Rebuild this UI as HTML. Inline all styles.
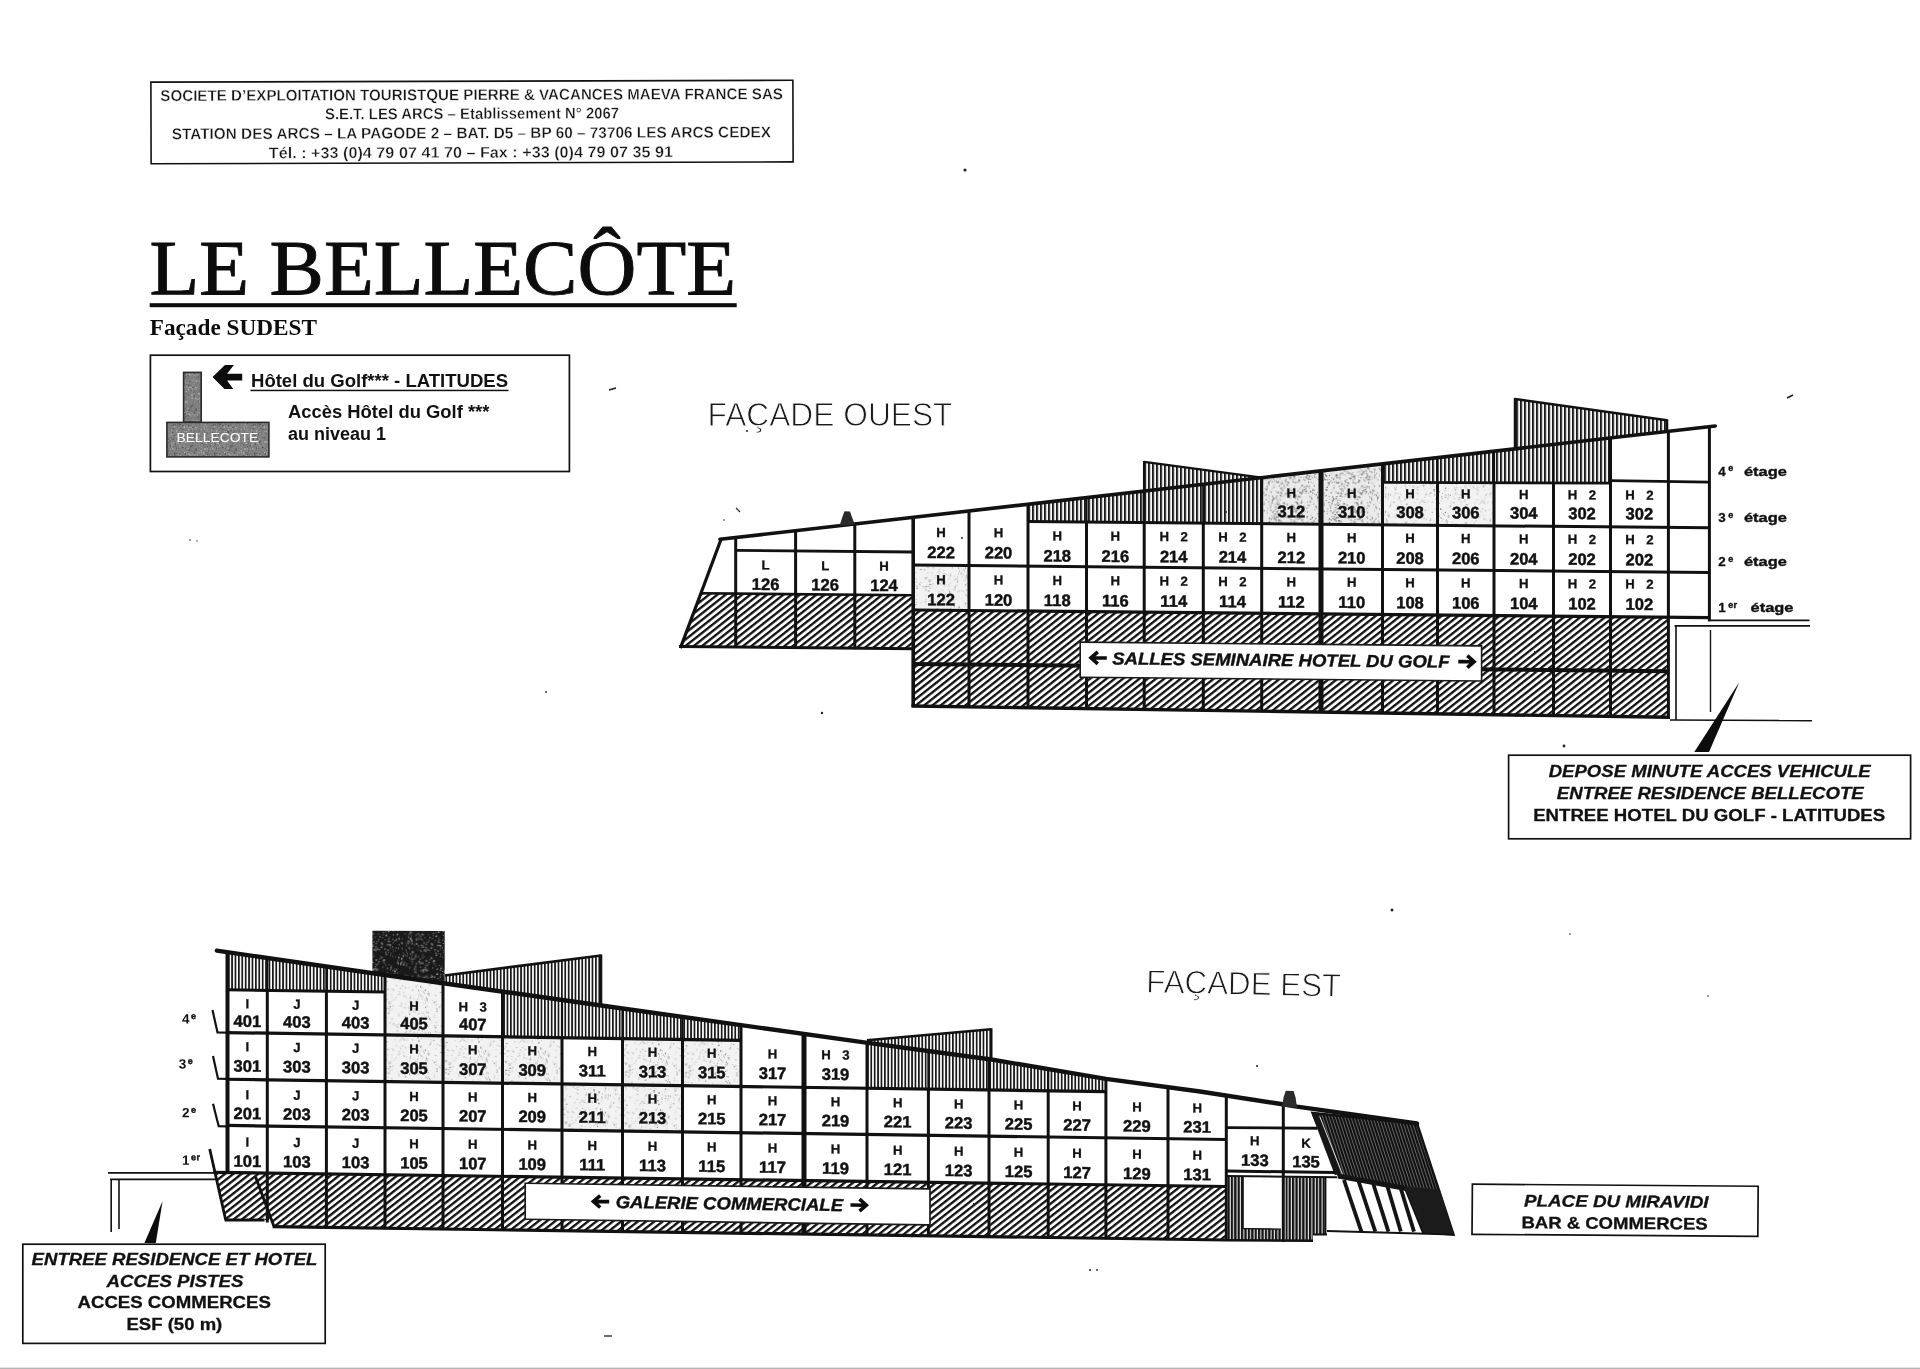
<!DOCTYPE html>
<html lang="fr"><head><meta charset="utf-8"><title>Le Bellecôte</title>
<style>html,body{margin:0;padding:0;background:#fff;}body{width:1920px;height:1369px;overflow:hidden;font-family:"Liberation Sans",sans-serif;}svg{display:block;position:absolute;left:0;top:0;filter:blur(0.35px);}</style>
</head><body>
<svg width="1920" height="1369" viewBox="0 0 1920 1369">
<defs>
<pattern id="hatch" width="5.1" height="5.1" patternUnits="userSpaceOnUse" patternTransform="rotate(-38.7)"><rect width="5.1" height="5.1" fill="#fff"/><rect width="5.1" height="2.3" fill="#111"/></pattern>
<pattern id="vsw" width="4" height="8" patternUnits="userSpaceOnUse"><rect width="4" height="8" fill="#f8f8f8"/><rect width="2.0" height="8" fill="#1a1a1a"/></pattern>
<pattern id="vse" width="3.4" height="8" patternUnits="userSpaceOnUse"><rect width="3.4" height="8" fill="#fff"/><rect width="1.75" height="8" fill="#1a1a1a"/></pattern>
<pattern id="vsb" width="3.4" height="8" patternUnits="userSpaceOnUse"><rect width="3.4" height="8" fill="#e8e8e8"/><rect width="2.3" height="8" fill="#151515"/></pattern>
<pattern id="vsd" width="3" height="8" patternUnits="userSpaceOnUse" patternTransform="rotate(-18)"><rect width="3" height="8" fill="#777"/><rect width="2.2" height="8" fill="#111"/></pattern>
<pattern id="spl" width="60" height="60" patternUnits="userSpaceOnUse">
<rect width="60" height="60" fill="#f2f2f2"/>
<rect x="19.43" y="9.05" width="1.02" height="0.56" fill="#bbb"/>
<rect x="5.65" y="34.97" width="1.23" height="0.67" fill="#777"/>
<rect x="26.02" y="4.19" width="0.57" height="0.84" fill="#bbb"/>
<rect x="7.43" y="13.39" width="1" height="1.26" fill="#bbb"/>
<rect x="35.13" y="2.98" width="0.68" height="0.95" fill="#999"/>
<rect x="17.38" y="8.66" width="0.59" height="0.75" fill="#999"/>
<rect x="6.18" y="34.27" width="0.65" height="0.58" fill="#777"/>
<rect x="33.86" y="37.14" width="0.9" height="0.93" fill="#aaa"/>
<rect x="27.94" y="55.41" width="0.79" height="0.7" fill="#999"/>
<rect x="41.94" y="14.65" width="0.96" height="0.92" fill="#aaa"/>
<rect x="43.77" y="17.28" width="1.28" height="0.59" fill="#666"/>
<rect x="9.9" y="20.52" width="1.25" height="0.84" fill="#777"/>
<rect x="45.87" y="34.38" width="1.2" height="0.75" fill="#aaa"/>
<rect x="35.66" y="34.79" width="0.86" height="1.17" fill="#aaa"/>
<rect x="28.45" y="39.85" width="0.55" height="1.06" fill="#bbb"/>
<rect x="59.59" y="49.32" width="0.73" height="0.81" fill="#aaa"/>
<rect x="1.35" y="27.7" width="0.63" height="0.59" fill="#777"/>
<rect x="13.09" y="17.25" width="1.09" height="0.82" fill="#666"/>
<rect x="4.83" y="26.95" width="0.94" height="1.21" fill="#666"/>
<rect x="51.84" y="16.71" width="0.83" height="0.79" fill="#666"/>
<rect x="57.46" y="9.06" width="0.64" height="0.69" fill="#999"/>
<rect x="0.72" y="49.87" width="0.65" height="0.73" fill="#999"/>
<rect x="25.14" y="22.16" width="0.95" height="1.26" fill="#bbb"/>
<rect x="57.01" y="39.3" width="1.09" height="0.87" fill="#bbb"/>
<rect x="23.54" y="23.94" width="0.58" height="1.01" fill="#777"/>
<rect x="11.44" y="59.08" width="0.85" height="0.59" fill="#bbb"/>
<rect x="3.15" y="0.01" width="0.62" height="0.58" fill="#aaa"/>
<rect x="36.82" y="4.22" width="0.67" height="0.8" fill="#aaa"/>
<rect x="57.33" y="36.14" width="0.88" height="0.59" fill="#666"/>
<rect x="59.59" y="27.96" width="0.89" height="0.57" fill="#777"/>
<rect x="44.98" y="44.42" width="0.88" height="1.05" fill="#bbb"/>
<rect x="1.39" y="57.06" width="0.92" height="0.62" fill="#bbb"/>
<rect x="54.85" y="45.49" width="0.74" height="1.01" fill="#777"/>
<rect x="41.77" y="15.67" width="0.79" height="0.63" fill="#999"/>
<rect x="31.96" y="46.74" width="0.76" height="0.68" fill="#999"/>
<rect x="48.36" y="49.1" width="1.09" height="0.68" fill="#bbb"/>
<rect x="29.57" y="43.86" width="1.29" height="1.13" fill="#666"/>
<rect x="15.55" y="41.55" width="1.27" height="0.86" fill="#aaa"/>
<rect x="57.3" y="21.88" width="0.68" height="0.68" fill="#999"/>
<rect x="20.26" y="28.96" width="1.29" height="0.99" fill="#777"/>
<rect x="28.77" y="39.18" width="1.14" height="0.57" fill="#777"/>
<rect x="54.59" y="46.94" width="1.1" height="0.88" fill="#999"/>
<rect x="26.04" y="38.15" width="0.57" height="1.26" fill="#666"/>
<rect x="27.79" y="44.6" width="0.57" height="0.63" fill="#999"/>
<rect x="1.65" y="35.45" width="0.87" height="1.02" fill="#bbb"/>
<rect x="49.59" y="58.82" width="1.03" height="0.78" fill="#bbb"/>
<rect x="32.9" y="1.28" width="1.14" height="1.08" fill="#777"/>
<rect x="31.59" y="56.02" width="0.85" height="1.2" fill="#999"/>
<rect x="1.68" y="12.77" width="0.9" height="1.11" fill="#aaa"/>
<rect x="15.56" y="25.14" width="0.6" height="1.23" fill="#aaa"/>
<rect x="53.86" y="39.75" width="1.15" height="0.91" fill="#bbb"/>
<rect x="7.85" y="9.11" width="0.91" height="1.2" fill="#999"/>
<rect x="36.51" y="46.56" width="0.62" height="0.61" fill="#bbb"/>
<rect x="43.51" y="33.39" width="0.76" height="0.91" fill="#bbb"/>
<rect x="28.95" y="46.59" width="1.21" height="0.55" fill="#999"/>
<rect x="16.62" y="46.34" width="0.91" height="0.95" fill="#777"/>
<rect x="26.59" y="36.75" width="0.9" height="0.91" fill="#aaa"/>
<rect x="27.14" y="32" width="0.88" height="1.25" fill="#bbb"/>
<rect x="52.59" y="56.53" width="0.71" height="0.95" fill="#999"/>
<rect x="50.4" y="8.23" width="0.6" height="0.85" fill="#777"/>
<rect x="40.27" y="25.7" width="0.67" height="0.74" fill="#777"/>
<rect x="53.82" y="9.27" width="1.07" height="1.03" fill="#999"/>
<rect x="15.19" y="8.24" width="0.87" height="1.1" fill="#777"/>
<rect x="23.9" y="29.24" width="1.29" height="1.17" fill="#999"/>
<rect x="42.38" y="59.64" width="0.82" height="0.84" fill="#aaa"/>
<rect x="19.11" y="43.33" width="0.52" height="0.94" fill="#666"/>
<rect x="42.19" y="23.06" width="0.91" height="0.74" fill="#777"/>
<rect x="6.77" y="55.11" width="0.68" height="1.2" fill="#777"/>
<rect x="15.93" y="2.38" width="1.12" height="0.72" fill="#999"/>
<rect x="49.19" y="50.98" width="1.04" height="1.26" fill="#666"/>
<rect x="8.96" y="55.15" width="0.96" height="1.06" fill="#777"/>
<rect x="16.74" y="47.98" width="0.65" height="1.22" fill="#aaa"/>
<rect x="56.3" y="38.07" width="1.14" height="0.57" fill="#999"/>
<rect x="4" y="51.77" width="0.86" height="0.77" fill="#bbb"/>
<rect x="25.07" y="54.93" width="1" height="0.53" fill="#999"/>
<rect x="56.29" y="58.15" width="0.71" height="0.64" fill="#aaa"/>
<rect x="37.72" y="31.87" width="0.66" height="0.86" fill="#999"/>
<rect x="16.23" y="48.22" width="1.3" height="0.53" fill="#777"/>
<rect x="43.98" y="33.06" width="0.65" height="0.88" fill="#666"/>
<rect x="6.38" y="49.14" width="0.85" height="0.9" fill="#666"/>
<rect x="58.22" y="18.47" width="0.67" height="0.68" fill="#999"/>
<rect x="49.94" y="42.4" width="1.01" height="0.82" fill="#aaa"/>
<rect x="58.91" y="50.22" width="0.51" height="1" fill="#aaa"/>
<rect x="25.84" y="3.32" width="1.03" height="0.8" fill="#bbb"/>
<rect x="40.23" y="16.92" width="0.69" height="0.73" fill="#666"/>
<rect x="11.12" y="16.14" width="0.5" height="0.79" fill="#aaa"/>
<rect x="58.36" y="32.82" width="0.7" height="1.27" fill="#aaa"/>
<rect x="13.07" y="10.98" width="0.77" height="0.57" fill="#aaa"/>
<rect x="30.17" y="12.06" width="0.9" height="0.5" fill="#aaa"/>
<rect x="49.02" y="8.63" width="0.97" height="0.82" fill="#aaa"/>
<rect x="18.25" y="13.97" width="0.97" height="0.92" fill="#999"/>
<rect x="39.45" y="42.96" width="1.2" height="0.81" fill="#aaa"/>
<rect x="43.24" y="29.65" width="0.73" height="0.99" fill="#999"/>
<rect x="2.63" y="50.12" width="1.21" height="1" fill="#bbb"/>
<rect x="8.36" y="31.43" width="0.9" height="1.17" fill="#777"/>
<rect x="49.58" y="35.04" width="1.21" height="1.05" fill="#999"/>
<rect x="5.11" y="2.51" width="1.01" height="1.27" fill="#666"/>
<rect x="50.15" y="33.51" width="1" height="1" fill="#999"/>
<rect x="29.36" y="0.2" width="1.14" height="1.1" fill="#bbb"/>
<rect x="53.87" y="5.52" width="0.92" height="1.1" fill="#666"/>
<rect x="15.13" y="4.47" width="0.71" height="1.08" fill="#999"/>
<rect x="13.84" y="39" width="0.87" height="1.18" fill="#777"/>
<rect x="28.74" y="41.02" width="1.11" height="0.99" fill="#999"/>
<rect x="4.65" y="8.85" width="0.7" height="1.09" fill="#aaa"/>
<rect x="37.27" y="8.01" width="0.89" height="0.89" fill="#777"/>
<rect x="41.53" y="40.54" width="0.73" height="0.91" fill="#666"/>
<rect x="27.95" y="46.03" width="1.29" height="0.94" fill="#aaa"/>
<rect x="58.69" y="56.18" width="0.51" height="0.87" fill="#bbb"/>
<rect x="58.09" y="26.97" width="0.71" height="0.67" fill="#999"/>
<rect x="4.48" y="5.42" width="1.1" height="0.71" fill="#aaa"/>
<rect x="7.96" y="49.21" width="0.91" height="1.21" fill="#aaa"/>
<rect x="13.88" y="53.86" width="0.89" height="0.52" fill="#777"/>
<rect x="57" y="40.9" width="0.82" height="1.08" fill="#666"/>
<rect x="20.64" y="18.96" width="1.17" height="0.5" fill="#aaa"/>
<rect x="50.35" y="7.2" width="1.24" height="1.07" fill="#aaa"/>
<rect x="15.19" y="3.9" width="0.81" height="1.2" fill="#777"/>
<rect x="21.64" y="25.68" width="0.72" height="0.54" fill="#777"/>
<rect x="3.1" y="39.72" width="1.01" height="0.62" fill="#aaa"/>
<rect x="26.17" y="18.94" width="1.12" height="1.13" fill="#666"/>
<rect x="53.06" y="48.72" width="1" height="1.23" fill="#bbb"/>
<rect x="32.95" y="43.17" width="0.54" height="1.09" fill="#666"/>
<rect x="36.89" y="8.31" width="1.2" height="0.89" fill="#bbb"/>
<rect x="7.64" y="28.33" width="0.77" height="0.74" fill="#aaa"/>
<rect x="24.37" y="14.32" width="0.89" height="1.04" fill="#777"/>
<rect x="10.04" y="9.7" width="0.67" height="1.22" fill="#666"/>
<rect x="33.02" y="27.18" width="0.77" height="1.11" fill="#666"/>
<rect x="8.38" y="11.54" width="0.57" height="0.77" fill="#777"/>
<rect x="19.16" y="22.1" width="1.15" height="0.66" fill="#777"/>
<rect x="44.98" y="24.77" width="0.83" height="0.92" fill="#666"/>
<rect x="16.21" y="45.13" width="0.9" height="0.96" fill="#aaa"/>
<rect x="7.55" y="30.2" width="1" height="1.19" fill="#999"/>
<rect x="5.56" y="53.81" width="0.81" height="1.02" fill="#666"/>
<rect x="57.24" y="50.92" width="1.2" height="0.52" fill="#777"/>
<rect x="25.51" y="45.82" width="1.14" height="1.27" fill="#666"/>
<rect x="0.01" y="23.49" width="1.24" height="1.16" fill="#666"/>
<rect x="58.33" y="14.91" width="0.59" height="0.62" fill="#bbb"/>
<rect x="58.31" y="6.53" width="1.16" height="1.06" fill="#666"/>
<rect x="5.1" y="46.61" width="0.5" height="0.6" fill="#bbb"/>
<rect x="55.2" y="38.73" width="0.74" height="0.6" fill="#aaa"/>
<rect x="31.7" y="26.25" width="1.11" height="0.58" fill="#aaa"/>
<rect x="31.47" y="34.97" width="0.81" height="0.68" fill="#bbb"/>
<rect x="0.07" y="32.25" width="1.3" height="0.72" fill="#aaa"/>
<rect x="38.67" y="53.03" width="0.88" height="0.69" fill="#999"/>
<rect x="1.76" y="24.71" width="1.02" height="0.54" fill="#999"/>
<rect x="29.9" y="40.47" width="0.84" height="0.71" fill="#666"/>
<rect x="55.51" y="13.61" width="0.53" height="0.77" fill="#666"/>
<rect x="21.74" y="23.78" width="0.51" height="0.73" fill="#bbb"/>
<rect x="4.05" y="29.74" width="0.66" height="1.11" fill="#999"/>
<rect x="13.85" y="13.29" width="1.11" height="0.74" fill="#bbb"/>
<rect x="29.75" y="11.24" width="0.68" height="0.83" fill="#777"/>
<rect x="56.93" y="8.78" width="0.81" height="0.67" fill="#bbb"/>
<rect x="8.51" y="3.11" width="0.55" height="0.81" fill="#aaa"/>
<rect x="43.96" y="59.85" width="1.25" height="0.76" fill="#999"/>
<rect x="39.15" y="31.49" width="0.87" height="0.75" fill="#666"/>
<rect x="50.35" y="59.1" width="0.85" height="0.59" fill="#777"/>
<rect x="16.79" y="21.09" width="1.26" height="0.6" fill="#999"/>
<rect x="22.81" y="46.12" width="0.75" height="1.14" fill="#777"/>
<rect x="2.96" y="28.41" width="0.8" height="1.24" fill="#999"/>
<rect x="19.4" y="44.24" width="0.88" height="1.01" fill="#999"/>
<rect x="48.71" y="46" width="0.53" height="0.53" fill="#777"/>
<rect x="48.2" y="3.72" width="0.66" height="0.55" fill="#bbb"/>
<rect x="20.34" y="16.34" width="1.27" height="0.99" fill="#aaa"/>
<rect x="44.79" y="41.37" width="1.24" height="0.74" fill="#bbb"/>
<rect x="54.99" y="38.04" width="1.25" height="0.52" fill="#999"/>
<rect x="6.44" y="42.93" width="0.87" height="1.12" fill="#aaa"/>
<rect x="54.81" y="48.89" width="0.61" height="0.9" fill="#777"/>
<rect x="48.15" y="44.31" width="1.16" height="1.12" fill="#bbb"/>
<rect x="14.17" y="51.67" width="0.87" height="1.13" fill="#bbb"/>
<rect x="4.74" y="11.84" width="1.1" height="0.7" fill="#777"/>
<rect x="38.97" y="28.9" width="0.94" height="0.63" fill="#666"/>
<rect x="53.01" y="59.27" width="0.71" height="0.57" fill="#777"/>
<rect x="25.26" y="59.31" width="1.28" height="0.64" fill="#999"/>
<rect x="25.01" y="37.22" width="1.04" height="1.1" fill="#777"/>
<rect x="46.79" y="17.64" width="0.72" height="0.71" fill="#aaa"/>
<rect x="44.28" y="11.95" width="0.7" height="0.7" fill="#999"/>
<rect x="16.88" y="54.45" width="0.65" height="0.55" fill="#aaa"/>
<rect x="59.55" y="30.44" width="0.69" height="1.15" fill="#666"/>
<rect x="59.46" y="6.14" width="0.88" height="1.16" fill="#666"/>
<rect x="54.86" y="2.42" width="0.73" height="0.6" fill="#999"/>
<rect x="36.03" y="49.68" width="0.66" height="0.56" fill="#bbb"/>
<rect x="51.97" y="26.95" width="0.71" height="1.12" fill="#777"/>
<rect x="6.35" y="35.77" width="1" height="0.67" fill="#aaa"/>
<rect x="20.4" y="2.65" width="1.3" height="0.53" fill="#999"/>
<rect x="48.88" y="49.13" width="0.83" height="0.8" fill="#bbb"/>
<rect x="18.73" y="12.2" width="1.14" height="0.94" fill="#777"/>
<rect x="24.49" y="47.75" width="1.03" height="0.62" fill="#bbb"/>
<rect x="5.47" y="9.82" width="1.06" height="0.83" fill="#aaa"/>
<rect x="40.07" y="25.07" width="0.54" height="1.1" fill="#aaa"/>
<rect x="24.84" y="1.09" width="1.11" height="1.14" fill="#999"/>
<rect x="23.44" y="24.3" width="1.25" height="0.85" fill="#999"/>
<rect x="25.43" y="49.22" width="0.82" height="1.21" fill="#666"/>
<rect x="46.38" y="7.8" width="0.54" height="0.61" fill="#666"/>
<rect x="5.34" y="37.33" width="0.8" height="0.9" fill="#999"/>
<rect x="20.88" y="9.71" width="0.64" height="0.55" fill="#666"/>
<rect x="29.43" y="48.29" width="1.27" height="0.66" fill="#999"/>
<rect x="50.24" y="2.61" width="1.23" height="0.75" fill="#bbb"/>
<rect x="55.57" y="23.27" width="1.22" height="1" fill="#999"/>
<rect x="38.42" y="51.4" width="1" height="0.99" fill="#999"/>
<rect x="49.75" y="10.98" width="0.67" height="0.82" fill="#bbb"/>
<rect x="9.39" y="21.55" width="0.62" height="1.28" fill="#999"/>
<rect x="2.47" y="33.74" width="1.11" height="0.53" fill="#aaa"/>
<rect x="7.06" y="35.97" width="0.94" height="1" fill="#aaa"/>
<rect x="38.94" y="18.49" width="0.7" height="0.81" fill="#aaa"/>
<rect x="26.81" y="26.3" width="0.52" height="1" fill="#666"/>
<rect x="27.92" y="26.81" width="0.99" height="1.16" fill="#999"/>
<rect x="48.63" y="24.02" width="0.55" height="0.79" fill="#aaa"/>
<rect x="5.5" y="26.52" width="0.91" height="0.53" fill="#999"/>
<rect x="4.93" y="44.01" width="1.12" height="0.91" fill="#777"/>
<rect x="45.12" y="53.69" width="1.02" height="1.13" fill="#777"/>
<rect x="51.42" y="59.77" width="1.09" height="1.15" fill="#999"/>
<rect x="7.9" y="53.14" width="0.73" height="1.15" fill="#999"/>
<rect x="41.17" y="43.26" width="0.68" height="1.17" fill="#bbb"/>
<rect x="45.37" y="9.53" width="1.22" height="0.72" fill="#666"/>
<rect x="8.61" y="30.13" width="1.24" height="0.67" fill="#aaa"/>
<rect x="36.95" y="14.24" width="0.8" height="0.66" fill="#666"/>
<rect x="9.67" y="56.18" width="1.04" height="1.22" fill="#999"/>
<rect x="47.53" y="15.86" width="1.11" height="0.54" fill="#aaa"/>
<rect x="57.97" y="27.18" width="0.92" height="1.05" fill="#777"/>
<rect x="15.12" y="32.14" width="1.19" height="1.09" fill="#aaa"/>
<rect x="15.89" y="59.43" width="0.96" height="0.79" fill="#777"/>
<rect x="26.54" y="10.61" width="1.09" height="0.54" fill="#bbb"/>
<rect x="15.22" y="38.35" width="1.29" height="0.97" fill="#aaa"/>
<rect x="43.98" y="44.83" width="0.68" height="0.73" fill="#666"/>
<rect x="25.06" y="21.85" width="0.54" height="0.89" fill="#bbb"/>
<rect x="39.19" y="1.34" width="0.5" height="0.78" fill="#777"/>
<rect x="31.39" y="32.05" width="0.83" height="0.74" fill="#999"/>
<rect x="12.25" y="37.44" width="0.88" height="0.61" fill="#999"/>
<rect x="42.45" y="27.05" width="0.55" height="0.62" fill="#aaa"/>
<rect x="24.12" y="15.85" width="0.51" height="1.02" fill="#bbb"/>
<rect x="53.56" y="35.68" width="0.96" height="0.98" fill="#bbb"/>
<rect x="44.01" y="14.91" width="1.22" height="0.54" fill="#bbb"/>
<rect x="1.51" y="11.14" width="0.63" height="1.23" fill="#777"/>
<rect x="0.74" y="33.06" width="1.25" height="0.61" fill="#999"/>
<rect x="31.1" y="38.56" width="1.02" height="0.83" fill="#bbb"/>
<rect x="10.48" y="18.56" width="0.74" height="0.54" fill="#666"/>
<rect x="42.92" y="0.38" width="1.18" height="1.1" fill="#666"/>
<rect x="4.83" y="39.33" width="0.64" height="1.3" fill="#aaa"/>
<rect x="13.94" y="2.33" width="0.77" height="1.1" fill="#aaa"/>
<rect x="42.7" y="15.96" width="0.94" height="0.85" fill="#bbb"/>
<rect x="58.31" y="17.74" width="1.24" height="1.22" fill="#777"/>
<rect x="52.8" y="0.91" width="0.71" height="0.69" fill="#999"/>
<rect x="56.68" y="44.77" width="0.76" height="1.2" fill="#aaa"/>
<rect x="36.07" y="22.77" width="1.18" height="1.24" fill="#bbb"/>
<rect x="28.17" y="50.38" width="1.06" height="1.19" fill="#666"/>
<rect x="57.34" y="14.03" width="1.21" height="1.13" fill="#666"/>
<rect x="37.36" y="4.67" width="1.23" height="0.62" fill="#777"/>
<rect x="6.71" y="37.32" width="0.63" height="1.28" fill="#777"/>
<rect x="1.85" y="8.3" width="1.01" height="0.53" fill="#777"/>
<rect x="44.21" y="3.95" width="0.97" height="0.79" fill="#bbb"/>
<rect x="53.48" y="3.96" width="1.19" height="1.23" fill="#666"/>
<rect x="6.43" y="12.34" width="0.59" height="0.53" fill="#777"/>
<rect x="49.5" y="37.89" width="0.73" height="0.58" fill="#777"/>
<rect x="47.52" y="38.78" width="0.74" height="0.77" fill="#aaa"/>
<rect x="1.26" y="15.4" width="0.73" height="1.07" fill="#aaa"/>
<rect x="54.62" y="46.15" width="0.98" height="0.88" fill="#aaa"/>
<rect x="37.1" y="1.86" width="0.83" height="0.85" fill="#777"/>
<rect x="20.81" y="42.28" width="0.93" height="0.67" fill="#777"/>
<rect x="34.47" y="17.23" width="0.85" height="0.92" fill="#aaa"/>
<rect x="45.73" y="58.67" width="0.5" height="0.89" fill="#666"/>
<rect x="41.71" y="49.52" width="1.27" height="0.97" fill="#bbb"/>
</pattern>
<pattern id="sph" width="60" height="60" patternUnits="userSpaceOnUse">
<rect width="60" height="60" fill="#ebebeb"/>
<rect x="15.63" y="56.63" width="0.86" height="0.79" fill="#777"/>
<rect x="29.9" y="6.6" width="1.17" height="0.67" fill="#888"/>
<rect x="47.22" y="37.68" width="0.92" height="0.96" fill="#666"/>
<rect x="53.51" y="44.71" width="0.98" height="1.18" fill="#999"/>
<rect x="12.37" y="15.79" width="1.41" height="1.05" fill="#666"/>
<rect x="58.94" y="37.84" width="1.45" height="0.71" fill="#888"/>
<rect x="45.27" y="45.18" width="1.18" height="0.91" fill="#999"/>
<rect x="31.3" y="52.08" width="1.01" height="1.1" fill="#999"/>
<rect x="10.17" y="26.33" width="1.3" height="1.12" fill="#777"/>
<rect x="20.04" y="38.56" width="1.23" height="1.06" fill="#999"/>
<rect x="18.09" y="42.19" width="1.36" height="0.74" fill="#777"/>
<rect x="58.49" y="43.39" width="1.14" height="0.91" fill="#777"/>
<rect x="19.68" y="11.36" width="1.48" height="1.26" fill="#555"/>
<rect x="9.88" y="39.47" width="0.78" height="0.74" fill="#777"/>
<rect x="47.69" y="44" width="0.99" height="0.78" fill="#555"/>
<rect x="16.85" y="53.11" width="1.02" height="0.61" fill="#666"/>
<rect x="41.61" y="30.03" width="1.17" height="1.02" fill="#777"/>
<rect x="15.43" y="44.29" width="0.6" height="0.82" fill="#666"/>
<rect x="42.07" y="35.25" width="1.18" height="1.36" fill="#888"/>
<rect x="51.15" y="40.78" width="1.18" height="1.01" fill="#999"/>
<rect x="15.59" y="42.04" width="1.41" height="0.82" fill="#666"/>
<rect x="42.79" y="37.78" width="0.83" height="0.98" fill="#666"/>
<rect x="1.18" y="51.51" width="1.07" height="1.19" fill="#777"/>
<rect x="53.67" y="19.68" width="0.61" height="1.35" fill="#555"/>
<rect x="2.29" y="32.6" width="0.74" height="1.3" fill="#777"/>
<rect x="31.15" y="6.07" width="1.12" height="1.09" fill="#666"/>
<rect x="30.73" y="38.36" width="1.35" height="1.07" fill="#666"/>
<rect x="44.53" y="27.41" width="1.49" height="0.77" fill="#888"/>
<rect x="45.76" y="7.34" width="1.49" height="0.92" fill="#555"/>
<rect x="15.15" y="22.91" width="0.66" height="0.67" fill="#666"/>
<rect x="37.71" y="40.49" width="1.12" height="0.7" fill="#999"/>
<rect x="44.49" y="56.4" width="1.07" height="0.8" fill="#666"/>
<rect x="27.73" y="9.87" width="1.44" height="0.66" fill="#777"/>
<rect x="28.15" y="33.72" width="0.8" height="1.47" fill="#999"/>
<rect x="39.96" y="49.84" width="1.32" height="0.97" fill="#999"/>
<rect x="45.59" y="38.98" width="1.3" height="1.02" fill="#777"/>
<rect x="16.05" y="22.57" width="0.83" height="0.98" fill="#777"/>
<rect x="28.89" y="48.33" width="1.32" height="0.92" fill="#999"/>
<rect x="19.22" y="29.1" width="1.16" height="0.68" fill="#999"/>
<rect x="9.17" y="18.19" width="0.95" height="0.68" fill="#888"/>
<rect x="54.35" y="47.04" width="0.73" height="1.35" fill="#888"/>
<rect x="0.9" y="0.69" width="1.46" height="1.19" fill="#999"/>
<rect x="36.49" y="34.71" width="1.37" height="0.77" fill="#666"/>
<rect x="20.79" y="9.16" width="1.41" height="1.31" fill="#777"/>
<rect x="36.57" y="41.28" width="1.48" height="0.68" fill="#888"/>
<rect x="47.28" y="50.33" width="0.78" height="1.22" fill="#888"/>
<rect x="4.72" y="50.36" width="1.2" height="0.71" fill="#555"/>
<rect x="15.87" y="14.05" width="0.73" height="1.04" fill="#555"/>
<rect x="29.06" y="54.33" width="1.23" height="0.82" fill="#777"/>
<rect x="32.37" y="51.77" width="0.61" height="1.36" fill="#666"/>
<rect x="41.75" y="29.86" width="0.87" height="1.02" fill="#666"/>
<rect x="25.13" y="57.64" width="0.67" height="1.17" fill="#555"/>
<rect x="1.23" y="2.75" width="1.26" height="1.5" fill="#555"/>
<rect x="30.64" y="29.08" width="1.41" height="0.63" fill="#666"/>
<rect x="37.52" y="20.32" width="1.38" height="0.93" fill="#666"/>
<rect x="46.71" y="33.25" width="1.42" height="0.86" fill="#999"/>
<rect x="25.34" y="33.24" width="1.34" height="0.86" fill="#666"/>
<rect x="24.22" y="30.22" width="0.84" height="1.06" fill="#777"/>
<rect x="39.27" y="47.52" width="0.9" height="0.89" fill="#999"/>
<rect x="7.65" y="58.36" width="0.68" height="1.5" fill="#666"/>
<rect x="43.36" y="53.14" width="1.09" height="0.64" fill="#999"/>
<rect x="6.51" y="2.78" width="1.34" height="1.03" fill="#555"/>
<rect x="47.34" y="54.59" width="1.15" height="1.16" fill="#888"/>
<rect x="52.58" y="4.98" width="0.64" height="1.17" fill="#777"/>
<rect x="6.08" y="10.88" width="0.63" height="1.3" fill="#555"/>
<rect x="22.13" y="49.36" width="1.31" height="1.11" fill="#999"/>
<rect x="51.75" y="11.09" width="0.63" height="0.62" fill="#888"/>
<rect x="38.51" y="56.03" width="0.65" height="1.11" fill="#555"/>
<rect x="49.49" y="46.43" width="0.98" height="1.23" fill="#666"/>
<rect x="26.79" y="0.85" width="0.95" height="1.13" fill="#777"/>
<rect x="28.53" y="24.75" width="0.69" height="1.18" fill="#777"/>
<rect x="53.75" y="37.61" width="0.98" height="0.61" fill="#555"/>
<rect x="59.2" y="51.51" width="0.8" height="0.71" fill="#666"/>
<rect x="1.07" y="43.16" width="0.82" height="1.26" fill="#777"/>
<rect x="55.37" y="21.95" width="1.27" height="1.23" fill="#777"/>
<rect x="43.78" y="5.06" width="1.17" height="1.24" fill="#666"/>
<rect x="40.17" y="53.4" width="1.42" height="0.65" fill="#555"/>
<rect x="0.68" y="0.88" width="1.19" height="1.34" fill="#555"/>
<rect x="23.34" y="18.75" width="1.14" height="1.46" fill="#666"/>
<rect x="36.54" y="18.98" width="1.45" height="1.25" fill="#666"/>
<rect x="40.61" y="8.69" width="1.32" height="0.93" fill="#777"/>
<rect x="37.78" y="25.08" width="0.95" height="1.31" fill="#999"/>
<rect x="47.08" y="34.01" width="0.86" height="0.65" fill="#888"/>
<rect x="19.92" y="36.35" width="1.48" height="1.35" fill="#888"/>
<rect x="49.96" y="35.08" width="1.48" height="0.82" fill="#666"/>
<rect x="41.09" y="36.11" width="1.41" height="1.33" fill="#999"/>
<rect x="41.31" y="19.29" width="0.84" height="0.74" fill="#555"/>
<rect x="17.31" y="8.44" width="1.4" height="1.49" fill="#777"/>
<rect x="16.43" y="51.07" width="1.33" height="1.22" fill="#666"/>
<rect x="20.81" y="5.1" width="1.1" height="1.32" fill="#777"/>
<rect x="47.26" y="43.33" width="1.48" height="0.88" fill="#555"/>
<rect x="40.66" y="27.92" width="0.79" height="0.83" fill="#555"/>
<rect x="47.5" y="27.58" width="0.68" height="1.33" fill="#555"/>
<rect x="13.97" y="34.78" width="1.41" height="1.4" fill="#888"/>
<rect x="19.26" y="30.37" width="0.78" height="0.79" fill="#555"/>
<rect x="10.84" y="42.06" width="0.93" height="1.11" fill="#666"/>
<rect x="46.78" y="51.42" width="0.82" height="1.43" fill="#666"/>
<rect x="22.44" y="6.37" width="1.17" height="1.31" fill="#777"/>
<rect x="18.95" y="1.82" width="0.85" height="1.15" fill="#555"/>
<rect x="2.01" y="59.42" width="1.38" height="1.04" fill="#888"/>
<rect x="12.81" y="55.53" width="0.85" height="0.69" fill="#666"/>
<rect x="46.03" y="49.13" width="1.47" height="0.83" fill="#555"/>
<rect x="20.33" y="59.68" width="0.94" height="0.62" fill="#555"/>
<rect x="33.44" y="52.24" width="1.01" height="1.45" fill="#555"/>
<rect x="51.78" y="38.39" width="1.43" height="1.24" fill="#555"/>
<rect x="15.43" y="33.87" width="1.18" height="1.46" fill="#888"/>
<rect x="23.59" y="26.9" width="0.74" height="1.47" fill="#777"/>
<rect x="10.33" y="56.5" width="1.45" height="0.65" fill="#888"/>
<rect x="54.27" y="50.23" width="0.64" height="1.31" fill="#666"/>
<rect x="3.35" y="8.69" width="1.28" height="1.45" fill="#999"/>
<rect x="35.39" y="26.48" width="1.19" height="1.02" fill="#999"/>
<rect x="15.42" y="7.45" width="1.03" height="0.75" fill="#777"/>
<rect x="48.45" y="54.86" width="1.4" height="1.02" fill="#777"/>
<rect x="47.93" y="9.42" width="1.35" height="0.67" fill="#888"/>
<rect x="52.01" y="53.32" width="0.73" height="1" fill="#555"/>
<rect x="55.56" y="23.1" width="0.62" height="0.67" fill="#999"/>
<rect x="19.35" y="14.03" width="0.7" height="0.93" fill="#999"/>
<rect x="13.3" y="3.4" width="1.24" height="1.1" fill="#777"/>
<rect x="26.34" y="8.96" width="0.98" height="0.82" fill="#555"/>
<rect x="16.27" y="50.37" width="0.9" height="0.75" fill="#666"/>
<rect x="6.55" y="27.37" width="1.03" height="0.74" fill="#888"/>
<rect x="3.41" y="53.7" width="1.2" height="0.79" fill="#666"/>
<rect x="50.12" y="7.15" width="1.28" height="1.47" fill="#666"/>
<rect x="59.46" y="59.89" width="1.43" height="0.69" fill="#999"/>
<rect x="24.94" y="9.73" width="1.35" height="1.48" fill="#777"/>
<rect x="58.72" y="0.96" width="1.33" height="0.91" fill="#777"/>
<rect x="26.58" y="47.37" width="1.45" height="0.86" fill="#999"/>
<rect x="26.11" y="54.72" width="0.8" height="1.11" fill="#777"/>
<rect x="50.6" y="31.3" width="0.81" height="0.76" fill="#888"/>
<rect x="4.76" y="5.25" width="1.15" height="1.05" fill="#999"/>
<rect x="10.52" y="8.22" width="1.2" height="1.17" fill="#777"/>
<rect x="34.98" y="12.14" width="0.66" height="1.26" fill="#666"/>
<rect x="50.46" y="54.97" width="1.07" height="0.91" fill="#999"/>
<rect x="50.51" y="51.87" width="1.04" height="0.61" fill="#666"/>
<rect x="8" y="39.93" width="0.82" height="1.11" fill="#999"/>
<rect x="2.2" y="42.14" width="1.12" height="1.37" fill="#999"/>
<rect x="31.19" y="26.75" width="1.06" height="0.71" fill="#777"/>
<rect x="48.99" y="51.93" width="0.89" height="1.24" fill="#666"/>
<rect x="34.58" y="53.88" width="0.86" height="0.7" fill="#666"/>
<rect x="26.79" y="1.54" width="1.32" height="0.72" fill="#777"/>
<rect x="58.05" y="13.42" width="0.76" height="0.69" fill="#999"/>
<rect x="33.32" y="57.32" width="0.62" height="1.43" fill="#777"/>
<rect x="15.69" y="50.24" width="1.17" height="1.02" fill="#777"/>
<rect x="42.16" y="6.17" width="1.38" height="1.25" fill="#555"/>
<rect x="16.38" y="27.89" width="1.13" height="1.29" fill="#555"/>
<rect x="7.32" y="24.34" width="0.72" height="1.13" fill="#777"/>
<rect x="8.83" y="34.37" width="1.27" height="0.75" fill="#555"/>
<rect x="56.25" y="23.32" width="0.98" height="1.36" fill="#888"/>
<rect x="2.17" y="58.23" width="0.65" height="0.93" fill="#666"/>
<rect x="14.42" y="20.1" width="0.99" height="1.48" fill="#999"/>
<rect x="48.9" y="50.86" width="0.65" height="1.07" fill="#999"/>
<rect x="14.96" y="25.33" width="1.17" height="0.93" fill="#888"/>
<rect x="11.25" y="19.46" width="0.78" height="1.2" fill="#777"/>
<rect x="8.36" y="58.18" width="1.3" height="1.44" fill="#555"/>
<rect x="48.56" y="53.06" width="1.4" height="0.63" fill="#888"/>
<rect x="15.95" y="40.71" width="0.85" height="1.09" fill="#555"/>
<rect x="37.28" y="15.03" width="1.07" height="0.99" fill="#555"/>
<rect x="17.25" y="18.32" width="1.18" height="0.71" fill="#888"/>
<rect x="57.54" y="55.26" width="1.41" height="0.68" fill="#888"/>
<rect x="32.03" y="8.9" width="0.71" height="0.72" fill="#999"/>
<rect x="54.94" y="34.64" width="0.85" height="1.26" fill="#888"/>
<rect x="17.23" y="27.25" width="1.23" height="0.8" fill="#666"/>
<rect x="12.07" y="42.62" width="1.01" height="1.09" fill="#888"/>
<rect x="28.67" y="49.13" width="0.63" height="0.9" fill="#777"/>
<rect x="30.75" y="22.99" width="1.13" height="0.61" fill="#999"/>
<rect x="9.74" y="57.12" width="0.89" height="0.89" fill="#999"/>
<rect x="17.09" y="59.25" width="0.87" height="1.29" fill="#777"/>
<rect x="33.07" y="36.36" width="0.91" height="1.19" fill="#888"/>
<rect x="23.27" y="26.39" width="1.26" height="0.7" fill="#777"/>
<rect x="59.36" y="40.66" width="1.44" height="0.98" fill="#999"/>
<rect x="8.42" y="12.15" width="1.15" height="0.85" fill="#888"/>
<rect x="5.7" y="51.38" width="1.43" height="1.5" fill="#999"/>
<rect x="47.1" y="42.51" width="1.42" height="0.71" fill="#555"/>
<rect x="0.26" y="45.94" width="1.13" height="1.05" fill="#888"/>
<rect x="8.98" y="51" width="0.85" height="1.16" fill="#555"/>
<rect x="22.77" y="27.14" width="1.01" height="1.25" fill="#999"/>
<rect x="21.18" y="31.57" width="1.14" height="1.18" fill="#555"/>
<rect x="47.22" y="50.97" width="1.05" height="1" fill="#777"/>
<rect x="32.21" y="48.18" width="0.99" height="0.94" fill="#777"/>
<rect x="5.28" y="55.21" width="0.89" height="1.36" fill="#777"/>
<rect x="57.53" y="12.26" width="0.98" height="1.42" fill="#555"/>
<rect x="1.53" y="15.39" width="1.41" height="0.87" fill="#888"/>
<rect x="46.41" y="32.31" width="1.5" height="1.07" fill="#888"/>
<rect x="43.63" y="25.8" width="1.02" height="0.64" fill="#999"/>
<rect x="27.18" y="0.62" width="0.66" height="0.81" fill="#666"/>
<rect x="22.46" y="24.05" width="1.11" height="1.12" fill="#777"/>
<rect x="57.87" y="29.2" width="1" height="1.16" fill="#888"/>
<rect x="20.6" y="31.81" width="1.33" height="0.75" fill="#999"/>
<rect x="22" y="4.51" width="0.88" height="0.76" fill="#999"/>
<rect x="41.39" y="49.23" width="1.49" height="1.4" fill="#666"/>
<rect x="37.87" y="31.44" width="1.33" height="0.79" fill="#777"/>
<rect x="24.74" y="3.61" width="1.11" height="0.7" fill="#888"/>
<rect x="59.62" y="38.19" width="0.64" height="0.97" fill="#555"/>
<rect x="18.4" y="41.44" width="0.6" height="0.87" fill="#555"/>
<rect x="35.17" y="40.09" width="0.78" height="1.05" fill="#888"/>
<rect x="34.02" y="52.27" width="1.41" height="1.06" fill="#777"/>
<rect x="34.47" y="24.67" width="0.71" height="0.74" fill="#888"/>
<rect x="6.4" y="6.01" width="0.75" height="1.07" fill="#666"/>
<rect x="36.78" y="48.4" width="0.66" height="0.61" fill="#888"/>
<rect x="19.37" y="42.93" width="0.92" height="0.75" fill="#999"/>
<rect x="37.72" y="51.56" width="1.45" height="0.66" fill="#777"/>
<rect x="26.99" y="23.14" width="0.65" height="1.4" fill="#888"/>
<rect x="45.84" y="2.64" width="0.65" height="0.81" fill="#777"/>
<rect x="2.64" y="55.85" width="1.37" height="0.88" fill="#666"/>
<rect x="18.22" y="36.15" width="1.46" height="1.05" fill="#555"/>
<rect x="14.58" y="23.39" width="1.25" height="0.8" fill="#999"/>
<rect x="23.92" y="42.71" width="0.62" height="1.38" fill="#555"/>
<rect x="10.41" y="21.5" width="0.77" height="1.47" fill="#999"/>
<rect x="23.76" y="21.78" width="0.9" height="1.38" fill="#999"/>
<rect x="24.19" y="3.93" width="0.71" height="1.34" fill="#999"/>
<rect x="33.23" y="23.24" width="1.02" height="0.91" fill="#666"/>
<rect x="2.09" y="39.86" width="0.91" height="0.74" fill="#777"/>
<rect x="5.56" y="16.18" width="1.35" height="0.72" fill="#666"/>
<rect x="28.02" y="47.7" width="0.82" height="0.93" fill="#777"/>
<rect x="43.35" y="22.61" width="1.46" height="0.79" fill="#666"/>
<rect x="30.29" y="13.64" width="1.01" height="0.72" fill="#999"/>
<rect x="35.76" y="26.42" width="1.49" height="1.08" fill="#666"/>
<rect x="36.49" y="12.75" width="1.39" height="0.71" fill="#888"/>
<rect x="5.49" y="51.11" width="1.26" height="1.29" fill="#555"/>
<rect x="39.45" y="34.06" width="0.88" height="0.95" fill="#555"/>
<rect x="41.68" y="46.57" width="0.81" height="0.77" fill="#555"/>
<rect x="4.08" y="54.83" width="1.32" height="1.28" fill="#777"/>
<rect x="3.95" y="18.68" width="0.8" height="0.71" fill="#666"/>
<rect x="16.94" y="24.2" width="1.42" height="1.3" fill="#777"/>
<rect x="56.2" y="10.58" width="0.93" height="1.32" fill="#999"/>
<rect x="53.82" y="1.52" width="1.23" height="1.02" fill="#666"/>
<rect x="21.13" y="37.73" width="0.76" height="0.7" fill="#888"/>
<rect x="44.04" y="42.76" width="0.64" height="0.64" fill="#777"/>
<rect x="25.84" y="45.42" width="0.74" height="1.26" fill="#888"/>
<rect x="18.66" y="38.3" width="0.76" height="1.36" fill="#888"/>
<rect x="29.87" y="31.25" width="1.43" height="1.2" fill="#888"/>
<rect x="20.94" y="0.06" width="1.35" height="1.3" fill="#999"/>
<rect x="54.06" y="52.51" width="1.13" height="1.23" fill="#777"/>
<rect x="40.86" y="2.23" width="0.89" height="1.3" fill="#999"/>
<rect x="44.97" y="5.17" width="1.23" height="0.95" fill="#888"/>
<rect x="49.72" y="16.87" width="0.68" height="1.45" fill="#666"/>
<rect x="26.55" y="20.42" width="1.05" height="1.22" fill="#666"/>
<rect x="30.52" y="40.6" width="0.79" height="1.21" fill="#777"/>
<rect x="29.37" y="11.36" width="1.46" height="1.34" fill="#888"/>
<rect x="15.67" y="32.78" width="1.47" height="1.17" fill="#888"/>
<rect x="15.62" y="57.82" width="0.75" height="0.91" fill="#555"/>
<rect x="12.08" y="18.63" width="0.72" height="1.24" fill="#666"/>
<rect x="14.27" y="14.5" width="1.06" height="1" fill="#999"/>
<rect x="41.88" y="8" width="1.24" height="1.13" fill="#777"/>
<rect x="20.01" y="48.92" width="1.09" height="1.28" fill="#777"/>
<rect x="40.62" y="9.29" width="1.48" height="1.36" fill="#666"/>
<rect x="49.87" y="6.87" width="0.86" height="0.92" fill="#777"/>
<rect x="2.6" y="53.75" width="0.87" height="0.7" fill="#999"/>
<rect x="26.88" y="6.78" width="0.89" height="1.02" fill="#999"/>
<rect x="17.37" y="33.45" width="0.64" height="1.02" fill="#666"/>
<rect x="5.04" y="43.03" width="1.48" height="1.11" fill="#555"/>
<rect x="38.71" y="57.4" width="1.04" height="1.31" fill="#999"/>
<rect x="0.5" y="55.17" width="1.18" height="1.16" fill="#999"/>
<rect x="39.18" y="4.69" width="1.27" height="0.62" fill="#666"/>
<rect x="50.37" y="17.78" width="0.77" height="1.17" fill="#777"/>
<rect x="6.13" y="43.13" width="0.88" height="1.16" fill="#666"/>
<rect x="11.07" y="49.52" width="0.89" height="0.93" fill="#888"/>
<rect x="55.18" y="50.27" width="0.83" height="0.65" fill="#555"/>
<rect x="34.01" y="37.69" width="1.34" height="1.24" fill="#555"/>
<rect x="56.7" y="29.66" width="1.05" height="0.74" fill="#999"/>
<rect x="36.16" y="37.59" width="0.73" height="0.8" fill="#777"/>
<rect x="26.59" y="58.19" width="0.68" height="0.64" fill="#666"/>
<rect x="28.76" y="13.1" width="0.94" height="0.63" fill="#888"/>
<rect x="51.32" y="47.22" width="0.98" height="0.85" fill="#555"/>
<rect x="30.88" y="25.27" width="0.9" height="0.99" fill="#777"/>
<rect x="54.24" y="9.87" width="0.87" height="1" fill="#888"/>
<rect x="40.52" y="34.05" width="1.02" height="1.09" fill="#888"/>
<rect x="27.63" y="58.28" width="1.42" height="1.38" fill="#666"/>
<rect x="57.71" y="37.19" width="1.33" height="0.65" fill="#999"/>
<rect x="36.55" y="17.82" width="1.11" height="1.46" fill="#666"/>
<rect x="39.39" y="8.21" width="1.38" height="1.08" fill="#555"/>
<rect x="50.89" y="13.35" width="1.27" height="1.22" fill="#777"/>
<rect x="39.63" y="22.32" width="1.12" height="0.97" fill="#888"/>
<rect x="14.41" y="26.48" width="0.83" height="0.8" fill="#777"/>
<rect x="32.89" y="6.74" width="1.38" height="0.83" fill="#555"/>
<rect x="11.25" y="40.21" width="1.24" height="0.8" fill="#666"/>
<rect x="13.59" y="34.36" width="0.7" height="1.06" fill="#888"/>
<rect x="34.01" y="51.09" width="1.21" height="1.32" fill="#777"/>
<rect x="51.81" y="33.03" width="1.24" height="1.28" fill="#555"/>
<rect x="37.6" y="57.62" width="1.06" height="1.01" fill="#666"/>
<rect x="32.66" y="58.08" width="0.77" height="1.03" fill="#555"/>
<rect x="8.21" y="46.57" width="0.65" height="0.81" fill="#999"/>
<rect x="2.5" y="42.12" width="1.46" height="1.01" fill="#555"/>
<rect x="42.45" y="25.56" width="1.4" height="1.16" fill="#777"/>
<rect x="33.78" y="55.05" width="1.38" height="0.75" fill="#999"/>
<rect x="48.25" y="44.16" width="0.61" height="0.83" fill="#777"/>
<rect x="22.38" y="44.23" width="1.45" height="1.25" fill="#555"/>
<rect x="48.99" y="21.21" width="0.92" height="0.89" fill="#888"/>
<rect x="6.78" y="55.52" width="1.21" height="0.83" fill="#777"/>
<rect x="41.64" y="1.28" width="1.49" height="1" fill="#555"/>
<rect x="29.28" y="4.43" width="0.83" height="0.74" fill="#999"/>
<rect x="52.42" y="40.17" width="1.35" height="1.13" fill="#999"/>
<rect x="32.31" y="41.37" width="1.33" height="1.45" fill="#555"/>
<rect x="1.49" y="59.67" width="1.04" height="1.04" fill="#555"/>
<rect x="48.03" y="2.13" width="0.76" height="1.34" fill="#888"/>
<rect x="23.55" y="28.55" width="0.74" height="1.36" fill="#666"/>
<rect x="13.75" y="57.48" width="1.07" height="0.92" fill="#888"/>
<rect x="12.98" y="53.64" width="1.13" height="0.64" fill="#777"/>
<rect x="49.15" y="43.63" width="0.9" height="1.02" fill="#999"/>
<rect x="18.86" y="20.13" width="1.04" height="0.8" fill="#777"/>
<rect x="27.56" y="59.18" width="0.64" height="0.73" fill="#777"/>
<rect x="16.36" y="16.4" width="1.05" height="0.84" fill="#888"/>
<rect x="34.41" y="35.06" width="0.73" height="1.23" fill="#888"/>
<rect x="54.16" y="5.72" width="0.78" height="0.98" fill="#888"/>
<rect x="38.08" y="21.77" width="0.85" height="1.32" fill="#777"/>
<rect x="40.88" y="18.24" width="1.29" height="1.27" fill="#888"/>
<rect x="51.19" y="14.71" width="1.39" height="1.24" fill="#999"/>
<rect x="3.63" y="20.23" width="0.89" height="1.49" fill="#666"/>
<rect x="30.22" y="53.65" width="1.33" height="1.5" fill="#777"/>
<rect x="8.14" y="0.43" width="1.38" height="1.01" fill="#666"/>
<rect x="23.76" y="46.34" width="1.44" height="1.13" fill="#777"/>
<rect x="18.09" y="18.51" width="1.25" height="1.1" fill="#999"/>
<rect x="4.41" y="11.41" width="1.43" height="1.13" fill="#999"/>
<rect x="34.83" y="59.25" width="0.92" height="1.3" fill="#666"/>
<rect x="43.27" y="55.32" width="1.35" height="0.89" fill="#777"/>
<rect x="16.55" y="15.45" width="0.62" height="0.75" fill="#999"/>
<rect x="14.21" y="1.2" width="0.64" height="1" fill="#888"/>
<rect x="16.96" y="30.11" width="0.69" height="0.82" fill="#555"/>
<rect x="57.79" y="36.06" width="0.67" height="1.33" fill="#888"/>
<rect x="20.47" y="8.2" width="0.77" height="1.08" fill="#555"/>
<rect x="38.39" y="55.37" width="0.79" height="0.89" fill="#555"/>
<rect x="38.94" y="24.32" width="1.21" height="0.9" fill="#555"/>
<rect x="51.8" y="47.78" width="0.68" height="1.15" fill="#666"/>
<rect x="59.27" y="23.97" width="1.45" height="1.39" fill="#555"/>
<rect x="55.52" y="33.85" width="1.49" height="0.65" fill="#888"/>
<rect x="42.61" y="50.1" width="0.74" height="0.62" fill="#777"/>
<rect x="8.56" y="46.03" width="0.68" height="1.33" fill="#666"/>
<rect x="20.65" y="40.81" width="1.38" height="0.74" fill="#888"/>
<rect x="34.5" y="13.8" width="1.16" height="1.33" fill="#666"/>
<rect x="45.8" y="46.56" width="0.88" height="1.3" fill="#666"/>
<rect x="33.56" y="21.68" width="1.08" height="0.85" fill="#999"/>
<rect x="0.54" y="28.55" width="1.19" height="1.3" fill="#999"/>
<rect x="9.04" y="37.73" width="0.96" height="1.48" fill="#555"/>
<rect x="37.48" y="7.33" width="1.09" height="0.78" fill="#777"/>
<rect x="15.55" y="36.36" width="1.26" height="1.41" fill="#777"/>
<rect x="31.71" y="21.05" width="1.24" height="1" fill="#666"/>
<rect x="12.79" y="54.74" width="1.41" height="0.95" fill="#777"/>
<rect x="19.43" y="54.21" width="0.7" height="1.26" fill="#555"/>
<rect x="48.41" y="54.82" width="1.21" height="0.92" fill="#777"/>
<rect x="33.85" y="24.6" width="1.43" height="1.45" fill="#777"/>
<rect x="1.84" y="1.25" width="1.24" height="0.82" fill="#999"/>
<rect x="12.19" y="45.55" width="1.18" height="0.87" fill="#666"/>
<rect x="13" y="34.17" width="0.74" height="1.38" fill="#999"/>
<rect x="57.26" y="8.19" width="0.87" height="0.68" fill="#555"/>
<rect x="29.13" y="53.46" width="0.75" height="1.21" fill="#888"/>
<rect x="57.41" y="12.72" width="0.65" height="1.3" fill="#999"/>
<rect x="2.77" y="46.44" width="1" height="0.99" fill="#777"/>
<rect x="59.69" y="17.86" width="0.62" height="0.7" fill="#555"/>
<rect x="8" y="18.16" width="1.05" height="0.92" fill="#777"/>
<rect x="27.87" y="23.83" width="0.97" height="1.18" fill="#666"/>
<rect x="52.92" y="58.78" width="0.63" height="0.81" fill="#555"/>
<rect x="2.27" y="30.29" width="0.81" height="0.99" fill="#555"/>
<rect x="43.71" y="2.9" width="1.4" height="0.66" fill="#555"/>
<rect x="7.23" y="29.24" width="0.72" height="0.99" fill="#777"/>
<rect x="13.43" y="32.43" width="1.17" height="1.09" fill="#555"/>
<rect x="31.8" y="50.37" width="1.46" height="0.67" fill="#777"/>
<rect x="51.19" y="58.32" width="0.8" height="0.67" fill="#777"/>
<rect x="0.91" y="16.14" width="1.47" height="0.78" fill="#555"/>
<rect x="24.49" y="33.4" width="0.93" height="0.61" fill="#555"/>
<rect x="39.19" y="32.64" width="1.09" height="1.22" fill="#999"/>
<rect x="23.96" y="19.1" width="0.98" height="1.48" fill="#666"/>
<rect x="45.66" y="52.9" width="1.32" height="1.41" fill="#555"/>
<rect x="14.35" y="30.06" width="1.49" height="1.22" fill="#666"/>
<rect x="59.46" y="49.53" width="1.2" height="0.68" fill="#888"/>
<rect x="47.04" y="54.51" width="0.64" height="1.22" fill="#999"/>
<rect x="41.09" y="26.55" width="1.2" height="1.01" fill="#888"/>
<rect x="0.06" y="44.77" width="1.37" height="1.06" fill="#888"/>
<rect x="32.77" y="22.79" width="1.34" height="1.31" fill="#666"/>
<rect x="21.31" y="3.85" width="1.48" height="0.84" fill="#999"/>
<rect x="4.32" y="47.84" width="1.2" height="1.43" fill="#999"/>
<rect x="15.74" y="50.46" width="1.37" height="0.91" fill="#888"/>
<rect x="28.6" y="13.27" width="0.73" height="1.43" fill="#888"/>
<rect x="21.85" y="12.29" width="0.75" height="0.93" fill="#777"/>
<rect x="9.15" y="39.71" width="0.76" height="1.45" fill="#555"/>
<rect x="19.32" y="21.71" width="1.38" height="0.99" fill="#666"/>
<rect x="9.23" y="15.09" width="0.69" height="0.92" fill="#888"/>
<rect x="31.28" y="27.17" width="0.68" height="0.96" fill="#666"/>
<rect x="41.7" y="26.96" width="1.03" height="1.32" fill="#888"/>
<rect x="8.99" y="40.81" width="0.93" height="1.07" fill="#777"/>
<rect x="37.36" y="31.4" width="1.32" height="0.83" fill="#888"/>
<rect x="12.05" y="34.23" width="0.65" height="0.76" fill="#888"/>
<rect x="16.48" y="19.44" width="0.82" height="1.35" fill="#555"/>
<rect x="31.51" y="29.6" width="0.68" height="0.72" fill="#999"/>
<rect x="37.07" y="22.3" width="0.64" height="1" fill="#999"/>
<rect x="2.51" y="45.19" width="1.47" height="0.99" fill="#888"/>
<rect x="48.65" y="21.14" width="0.95" height="1.12" fill="#888"/>
<rect x="11.5" y="58.28" width="1.24" height="0.94" fill="#777"/>
<rect x="19.77" y="4.25" width="1.28" height="0.94" fill="#888"/>
<rect x="24.88" y="56.14" width="1.18" height="1.31" fill="#555"/>
<rect x="35.57" y="27.75" width="1.02" height="1.36" fill="#666"/>
<rect x="59.7" y="10.57" width="0.66" height="0.96" fill="#777"/>
<rect x="30.71" y="49.48" width="1.2" height="1.27" fill="#666"/>
<rect x="32.5" y="55.55" width="0.86" height="0.9" fill="#666"/>
<rect x="46.19" y="7.09" width="0.8" height="0.67" fill="#555"/>
<rect x="6.1" y="5.3" width="1.28" height="1.11" fill="#555"/>
<rect x="49.44" y="11.99" width="0.9" height="1.38" fill="#888"/>
<rect x="41.46" y="25.08" width="1.13" height="1.5" fill="#555"/>
<rect x="52.32" y="8.73" width="0.9" height="1.07" fill="#555"/>
<rect x="11.17" y="32.33" width="1.07" height="0.68" fill="#666"/>
<rect x="15.3" y="51.53" width="1.1" height="1.06" fill="#666"/>
<rect x="40.86" y="18.41" width="0.82" height="0.94" fill="#666"/>
<rect x="51.4" y="15.43" width="0.78" height="0.65" fill="#888"/>
<rect x="39.14" y="55.95" width="1.19" height="1.24" fill="#777"/>
<rect x="21.94" y="48.09" width="0.78" height="1.43" fill="#888"/>
<rect x="39.83" y="43.76" width="0.61" height="0.66" fill="#888"/>
<rect x="49.4" y="2.12" width="0.8" height="1" fill="#777"/>
<rect x="42.63" y="48.15" width="1.13" height="1.01" fill="#666"/>
<rect x="12.23" y="12.19" width="0.76" height="1.37" fill="#555"/>
<rect x="2.94" y="51.76" width="0.66" height="1.14" fill="#777"/>
<rect x="0.85" y="43.28" width="1.26" height="0.75" fill="#777"/>
<rect x="40.43" y="40.5" width="0.87" height="0.79" fill="#777"/>
<rect x="8.75" y="55.07" width="0.79" height="0.69" fill="#555"/>
<rect x="12.1" y="5.49" width="0.65" height="0.8" fill="#999"/>
<rect x="42.37" y="26.54" width="0.98" height="1.38" fill="#777"/>
<rect x="2.51" y="50.17" width="0.86" height="0.81" fill="#888"/>
<rect x="47.83" y="42.42" width="1.25" height="0.88" fill="#999"/>
<rect x="19.46" y="50.48" width="0.74" height="1.32" fill="#777"/>
<rect x="23.49" y="1.98" width="0.94" height="1.18" fill="#777"/>
<rect x="39.29" y="41.65" width="0.78" height="0.73" fill="#777"/>
<rect x="25.79" y="40.73" width="0.7" height="1.35" fill="#555"/>
<rect x="39.45" y="12.63" width="1.19" height="1.07" fill="#555"/>
<rect x="17.45" y="20.88" width="1.28" height="1.05" fill="#555"/>
<rect x="12.03" y="16.8" width="0.87" height="1.13" fill="#555"/>
<rect x="12.08" y="28.23" width="1.29" height="1.29" fill="#777"/>
<rect x="34.73" y="17.99" width="1.12" height="0.69" fill="#555"/>
<rect x="20.66" y="56.66" width="1.19" height="0.65" fill="#999"/>
<rect x="21.01" y="28.86" width="0.9" height="0.93" fill="#555"/>
<rect x="47.26" y="17.89" width="0.66" height="1.1" fill="#555"/>
<rect x="44.82" y="6.78" width="0.75" height="0.95" fill="#555"/>
<rect x="2.02" y="30.8" width="0.69" height="1.18" fill="#777"/>
<rect x="24.92" y="50.23" width="0.67" height="1.25" fill="#777"/>
<rect x="21.57" y="39.76" width="0.68" height="0.6" fill="#666"/>
<rect x="18.2" y="15.68" width="0.7" height="0.81" fill="#777"/>
<rect x="29.77" y="32.16" width="0.71" height="1.02" fill="#777"/>
<rect x="34.1" y="2.52" width="0.83" height="1.45" fill="#999"/>
<rect x="24.22" y="12.21" width="0.71" height="0.82" fill="#888"/>
<rect x="30.11" y="53.44" width="0.61" height="1.45" fill="#666"/>
<rect x="47.5" y="42.08" width="0.79" height="1.27" fill="#555"/>
<rect x="45" y="9.22" width="0.84" height="0.63" fill="#666"/>
<rect x="37.45" y="6.58" width="1.11" height="0.71" fill="#888"/>
<rect x="13.06" y="14.61" width="1.3" height="1.06" fill="#555"/>
<rect x="49.28" y="4.38" width="0.9" height="0.69" fill="#777"/>
<rect x="37.09" y="41.51" width="1.33" height="0.91" fill="#666"/>
<rect x="35.51" y="10.97" width="0.89" height="1.44" fill="#666"/>
<rect x="1.93" y="47.32" width="0.73" height="1.06" fill="#777"/>
<rect x="9.07" y="20.66" width="0.73" height="0.78" fill="#777"/>
<rect x="41.16" y="42.52" width="0.66" height="0.6" fill="#666"/>
<rect x="2.26" y="31.53" width="0.9" height="0.66" fill="#888"/>
<rect x="38.18" y="11.94" width="1.16" height="1.36" fill="#666"/>
<rect x="5.54" y="43.05" width="0.91" height="0.75" fill="#666"/>
<rect x="40.36" y="44.73" width="0.72" height="1.35" fill="#999"/>
<rect x="54.29" y="44.7" width="1.35" height="1.32" fill="#888"/>
<rect x="9.88" y="23.15" width="1.18" height="1.44" fill="#888"/>
<rect x="17.94" y="57.66" width="1.08" height="1.45" fill="#555"/>
<rect x="4.08" y="46.99" width="1.32" height="1.28" fill="#777"/>
<rect x="14.41" y="35.26" width="1.11" height="1.39" fill="#888"/>
<rect x="54.49" y="41.12" width="1.24" height="0.95" fill="#666"/>
<rect x="47.62" y="40.97" width="1.45" height="1.34" fill="#666"/>
<rect x="56.89" y="13.7" width="1.2" height="1.31" fill="#888"/>
<rect x="54.25" y="25.6" width="0.87" height="0.87" fill="#888"/>
<rect x="0.98" y="6.64" width="1.33" height="0.98" fill="#888"/>
<rect x="17.97" y="8.75" width="1.09" height="0.67" fill="#666"/>
<rect x="50.67" y="37.16" width="0.86" height="0.68" fill="#999"/>
<rect x="11.24" y="53.37" width="0.97" height="1.08" fill="#777"/>
<rect x="7.24" y="40.98" width="0.64" height="1.34" fill="#777"/>
<rect x="23.38" y="19.96" width="0.74" height="0.75" fill="#999"/>
<rect x="53.39" y="36.61" width="1.4" height="0.95" fill="#666"/>
<rect x="19.11" y="52.57" width="1.31" height="1.15" fill="#777"/>
<rect x="23.46" y="0.54" width="1.37" height="0.69" fill="#777"/>
<rect x="27.27" y="48.56" width="0.83" height="0.92" fill="#555"/>
<rect x="59.07" y="44.07" width="1.28" height="1.2" fill="#777"/>
<rect x="55.72" y="53.63" width="1.2" height="0.67" fill="#888"/>
<rect x="19.87" y="15.98" width="0.87" height="0.87" fill="#666"/>
<rect x="56.27" y="48.52" width="0.65" height="1.19" fill="#666"/>
<rect x="21.82" y="58.57" width="0.65" height="1.35" fill="#555"/>
<rect x="33.44" y="26.86" width="1.28" height="1.4" fill="#888"/>
<rect x="44.99" y="2.11" width="0.89" height="0.72" fill="#999"/>
<rect x="8.67" y="35.25" width="1.12" height="0.64" fill="#666"/>
<rect x="10.41" y="35.37" width="1.48" height="1.16" fill="#777"/>
<rect x="17.47" y="32.66" width="0.98" height="1.48" fill="#555"/>
<rect x="48.29" y="40.59" width="0.94" height="1.47" fill="#999"/>
<rect x="41.45" y="16.65" width="0.75" height="1.12" fill="#555"/>
<rect x="47.62" y="20.83" width="0.73" height="1.06" fill="#555"/>
<rect x="9.73" y="44.3" width="0.75" height="0.88" fill="#555"/>
<rect x="35.24" y="58.29" width="1.3" height="0.92" fill="#777"/>
<rect x="16.34" y="53.47" width="1.03" height="1.16" fill="#666"/>
<rect x="24.18" y="40.89" width="0.93" height="0.89" fill="#666"/>
<rect x="16.01" y="12.24" width="1.42" height="1.01" fill="#666"/>
<rect x="38.23" y="46.72" width="0.88" height="0.74" fill="#888"/>
<rect x="28.21" y="33.52" width="1.2" height="1.28" fill="#999"/>
<rect x="23.5" y="43.04" width="0.96" height="1.33" fill="#555"/>
<rect x="15.58" y="46.28" width="0.64" height="1.34" fill="#888"/>
<rect x="18.34" y="36.13" width="0.92" height="1.48" fill="#555"/>
<rect x="52.54" y="5.78" width="1.14" height="1.35" fill="#555"/>
<rect x="55.8" y="9.96" width="0.76" height="1.25" fill="#555"/>
<rect x="46.48" y="23.67" width="1.45" height="1.27" fill="#999"/>
<rect x="24" y="29.99" width="0.9" height="1.38" fill="#777"/>
<rect x="31.91" y="31.27" width="1.2" height="1.41" fill="#777"/>
<rect x="12.78" y="40.91" width="1.43" height="0.66" fill="#555"/>
<rect x="51.12" y="40.07" width="1.12" height="0.96" fill="#888"/>
<rect x="43.73" y="47.11" width="1.21" height="1.37" fill="#777"/>
<rect x="9.07" y="40.29" width="1.28" height="1.05" fill="#999"/>
<rect x="53.93" y="44.58" width="1.34" height="1.18" fill="#999"/>
<rect x="7.88" y="42.25" width="1.23" height="1.15" fill="#999"/>
<rect x="42.72" y="46.29" width="1.14" height="1.06" fill="#888"/>
<rect x="12.78" y="13.43" width="0.68" height="1.21" fill="#555"/>
<rect x="21.58" y="41.97" width="0.66" height="1.35" fill="#999"/>
<rect x="13.1" y="27.46" width="1.29" height="1" fill="#888"/>
<rect x="3.55" y="26.74" width="1.1" height="1.33" fill="#555"/>
<rect x="32.27" y="28.06" width="1.04" height="0.86" fill="#999"/>
<rect x="57.88" y="31.84" width="0.81" height="1.1" fill="#777"/>
<rect x="16.9" y="58.43" width="1.12" height="1.24" fill="#777"/>
<rect x="46.69" y="1.7" width="1.05" height="0.98" fill="#555"/>
<rect x="57.27" y="16.42" width="0.68" height="0.7" fill="#666"/>
<rect x="30.73" y="35.33" width="0.8" height="1.38" fill="#555"/>
<rect x="48.25" y="57.68" width="0.9" height="1.49" fill="#555"/>
<rect x="38.51" y="34.54" width="0.99" height="1.47" fill="#888"/>
<rect x="27.28" y="20.5" width="0.77" height="0.96" fill="#999"/>
<rect x="45.57" y="4.59" width="1.41" height="0.61" fill="#777"/>
<rect x="47.41" y="44.58" width="1.3" height="0.78" fill="#999"/>
</pattern>
<pattern id="dark" width="50" height="50" patternUnits="userSpaceOnUse">
<rect width="50" height="50" fill="#1a1a1a"/>
<rect x="37.38" y="47.42" width="1.52" height="1.32" fill="#888"/>
<rect x="3.14" y="10.28" width="0.61" height="1.46" fill="#777"/>
<rect x="27.89" y="31.38" width="1.17" height="0.92" fill="#777"/>
<rect x="15.29" y="2.21" width="0.78" height="0.96" fill="#888"/>
<rect x="40.22" y="22.75" width="0.7" height="0.71" fill="#aaa"/>
<rect x="18.19" y="44.21" width="1.09" height="0.68" fill="#777"/>
<rect x="39.74" y="23.81" width="1.42" height="0.73" fill="#888"/>
<rect x="26.42" y="12.56" width="0.99" height="0.95" fill="#888"/>
<rect x="46.88" y="9.65" width="0.88" height="1.41" fill="#999"/>
<rect x="38.72" y="36.29" width="0.76" height="1.5" fill="#999"/>
<rect x="6.69" y="0.64" width="0.81" height="1.19" fill="#999"/>
<rect x="1.38" y="40.66" width="1.57" height="0.69" fill="#888"/>
<rect x="10.2" y="28.64" width="1.51" height="1.46" fill="#777"/>
<rect x="31.23" y="44.27" width="1.08" height="1.24" fill="#aaa"/>
<rect x="0.37" y="10.22" width="0.95" height="1.48" fill="#888"/>
<rect x="29.56" y="6.31" width="0.8" height="1.06" fill="#999"/>
<rect x="38.08" y="28.51" width="1.32" height="1.46" fill="#aaa"/>
<rect x="20.01" y="33.64" width="1.31" height="0.84" fill="#999"/>
<rect x="34.6" y="23.59" width="0.74" height="1.51" fill="#999"/>
<rect x="3.14" y="11.93" width="1.59" height="0.83" fill="#999"/>
<rect x="28.3" y="37.26" width="0.82" height="1.34" fill="#888"/>
<rect x="12.13" y="45.4" width="0.8" height="0.6" fill="#999"/>
<rect x="2.43" y="12.02" width="1.53" height="0.82" fill="#888"/>
<rect x="46.52" y="31.93" width="1.52" height="0.86" fill="#aaa"/>
<rect x="23.4" y="23.94" width="1.56" height="1.36" fill="#888"/>
<rect x="9.35" y="40.35" width="0.76" height="1.11" fill="#888"/>
<rect x="25.49" y="47.84" width="0.98" height="1.48" fill="#888"/>
<rect x="42.57" y="27.79" width="1.42" height="1.1" fill="#888"/>
<rect x="35.3" y="33.07" width="1.22" height="1.06" fill="#888"/>
<rect x="27.99" y="10.43" width="0.79" height="1.11" fill="#999"/>
<rect x="10.44" y="35.41" width="1.34" height="1.27" fill="#888"/>
<rect x="30.63" y="4.32" width="1.12" height="1.28" fill="#888"/>
<rect x="36.51" y="42.49" width="1.45" height="0.7" fill="#777"/>
<rect x="13.7" y="15.46" width="0.9" height="1.09" fill="#777"/>
<rect x="38.44" y="0.35" width="0.67" height="0.71" fill="#aaa"/>
<rect x="26.01" y="22.78" width="1.01" height="1.21" fill="#aaa"/>
<rect x="45.82" y="36.63" width="1.4" height="1.51" fill="#888"/>
<rect x="35.83" y="1.53" width="1.28" height="1.45" fill="#999"/>
<rect x="40.06" y="2.74" width="1.22" height="0.89" fill="#777"/>
<rect x="35.32" y="12.63" width="0.9" height="0.95" fill="#777"/>
<rect x="19.11" y="8.11" width="0.76" height="1.55" fill="#999"/>
<rect x="38.12" y="41.84" width="1.59" height="1.35" fill="#777"/>
<rect x="40.18" y="0.66" width="1.14" height="0.94" fill="#777"/>
<rect x="46.05" y="16.44" width="1.37" height="1.37" fill="#777"/>
<rect x="39.73" y="26.6" width="0.7" height="1.43" fill="#777"/>
<rect x="21.25" y="16.85" width="0.66" height="0.72" fill="#999"/>
<rect x="8.06" y="26.55" width="1.25" height="1.14" fill="#999"/>
<rect x="46.57" y="25.94" width="1.38" height="1.23" fill="#aaa"/>
<rect x="10.9" y="37.75" width="1.49" height="1.31" fill="#999"/>
<rect x="35.79" y="49.49" width="0.78" height="1.04" fill="#aaa"/>
<rect x="34.53" y="37.3" width="1.35" height="0.85" fill="#777"/>
<rect x="48.03" y="4.59" width="1.47" height="1.24" fill="#aaa"/>
<rect x="32.81" y="29.89" width="1.29" height="0.9" fill="#888"/>
<rect x="36.48" y="26.78" width="0.67" height="0.67" fill="#888"/>
<rect x="36.12" y="32.42" width="1.11" height="1.48" fill="#999"/>
<rect x="8.89" y="5" width="0.9" height="1.01" fill="#aaa"/>
<rect x="22.25" y="36.42" width="0.69" height="1.53" fill="#777"/>
<rect x="16.13" y="10.3" width="0.99" height="1.38" fill="#888"/>
<rect x="42.75" y="40.14" width="1.27" height="0.88" fill="#888"/>
<rect x="42.28" y="3.63" width="0.69" height="1.38" fill="#777"/>
<rect x="33.06" y="9.03" width="0.74" height="0.7" fill="#888"/>
<rect x="19.15" y="32.61" width="1.17" height="0.82" fill="#888"/>
<rect x="14.79" y="13.42" width="1.53" height="1.54" fill="#777"/>
<rect x="18.18" y="36.13" width="0.74" height="1.39" fill="#777"/>
<rect x="18.52" y="8.31" width="1.26" height="1.47" fill="#aaa"/>
<rect x="14.26" y="19.04" width="1.36" height="0.82" fill="#aaa"/>
<rect x="44.33" y="38.13" width="1.45" height="0.84" fill="#999"/>
<rect x="13.15" y="0.38" width="0.7" height="0.98" fill="#777"/>
<rect x="11.74" y="1.47" width="1.04" height="0.72" fill="#999"/>
<rect x="27.76" y="24.61" width="1" height="1.08" fill="#aaa"/>
<rect x="45.49" y="21.29" width="0.66" height="0.79" fill="#777"/>
<rect x="18.06" y="23.46" width="1.54" height="1.15" fill="#888"/>
<rect x="25.47" y="24.2" width="0.82" height="1.21" fill="#999"/>
<rect x="5.5" y="47.18" width="1.12" height="0.84" fill="#aaa"/>
<rect x="25.52" y="15.81" width="0.7" height="1.08" fill="#999"/>
<rect x="46.2" y="23.05" width="1.33" height="0.67" fill="#999"/>
<rect x="31.55" y="4.9" width="0.88" height="1.39" fill="#888"/>
<rect x="5.99" y="49.21" width="1.08" height="0.78" fill="#888"/>
<rect x="31.38" y="40.58" width="1.5" height="1.24" fill="#888"/>
<rect x="26.86" y="11.7" width="1.1" height="1.2" fill="#777"/>
<rect x="7.25" y="40.18" width="1.55" height="1.34" fill="#777"/>
<rect x="32.82" y="32.54" width="1.3" height="0.62" fill="#999"/>
<rect x="45.08" y="4.1" width="0.82" height="0.64" fill="#999"/>
<rect x="48.77" y="41.96" width="0.9" height="0.91" fill="#aaa"/>
<rect x="46.97" y="20.1" width="1.28" height="0.61" fill="#999"/>
<rect x="11.66" y="23.85" width="1.11" height="1.55" fill="#999"/>
<rect x="33.63" y="10.61" width="1.51" height="0.79" fill="#999"/>
<rect x="10.1" y="49.98" width="1.06" height="0.83" fill="#777"/>
<rect x="1.59" y="8.88" width="1.01" height="1.31" fill="#777"/>
<rect x="38.5" y="11.92" width="1.44" height="0.75" fill="#777"/>
<rect x="30.33" y="23.75" width="1.15" height="0.99" fill="#777"/>
<rect x="12.02" y="6.03" width="1.56" height="0.75" fill="#aaa"/>
<rect x="49.92" y="6.76" width="0.92" height="1.35" fill="#aaa"/>
<rect x="11.72" y="8.38" width="1.19" height="1.05" fill="#999"/>
<rect x="12.66" y="28.51" width="0.82" height="0.75" fill="#777"/>
<rect x="48.39" y="35.6" width="0.69" height="1.04" fill="#888"/>
<rect x="48.37" y="45.2" width="0.67" height="1.35" fill="#aaa"/>
<rect x="43.52" y="21" width="1.13" height="1.45" fill="#888"/>
<rect x="22.31" y="24.98" width="1.13" height="1.28" fill="#777"/>
<rect x="44.94" y="48.12" width="0.79" height="0.68" fill="#777"/>
<rect x="28.52" y="9.08" width="1.29" height="0.86" fill="#aaa"/>
<rect x="20.6" y="47.82" width="0.86" height="1.42" fill="#888"/>
<rect x="31.21" y="23.58" width="1.27" height="1.4" fill="#888"/>
<rect x="22.24" y="17" width="1.36" height="1.56" fill="#aaa"/>
<rect x="23.28" y="16.21" width="1.57" height="1.58" fill="#888"/>
<rect x="47.9" y="10.36" width="1.01" height="1.56" fill="#aaa"/>
<rect x="18.54" y="35.41" width="0.98" height="1.09" fill="#777"/>
<rect x="6.38" y="11.13" width="0.81" height="0.87" fill="#888"/>
<rect x="25.49" y="44.23" width="1.22" height="1.25" fill="#999"/>
<rect x="29.12" y="47.12" width="1.18" height="0.96" fill="#999"/>
<rect x="15.72" y="40.57" width="1.29" height="1.28" fill="#aaa"/>
<rect x="19.7" y="5.86" width="1.23" height="0.89" fill="#aaa"/>
<rect x="31.73" y="35.24" width="1.57" height="0.8" fill="#777"/>
<rect x="32.44" y="8.17" width="0.66" height="1.05" fill="#888"/>
<rect x="9.92" y="0.75" width="1.13" height="1.33" fill="#777"/>
<rect x="1.45" y="39.92" width="1.44" height="0.69" fill="#aaa"/>
<rect x="0.2" y="11.5" width="0.87" height="1.31" fill="#aaa"/>
<rect x="0.97" y="5.71" width="1.53" height="1.57" fill="#aaa"/>
<rect x="23.49" y="3.67" width="0.95" height="0.89" fill="#999"/>
<rect x="43.74" y="16.65" width="1.53" height="0.86" fill="#777"/>
<rect x="4.57" y="31.2" width="1.3" height="0.86" fill="#777"/>
<rect x="17.08" y="24.59" width="0.79" height="1.53" fill="#888"/>
<rect x="37.56" y="41.95" width="1.02" height="0.9" fill="#888"/>
<rect x="11.47" y="39.86" width="1.4" height="0.69" fill="#aaa"/>
<rect x="9.56" y="35.39" width="1.4" height="1.39" fill="#aaa"/>
<rect x="31.12" y="41.24" width="1.07" height="1.04" fill="#888"/>
<rect x="9.64" y="29.12" width="0.71" height="1.23" fill="#aaa"/>
<rect x="37.54" y="25.07" width="1.12" height="0.93" fill="#888"/>
<rect x="1.55" y="36.22" width="0.82" height="0.89" fill="#999"/>
<rect x="30.74" y="45.09" width="0.8" height="0.91" fill="#777"/>
<rect x="6.56" y="3.1" width="1.06" height="0.94" fill="#777"/>
<rect x="19.83" y="26.15" width="0.91" height="1.37" fill="#777"/>
<rect x="4.46" y="2.45" width="1.11" height="0.75" fill="#aaa"/>
<rect x="23.09" y="9.89" width="0.72" height="1.11" fill="#777"/>
<rect x="34.29" y="23.82" width="0.91" height="0.67" fill="#888"/>
<rect x="31.19" y="21.87" width="0.67" height="1.4" fill="#aaa"/>
<rect x="22.48" y="42.61" width="1.54" height="1.02" fill="#777"/>
<rect x="26.75" y="38.99" width="1.32" height="0.91" fill="#888"/>
<rect x="5.25" y="22.79" width="1.24" height="0.88" fill="#888"/>
<rect x="42.91" y="47.17" width="1.16" height="0.66" fill="#888"/>
<rect x="15" y="3.43" width="1.35" height="1.37" fill="#999"/>
<rect x="25.99" y="7.24" width="1.3" height="1.32" fill="#888"/>
<rect x="1.59" y="45.49" width="1.27" height="1.13" fill="#888"/>
<rect x="15.8" y="40.93" width="1.2" height="1.01" fill="#aaa"/>
<rect x="8.68" y="38.25" width="1.03" height="0.94" fill="#888"/>
<rect x="44.56" y="22.9" width="1.15" height="0.69" fill="#999"/>
<rect x="23.64" y="47.82" width="1.2" height="0.89" fill="#999"/>
<rect x="19.66" y="10.09" width="1.39" height="1.35" fill="#999"/>
<rect x="5.35" y="40.67" width="0.94" height="0.85" fill="#777"/>
<rect x="25.64" y="40.71" width="1.3" height="1.58" fill="#777"/>
<rect x="15.67" y="36.47" width="1.45" height="1.28" fill="#999"/>
<rect x="2.82" y="0.01" width="0.83" height="0.94" fill="#777"/>
<rect x="30.33" y="44.97" width="1.55" height="0.93" fill="#777"/>
<rect x="40.95" y="13.3" width="0.97" height="0.97" fill="#777"/>
<rect x="19.72" y="14.2" width="1.54" height="0.61" fill="#999"/>
<rect x="37.81" y="38.49" width="1.17" height="1.51" fill="#888"/>
<rect x="49.53" y="36.4" width="1.35" height="1.41" fill="#777"/>
<rect x="25.23" y="16.3" width="1.04" height="0.91" fill="#aaa"/>
<rect x="26.96" y="16.82" width="1.42" height="0.95" fill="#aaa"/>
<rect x="42.39" y="43.94" width="0.74" height="1.54" fill="#888"/>
<rect x="39.68" y="42.13" width="1.58" height="1.55" fill="#999"/>
<rect x="39.15" y="39.11" width="1.47" height="0.81" fill="#777"/>
<rect x="18.05" y="3.2" width="0.72" height="1.49" fill="#888"/>
<rect x="11.35" y="3.53" width="0.67" height="1.34" fill="#aaa"/>
<rect x="43" y="32" width="0.91" height="1.08" fill="#999"/>
<rect x="15.49" y="31.62" width="1.49" height="1.07" fill="#777"/>
<rect x="36.69" y="15.58" width="1.47" height="1.17" fill="#888"/>
<rect x="29.99" y="49.89" width="1.5" height="0.67" fill="#999"/>
<rect x="20.82" y="44.02" width="1.27" height="0.81" fill="#777"/>
<rect x="27.14" y="46.38" width="1.26" height="1.46" fill="#888"/>
<rect x="23.08" y="28.46" width="0.62" height="0.73" fill="#888"/>
<rect x="9.19" y="14.55" width="1.12" height="1.34" fill="#888"/>
<rect x="11.12" y="37.24" width="1.4" height="0.82" fill="#999"/>
<rect x="7.89" y="31.85" width="0.68" height="1.02" fill="#777"/>
<rect x="15.09" y="16.45" width="1.33" height="0.79" fill="#888"/>
<rect x="33.42" y="7.16" width="1.56" height="1.6" fill="#aaa"/>
<rect x="9.17" y="45.51" width="1.15" height="1.36" fill="#777"/>
<rect x="2.67" y="2.77" width="1.1" height="1.5" fill="#aaa"/>
<rect x="25.54" y="46.63" width="1.16" height="0.74" fill="#999"/>
<rect x="40.17" y="21.19" width="1.2" height="0.86" fill="#777"/>
<rect x="11.69" y="10.82" width="1.23" height="0.65" fill="#888"/>
<rect x="40.13" y="45.16" width="0.77" height="1.38" fill="#777"/>
<rect x="11.6" y="41.1" width="0.83" height="0.77" fill="#aaa"/>
<rect x="48.8" y="36.08" width="0.71" height="1.06" fill="#aaa"/>
<rect x="13.63" y="41.92" width="1.53" height="0.65" fill="#888"/>
<rect x="22.13" y="4.32" width="0.67" height="1.4" fill="#999"/>
<rect x="7.11" y="23" width="1.24" height="1.6" fill="#777"/>
<rect x="20.41" y="36.08" width="1.6" height="0.83" fill="#999"/>
<rect x="17.83" y="21.8" width="0.91" height="1.23" fill="#999"/>
<rect x="4.25" y="9.66" width="0.92" height="1.1" fill="#aaa"/>
<rect x="20.88" y="42" width="1.37" height="1.19" fill="#999"/>
<rect x="47.24" y="23.57" width="0.8" height="1.19" fill="#aaa"/>
<rect x="25.01" y="11.65" width="0.95" height="0.98" fill="#888"/>
<rect x="20.17" y="17.7" width="1.03" height="0.95" fill="#999"/>
<rect x="32.27" y="23.26" width="1.43" height="1.15" fill="#888"/>
<rect x="42.47" y="36.42" width="0.95" height="1.23" fill="#999"/>
<rect x="47.6" y="30.99" width="0.76" height="1.25" fill="#888"/>
<rect x="47.47" y="7.27" width="0.97" height="1.45" fill="#777"/>
<rect x="29.5" y="33.86" width="0.94" height="1.54" fill="#999"/>
<rect x="32.54" y="14.28" width="0.74" height="1.5" fill="#888"/>
<rect x="30.82" y="40.33" width="1.04" height="0.87" fill="#888"/>
<rect x="17.49" y="26.6" width="1.53" height="1.24" fill="#999"/>
<rect x="5.81" y="12.73" width="1.21" height="1.17" fill="#777"/>
<rect x="0.84" y="40" width="0.67" height="1.41" fill="#888"/>
<rect x="13.79" y="16.62" width="1.42" height="0.76" fill="#999"/>
<rect x="1.09" y="9.66" width="0.66" height="1.41" fill="#aaa"/>
<rect x="15.56" y="10.96" width="1.04" height="0.72" fill="#888"/>
<rect x="47.35" y="27.54" width="1.52" height="0.69" fill="#aaa"/>
<rect x="21.7" y="9.65" width="1.35" height="1.46" fill="#999"/>
<rect x="21.11" y="31.48" width="1.31" height="0.78" fill="#aaa"/>
<rect x="48.84" y="1.9" width="0.66" height="0.72" fill="#888"/>
<rect x="16.39" y="34.72" width="0.77" height="1.06" fill="#888"/>
<rect x="9.05" y="30.46" width="1.27" height="1.57" fill="#777"/>
<rect x="6.04" y="42.85" width="0.93" height="1.01" fill="#999"/>
<rect x="11.63" y="48.73" width="1.59" height="1.31" fill="#aaa"/>
<rect x="8.28" y="44.64" width="1.39" height="1.23" fill="#888"/>
<rect x="22.28" y="31.11" width="1.51" height="1.38" fill="#888"/>
<rect x="22.58" y="44.07" width="1.2" height="0.94" fill="#999"/>
<rect x="25.57" y="7.37" width="0.65" height="1.39" fill="#aaa"/>
<rect x="24.84" y="34.42" width="0.76" height="1.25" fill="#888"/>
<rect x="42.22" y="18.1" width="1.31" height="0.79" fill="#999"/>
<rect x="36.42" y="20.44" width="1.56" height="1.56" fill="#aaa"/>
<rect x="15.82" y="18.83" width="0.87" height="1.5" fill="#888"/>
<rect x="49.54" y="34.4" width="0.92" height="1.36" fill="#777"/>
<rect x="40.05" y="16.84" width="1.17" height="1.15" fill="#777"/>
<rect x="42.92" y="49.44" width="1.09" height="1.43" fill="#888"/>
<rect x="7.45" y="38.05" width="1.17" height="1.51" fill="#999"/>
<rect x="35.25" y="0.22" width="1.19" height="0.73" fill="#999"/>
<rect x="13.83" y="5.68" width="1.47" height="1.04" fill="#777"/>
<rect x="4.07" y="22.45" width="0.97" height="0.64" fill="#777"/>
<rect x="10.73" y="32.72" width="0.88" height="0.97" fill="#999"/>
<rect x="38.44" y="34.63" width="1.25" height="0.88" fill="#777"/>
<rect x="20.06" y="47.5" width="1.07" height="0.72" fill="#aaa"/>
<rect x="40.57" y="14.76" width="1.2" height="1.46" fill="#aaa"/>
<rect x="17.58" y="42.57" width="1.46" height="0.86" fill="#888"/>
<rect x="22.24" y="1.28" width="0.68" height="1.39" fill="#888"/>
<rect x="10.77" y="30.04" width="1.48" height="0.68" fill="#777"/>
<rect x="17.16" y="46.64" width="0.79" height="0.74" fill="#888"/>
<rect x="32.25" y="41.92" width="0.86" height="0.76" fill="#aaa"/>
<rect x="23.69" y="39.29" width="0.85" height="1.51" fill="#aaa"/>
<rect x="8.05" y="49.83" width="0.9" height="1.59" fill="#888"/>
<rect x="31.54" y="26.65" width="1.45" height="1.04" fill="#888"/>
<rect x="20.82" y="23.48" width="0.91" height="0.66" fill="#999"/>
<rect x="11.6" y="23.17" width="1.42" height="1.56" fill="#777"/>
<rect x="8.02" y="34.19" width="1.15" height="1.01" fill="#aaa"/>
<rect x="45.75" y="44.94" width="1.07" height="1.53" fill="#777"/>
<rect x="4.95" y="24.87" width="1.57" height="0.93" fill="#777"/>
<rect x="44.3" y="18.38" width="1.56" height="1.58" fill="#aaa"/>
<rect x="24.93" y="14.13" width="0.93" height="1.18" fill="#aaa"/>
<rect x="15.69" y="1.43" width="0.8" height="0.72" fill="#777"/>
<rect x="22.76" y="18.47" width="1.38" height="1.54" fill="#777"/>
<rect x="24.04" y="46.48" width="0.8" height="1.56" fill="#aaa"/>
<rect x="18.02" y="30.24" width="0.9" height="1.57" fill="#aaa"/>
<rect x="35.46" y="29.33" width="1.02" height="0.81" fill="#888"/>
<rect x="10.29" y="25.37" width="0.72" height="1.44" fill="#888"/>
<rect x="34.21" y="46.33" width="1.59" height="1.28" fill="#888"/>
<rect x="13.33" y="48.75" width="0.69" height="0.88" fill="#888"/>
<rect x="25.76" y="17.5" width="1.31" height="1.13" fill="#aaa"/>
<rect x="0.65" y="10.14" width="0.78" height="1.43" fill="#888"/>
<rect x="10.53" y="6.08" width="1.19" height="1.34" fill="#777"/>
</pattern>
<pattern id="gray" width="40" height="40" patternUnits="userSpaceOnUse">
<rect width="40" height="40" fill="#808080"/>
<rect x="26.99" y="15.37" width="1.49" height="0.62" fill="#444"/>
<rect x="33.22" y="39.25" width="0.7" height="1.27" fill="#666"/>
<rect x="20.58" y="17.11" width="1.38" height="0.62" fill="#555"/>
<rect x="39.76" y="39.74" width="1.16" height="1.19" fill="#aaa"/>
<rect x="14.87" y="14.62" width="0.72" height="1.43" fill="#666"/>
<rect x="10.2" y="5.67" width="0.74" height="0.73" fill="#444"/>
<rect x="31.87" y="4.99" width="0.88" height="1.11" fill="#555"/>
<rect x="22.42" y="16.51" width="1.09" height="0.61" fill="#555"/>
<rect x="9.45" y="5.62" width="1.43" height="0.61" fill="#666"/>
<rect x="9.66" y="3.7" width="1.03" height="0.95" fill="#666"/>
<rect x="19.05" y="1.66" width="1.48" height="1.49" fill="#555"/>
<rect x="18.11" y="20.12" width="1.43" height="1.14" fill="#aaa"/>
<rect x="7.93" y="10.39" width="1.3" height="1.28" fill="#666"/>
<rect x="25.95" y="16.94" width="0.88" height="1.06" fill="#999"/>
<rect x="9.78" y="6.19" width="0.87" height="0.89" fill="#555"/>
<rect x="28.25" y="17.15" width="0.75" height="0.64" fill="#555"/>
<rect x="39.59" y="29.4" width="1.27" height="1.34" fill="#555"/>
<rect x="11.4" y="1.59" width="0.64" height="1.07" fill="#bbb"/>
<rect x="28.67" y="20.43" width="0.75" height="1.2" fill="#999"/>
<rect x="10.36" y="18.15" width="0.82" height="1.02" fill="#bbb"/>
<rect x="8.91" y="15.93" width="0.78" height="0.68" fill="#bbb"/>
<rect x="11.51" y="14.57" width="0.82" height="1.2" fill="#666"/>
<rect x="8.9" y="16.03" width="1.22" height="0.99" fill="#aaa"/>
<rect x="3.39" y="2.27" width="0.77" height="0.84" fill="#bbb"/>
<rect x="4" y="20.09" width="1.04" height="0.77" fill="#bbb"/>
<rect x="37" y="22.51" width="1" height="0.66" fill="#444"/>
<rect x="32.58" y="18.94" width="0.73" height="1.04" fill="#aaa"/>
<rect x="26.4" y="1.01" width="0.77" height="1.49" fill="#bbb"/>
<rect x="1.81" y="28.61" width="1.32" height="0.7" fill="#666"/>
<rect x="9.6" y="8.84" width="1.45" height="0.84" fill="#aaa"/>
<rect x="27.82" y="14.67" width="1.24" height="0.85" fill="#999"/>
<rect x="17.52" y="0.14" width="0.68" height="1.25" fill="#aaa"/>
<rect x="25.47" y="6.22" width="1.38" height="1.25" fill="#555"/>
<rect x="32.31" y="3.68" width="0.8" height="0.74" fill="#666"/>
<rect x="3.37" y="12.24" width="1.13" height="1.36" fill="#bbb"/>
<rect x="31.44" y="34.6" width="1.13" height="1.47" fill="#bbb"/>
<rect x="31.4" y="33.57" width="1.08" height="0.88" fill="#aaa"/>
<rect x="19.32" y="13.5" width="0.94" height="1.06" fill="#444"/>
<rect x="39.59" y="24.78" width="1.19" height="0.72" fill="#555"/>
<rect x="16.75" y="26.57" width="0.77" height="1.08" fill="#666"/>
<rect x="4.76" y="25.14" width="1" height="0.94" fill="#999"/>
<rect x="9.96" y="37.02" width="1.06" height="0.94" fill="#666"/>
<rect x="11.72" y="33.2" width="0.63" height="0.83" fill="#666"/>
<rect x="29.24" y="8.52" width="1.01" height="0.92" fill="#666"/>
<rect x="18.2" y="3.45" width="0.92" height="1.19" fill="#aaa"/>
<rect x="39.33" y="17.29" width="1.26" height="0.83" fill="#666"/>
<rect x="27.74" y="10.91" width="0.65" height="0.92" fill="#555"/>
<rect x="17.5" y="24.33" width="1.4" height="1.38" fill="#666"/>
<rect x="32.18" y="9.17" width="0.9" height="0.7" fill="#bbb"/>
<rect x="29.48" y="19.51" width="0.93" height="0.84" fill="#999"/>
<rect x="1.73" y="5.25" width="0.9" height="0.98" fill="#999"/>
<rect x="11.54" y="6.22" width="0.74" height="1.18" fill="#bbb"/>
<rect x="6.31" y="11.24" width="1.43" height="1.37" fill="#666"/>
<rect x="1.47" y="6.92" width="0.65" height="0.98" fill="#aaa"/>
<rect x="30.91" y="14.99" width="0.71" height="1.41" fill="#999"/>
<rect x="20.42" y="39.81" width="1.49" height="1.49" fill="#999"/>
<rect x="15.6" y="15.17" width="0.61" height="0.93" fill="#666"/>
<rect x="13.32" y="27.18" width="1.16" height="0.77" fill="#555"/>
<rect x="23.18" y="22.91" width="0.81" height="0.69" fill="#bbb"/>
<rect x="34.21" y="36.37" width="0.81" height="1.13" fill="#444"/>
<rect x="35.28" y="4.85" width="1.11" height="1.06" fill="#444"/>
<rect x="3.6" y="18.41" width="0.81" height="1" fill="#999"/>
<rect x="36.61" y="0.62" width="0.81" height="0.9" fill="#999"/>
<rect x="9.62" y="34.26" width="0.82" height="1.13" fill="#999"/>
<rect x="25.35" y="20.79" width="1.1" height="0.87" fill="#999"/>
<rect x="31.05" y="19.17" width="1.49" height="0.65" fill="#999"/>
<rect x="18.48" y="23.96" width="0.76" height="1.14" fill="#999"/>
<rect x="21.93" y="15.49" width="1.32" height="0.69" fill="#666"/>
<rect x="30.35" y="29.92" width="1.44" height="1.39" fill="#666"/>
<rect x="18.47" y="8.5" width="0.6" height="0.68" fill="#555"/>
<rect x="7.35" y="0.19" width="0.97" height="1.01" fill="#bbb"/>
<rect x="13.91" y="14.74" width="1.24" height="0.69" fill="#444"/>
<rect x="19.75" y="14.87" width="1.38" height="0.79" fill="#999"/>
<rect x="14.31" y="13.42" width="1.15" height="1.11" fill="#666"/>
<rect x="30.46" y="24.73" width="1.24" height="1.36" fill="#666"/>
<rect x="26.26" y="21.28" width="0.89" height="0.9" fill="#555"/>
<rect x="13.54" y="16.7" width="1.46" height="0.92" fill="#999"/>
<rect x="0.15" y="39.94" width="0.78" height="1.08" fill="#666"/>
<rect x="16.24" y="9.31" width="1.31" height="1.01" fill="#666"/>
<rect x="32.6" y="2.33" width="0.94" height="1.4" fill="#666"/>
<rect x="27.29" y="27.03" width="1.05" height="1.03" fill="#aaa"/>
<rect x="21.66" y="2.7" width="0.76" height="0.77" fill="#bbb"/>
<rect x="20.07" y="28.09" width="1.29" height="1.19" fill="#666"/>
<rect x="11.62" y="21.37" width="1.24" height="1.26" fill="#555"/>
<rect x="5.39" y="12.35" width="1.21" height="1.09" fill="#444"/>
<rect x="31.5" y="37.61" width="1.35" height="1.2" fill="#bbb"/>
<rect x="33.21" y="22.67" width="1.28" height="0.93" fill="#999"/>
<rect x="21.99" y="6.57" width="0.65" height="1.44" fill="#555"/>
<rect x="24.47" y="1.33" width="1.44" height="1.47" fill="#bbb"/>
<rect x="5.9" y="32.26" width="0.66" height="1.42" fill="#444"/>
<rect x="0.93" y="24.74" width="0.81" height="0.68" fill="#bbb"/>
<rect x="18.16" y="9.55" width="0.76" height="0.88" fill="#bbb"/>
<rect x="13.55" y="1.04" width="0.9" height="0.66" fill="#555"/>
<rect x="0.9" y="28.78" width="0.65" height="1.23" fill="#bbb"/>
<rect x="11.15" y="36.8" width="1.41" height="1.38" fill="#999"/>
<rect x="24.12" y="38.83" width="1.1" height="0.6" fill="#555"/>
<rect x="29.29" y="9.11" width="0.68" height="1.43" fill="#444"/>
<rect x="19.36" y="24.03" width="1.4" height="0.94" fill="#444"/>
<rect x="18.56" y="31.44" width="1.01" height="0.78" fill="#aaa"/>
<rect x="11.25" y="29.79" width="1.35" height="0.82" fill="#bbb"/>
<rect x="12.22" y="1.82" width="0.69" height="1" fill="#666"/>
<rect x="18.46" y="13.92" width="1.04" height="1.16" fill="#bbb"/>
<rect x="31.88" y="28.32" width="0.96" height="0.74" fill="#999"/>
<rect x="29.29" y="26.32" width="0.97" height="1.07" fill="#aaa"/>
<rect x="17" y="7.38" width="1.47" height="0.79" fill="#aaa"/>
<rect x="26.15" y="9.95" width="1.11" height="1.41" fill="#666"/>
<rect x="11.04" y="25.42" width="1.03" height="0.94" fill="#444"/>
<rect x="33.67" y="12.63" width="1.33" height="1.39" fill="#666"/>
<rect x="10.16" y="33.23" width="1.1" height="1.14" fill="#bbb"/>
<rect x="35.89" y="28.03" width="0.75" height="1.21" fill="#555"/>
<rect x="31.45" y="27.13" width="1.33" height="0.99" fill="#bbb"/>
<rect x="28.54" y="17.47" width="1.36" height="0.74" fill="#aaa"/>
<rect x="20.38" y="5.96" width="0.8" height="1.38" fill="#999"/>
<rect x="11.1" y="3.99" width="1.25" height="1.36" fill="#aaa"/>
<rect x="19" y="21.51" width="1" height="1.05" fill="#555"/>
<rect x="0.67" y="37.2" width="0.78" height="0.63" fill="#bbb"/>
<rect x="22.8" y="21.52" width="0.8" height="1.3" fill="#666"/>
<rect x="25.22" y="23.78" width="1.45" height="0.75" fill="#666"/>
<rect x="14.87" y="19.2" width="0.66" height="1.18" fill="#bbb"/>
<rect x="12.28" y="10.1" width="1.33" height="1.32" fill="#555"/>
<rect x="33.56" y="34.82" width="0.65" height="0.82" fill="#555"/>
<rect x="10.23" y="33.34" width="0.84" height="0.76" fill="#555"/>
<rect x="12" y="18.46" width="0.93" height="1.31" fill="#bbb"/>
<rect x="16.54" y="30.17" width="1.38" height="0.7" fill="#bbb"/>
<rect x="4.33" y="27.89" width="1.3" height="1.5" fill="#aaa"/>
<rect x="14.03" y="12.54" width="0.95" height="1.19" fill="#444"/>
<rect x="15.7" y="12.5" width="0.67" height="1.45" fill="#444"/>
<rect x="29.92" y="27.07" width="1.13" height="1.08" fill="#999"/>
<rect x="10.98" y="33.12" width="1.42" height="1.34" fill="#aaa"/>
<rect x="26.44" y="22.39" width="1.02" height="1.12" fill="#aaa"/>
<rect x="39.81" y="20.34" width="0.71" height="1.22" fill="#999"/>
<rect x="39.13" y="0.53" width="1.16" height="1.17" fill="#aaa"/>
<rect x="18.8" y="5.24" width="0.87" height="1.24" fill="#bbb"/>
<rect x="37.34" y="5.71" width="0.95" height="0.6" fill="#666"/>
<rect x="0.88" y="17.66" width="0.89" height="1.14" fill="#666"/>
<rect x="2.72" y="1.94" width="0.67" height="0.64" fill="#666"/>
<rect x="12.23" y="21.83" width="1.33" height="0.7" fill="#bbb"/>
<rect x="25.7" y="39.82" width="0.87" height="1.3" fill="#666"/>
<rect x="28.19" y="24.65" width="1.17" height="1.27" fill="#555"/>
<rect x="4.71" y="18.56" width="1.04" height="1" fill="#555"/>
<rect x="17.41" y="9.12" width="1.47" height="0.89" fill="#bbb"/>
<rect x="28.48" y="15.15" width="1.07" height="1.1" fill="#555"/>
<rect x="23.45" y="26.07" width="0.84" height="1.43" fill="#aaa"/>
<rect x="17.62" y="30.51" width="0.85" height="0.74" fill="#444"/>
<rect x="6.85" y="5.95" width="0.85" height="1.35" fill="#555"/>
<rect x="22.43" y="16.65" width="0.63" height="1" fill="#666"/>
<rect x="36.44" y="17.59" width="1.29" height="0.69" fill="#555"/>
<rect x="16.2" y="20.24" width="1.34" height="1.33" fill="#666"/>
<rect x="5.07" y="18.93" width="0.61" height="0.74" fill="#aaa"/>
<rect x="25.53" y="32.6" width="1.1" height="1.14" fill="#555"/>
<rect x="5.48" y="32.85" width="0.98" height="0.83" fill="#aaa"/>
<rect x="12.51" y="38.57" width="1.11" height="1.48" fill="#444"/>
<rect x="37.78" y="16.33" width="1.14" height="1.38" fill="#555"/>
<rect x="17.12" y="22.89" width="0.79" height="1.35" fill="#666"/>
<rect x="27.11" y="11.58" width="1.12" height="0.62" fill="#999"/>
<rect x="23.43" y="11.96" width="0.85" height="1.18" fill="#555"/>
<rect x="3.76" y="20.65" width="0.91" height="0.93" fill="#666"/>
<rect x="20.35" y="20.16" width="1.25" height="0.94" fill="#999"/>
<rect x="36.55" y="20.52" width="1.14" height="1.14" fill="#aaa"/>
<rect x="39.61" y="37.73" width="0.83" height="1.33" fill="#444"/>
<rect x="32.06" y="5.4" width="1.09" height="0.72" fill="#444"/>
<rect x="0.61" y="10.29" width="1.23" height="0.92" fill="#bbb"/>
<rect x="24.65" y="7.76" width="1.02" height="1.24" fill="#555"/>
<rect x="12.01" y="32.04" width="0.77" height="1.18" fill="#444"/>
<rect x="27.49" y="1.73" width="0.77" height="1.46" fill="#999"/>
<rect x="27.41" y="7.83" width="1.2" height="1.11" fill="#bbb"/>
<rect x="11.43" y="26.34" width="0.96" height="0.96" fill="#999"/>
<rect x="37.98" y="38.59" width="1.3" height="1.49" fill="#999"/>
<rect x="1.47" y="3.26" width="1.21" height="0.67" fill="#444"/>
<rect x="37.54" y="33.34" width="1.39" height="0.84" fill="#999"/>
<rect x="19.01" y="12.5" width="0.93" height="1.32" fill="#aaa"/>
<rect x="33.79" y="26.78" width="0.75" height="0.74" fill="#444"/>
<rect x="21.2" y="19.14" width="1.38" height="1.07" fill="#aaa"/>
<rect x="28.68" y="8.95" width="1.36" height="0.9" fill="#666"/>
<rect x="12.1" y="10.7" width="0.96" height="0.61" fill="#999"/>
<rect x="8.8" y="18.65" width="1" height="1.17" fill="#555"/>
<rect x="3.76" y="37.82" width="0.96" height="0.82" fill="#444"/>
<rect x="3.98" y="28.39" width="1.12" height="1.05" fill="#aaa"/>
<rect x="17.94" y="8.52" width="0.65" height="1.12" fill="#555"/>
<rect x="35.47" y="4.98" width="1.36" height="0.62" fill="#bbb"/>
<rect x="23.47" y="35.38" width="1.04" height="0.73" fill="#999"/>
<rect x="6.18" y="21.59" width="0.84" height="0.96" fill="#aaa"/>
<rect x="3.6" y="39.35" width="1.31" height="1.2" fill="#666"/>
<rect x="23.97" y="36.88" width="1.33" height="1.11" fill="#666"/>
<rect x="1.9" y="20.04" width="1.06" height="0.63" fill="#666"/>
<rect x="28.26" y="37.25" width="1.18" height="1.2" fill="#999"/>
<rect x="31.12" y="17.82" width="1.02" height="1.28" fill="#666"/>
<rect x="36.8" y="27.55" width="0.76" height="0.7" fill="#bbb"/>
<rect x="27.35" y="35.7" width="0.71" height="0.72" fill="#999"/>
<rect x="26.7" y="7.52" width="0.9" height="1.25" fill="#999"/>
<rect x="31.72" y="25.27" width="0.76" height="1.47" fill="#aaa"/>
<rect x="17.84" y="2.69" width="0.63" height="1.4" fill="#bbb"/>
<rect x="16.48" y="38.17" width="0.97" height="1.36" fill="#555"/>
<rect x="23.45" y="9.51" width="0.87" height="1.04" fill="#999"/>
<rect x="2.29" y="35.29" width="0.61" height="0.63" fill="#999"/>
<rect x="8.1" y="13.43" width="0.61" height="0.68" fill="#555"/>
<rect x="34.13" y="34.35" width="1.04" height="1.04" fill="#666"/>
<rect x="33.48" y="23.43" width="1.12" height="0.61" fill="#999"/>
<rect x="25.12" y="16.37" width="1.46" height="1.05" fill="#444"/>
<rect x="15.02" y="19.68" width="0.96" height="0.69" fill="#bbb"/>
<rect x="17.29" y="20.19" width="0.62" height="1.26" fill="#999"/>
<rect x="34.84" y="39.46" width="1.28" height="0.64" fill="#999"/>
<rect x="26.6" y="11.06" width="1.43" height="1.34" fill="#aaa"/>
<rect x="14.05" y="18.74" width="0.69" height="1.17" fill="#444"/>
<rect x="24.66" y="13.27" width="1.09" height="1.44" fill="#444"/>
<rect x="15.98" y="35.48" width="1.32" height="1.19" fill="#999"/>
<rect x="18.4" y="22.09" width="1.25" height="1.47" fill="#444"/>
<rect x="29.35" y="12.16" width="1.41" height="0.64" fill="#666"/>
<rect x="37.88" y="0.56" width="0.89" height="1.39" fill="#555"/>
<rect x="30.61" y="9.77" width="1.42" height="0.75" fill="#666"/>
<rect x="9.52" y="15.25" width="0.8" height="1.23" fill="#444"/>
<rect x="39.18" y="30.79" width="1.15" height="0.73" fill="#555"/>
<rect x="9.89" y="20.64" width="0.95" height="0.91" fill="#999"/>
<rect x="7" y="22.34" width="1.3" height="1.44" fill="#555"/>
<rect x="21.11" y="31.84" width="0.65" height="0.71" fill="#555"/>
<rect x="15.89" y="21.91" width="1.44" height="0.66" fill="#666"/>
<rect x="2.84" y="15.19" width="1.44" height="1.09" fill="#555"/>
<rect x="23.22" y="4.87" width="1.32" height="1.06" fill="#aaa"/>
<rect x="19.49" y="33.48" width="0.71" height="1.4" fill="#aaa"/>
<rect x="32.41" y="9.16" width="0.6" height="1.38" fill="#666"/>
<rect x="3.9" y="30.66" width="1.3" height="1.17" fill="#666"/>
<rect x="39.11" y="5.18" width="0.77" height="1.24" fill="#999"/>
<rect x="27.37" y="33.95" width="1.11" height="0.85" fill="#666"/>
<rect x="24.19" y="7.34" width="1.15" height="0.93" fill="#aaa"/>
<rect x="9.69" y="27.89" width="1.21" height="0.71" fill="#666"/>
<rect x="30.65" y="12.25" width="0.69" height="0.85" fill="#bbb"/>
<rect x="18.67" y="32.61" width="0.74" height="0.7" fill="#666"/>
<rect x="16.08" y="7.19" width="0.79" height="1.44" fill="#555"/>
<rect x="3.65" y="26.71" width="0.68" height="0.82" fill="#bbb"/>
<rect x="2.11" y="37.74" width="1.16" height="0.71" fill="#999"/>
<rect x="13.63" y="9.68" width="1.31" height="1.24" fill="#999"/>
<rect x="21.27" y="27.98" width="0.71" height="0.95" fill="#666"/>
<rect x="16.74" y="11.68" width="0.71" height="0.99" fill="#999"/>
<rect x="11.3" y="34.56" width="1.17" height="1.03" fill="#999"/>
<rect x="24.9" y="3.58" width="0.71" height="0.66" fill="#999"/>
<rect x="34.5" y="10.26" width="0.83" height="0.69" fill="#444"/>
<rect x="28.04" y="25.64" width="1.06" height="0.77" fill="#555"/>
<rect x="19.25" y="15.3" width="1.36" height="1.4" fill="#999"/>
<rect x="25.65" y="22.28" width="1.25" height="0.68" fill="#999"/>
<rect x="26.4" y="12.31" width="1.06" height="0.86" fill="#999"/>
<rect x="33.22" y="11.51" width="1.38" height="1.3" fill="#444"/>
<rect x="19.12" y="38.58" width="0.73" height="1.43" fill="#bbb"/>
<rect x="20.01" y="0.63" width="1.24" height="1.32" fill="#666"/>
<rect x="33.91" y="32.78" width="0.94" height="1.35" fill="#aaa"/>
<rect x="17.08" y="0.81" width="1.5" height="1.26" fill="#bbb"/>
<rect x="32" y="29.24" width="0.68" height="1.48" fill="#aaa"/>
<rect x="12.41" y="8.11" width="0.93" height="1.2" fill="#bbb"/>
<rect x="37.81" y="25.33" width="0.93" height="0.7" fill="#555"/>
<rect x="12.34" y="4.59" width="1.27" height="1.28" fill="#999"/>
<rect x="26.45" y="22.82" width="1.17" height="0.82" fill="#bbb"/>
<rect x="23.64" y="21.71" width="0.98" height="0.83" fill="#666"/>
<rect x="39.98" y="29.25" width="0.63" height="1.05" fill="#444"/>
<rect x="8.28" y="2.15" width="0.74" height="0.91" fill="#555"/>
<rect x="35.57" y="9.46" width="1.3" height="1" fill="#444"/>
<rect x="16.37" y="3.07" width="1.26" height="0.76" fill="#aaa"/>
<rect x="27.56" y="15.21" width="1.43" height="1.34" fill="#666"/>
<rect x="14.46" y="5.66" width="0.89" height="0.99" fill="#555"/>
<rect x="1.75" y="19.48" width="0.63" height="1.26" fill="#bbb"/>
<rect x="29.07" y="14.85" width="1.49" height="0.84" fill="#999"/>
<rect x="7.26" y="32.63" width="1.01" height="1.24" fill="#666"/>
<rect x="30.36" y="5.37" width="1.24" height="1.33" fill="#444"/>
<rect x="2.61" y="12.15" width="0.93" height="0.85" fill="#aaa"/>
<rect x="25.55" y="4.01" width="0.9" height="0.81" fill="#666"/>
<rect x="0.52" y="17.79" width="1.38" height="1.3" fill="#bbb"/>
<rect x="14.87" y="19.97" width="1.12" height="0.8" fill="#aaa"/>
<rect x="28.92" y="14" width="1.28" height="1.12" fill="#bbb"/>
<rect x="39.43" y="15.14" width="1.49" height="0.61" fill="#555"/>
<rect x="23.57" y="27.7" width="1.17" height="1.18" fill="#999"/>
<rect x="8.33" y="31.36" width="1.1" height="1.28" fill="#999"/>
<rect x="39.31" y="18.78" width="1.4" height="0.89" fill="#555"/>
<rect x="27.81" y="11.69" width="1.22" height="0.72" fill="#999"/>
<rect x="32.07" y="24.97" width="1.36" height="0.86" fill="#999"/>
<rect x="23.91" y="29.15" width="0.78" height="0.88" fill="#666"/>
<rect x="0.9" y="11.87" width="1.42" height="0.77" fill="#aaa"/>
<rect x="6.92" y="29.27" width="0.71" height="1.28" fill="#aaa"/>
<rect x="38.54" y="12.14" width="1.28" height="0.97" fill="#bbb"/>
<rect x="35.36" y="37.53" width="0.86" height="1.27" fill="#bbb"/>
<rect x="36.83" y="13.74" width="1.19" height="1.47" fill="#bbb"/>
<rect x="0.53" y="13.2" width="0.89" height="0.78" fill="#999"/>
<rect x="10.52" y="13.69" width="1.26" height="1.18" fill="#666"/>
<rect x="0.54" y="35.99" width="0.85" height="0.79" fill="#555"/>
<rect x="25.52" y="13.69" width="1.06" height="0.98" fill="#555"/>
<rect x="23.13" y="17.85" width="0.87" height="1.07" fill="#bbb"/>
<rect x="1.7" y="16.83" width="1.16" height="0.84" fill="#aaa"/>
<rect x="19.02" y="13.18" width="0.72" height="1.4" fill="#444"/>
<rect x="27.59" y="9.42" width="0.82" height="0.82" fill="#aaa"/>
<rect x="28.02" y="9.53" width="1.08" height="1.35" fill="#666"/>
<rect x="34.44" y="14.94" width="0.65" height="1.2" fill="#aaa"/>
<rect x="17.01" y="39.3" width="0.77" height="1.24" fill="#555"/>
<rect x="3.42" y="13.97" width="1.04" height="1.06" fill="#aaa"/>
<rect x="38.15" y="25.25" width="1.07" height="0.73" fill="#999"/>
<rect x="5.06" y="8.7" width="1.29" height="1.02" fill="#999"/>
<rect x="13.52" y="15.92" width="1.46" height="0.91" fill="#999"/>
<rect x="35.64" y="8.01" width="1.09" height="1.45" fill="#555"/>
<rect x="27.57" y="18.42" width="1.47" height="0.8" fill="#555"/>
<rect x="13.48" y="5.99" width="0.77" height="1.1" fill="#bbb"/>
<rect x="12.7" y="27.39" width="0.97" height="1.28" fill="#555"/>
<rect x="11.88" y="25.01" width="1.33" height="1.02" fill="#666"/>
<rect x="32.49" y="12.05" width="1.09" height="0.62" fill="#999"/>
<rect x="7.1" y="8.17" width="0.91" height="1.12" fill="#aaa"/>
<rect x="38.97" y="37.87" width="1.46" height="0.67" fill="#bbb"/>
<rect x="33.84" y="1.75" width="0.71" height="1.07" fill="#999"/>
<rect x="17.54" y="23.8" width="1.33" height="0.85" fill="#555"/>
<rect x="16.42" y="22.62" width="1.08" height="0.84" fill="#999"/>
<rect x="39.79" y="29.59" width="0.79" height="0.73" fill="#bbb"/>
<rect x="26.59" y="23.32" width="0.72" height="0.97" fill="#555"/>
<rect x="17.39" y="27.9" width="1.06" height="1.49" fill="#999"/>
<rect x="38.15" y="33.65" width="1.26" height="0.64" fill="#bbb"/>
<rect x="5.44" y="30.84" width="0.76" height="1.3" fill="#999"/>
<rect x="32.08" y="5.26" width="1.39" height="0.98" fill="#666"/>
<rect x="3.4" y="4.61" width="1.43" height="0.93" fill="#555"/>
<rect x="35.6" y="20.46" width="1.06" height="1.49" fill="#aaa"/>
<rect x="5.5" y="3.69" width="0.81" height="0.81" fill="#555"/>
<rect x="16.73" y="1.39" width="1.43" height="1.04" fill="#bbb"/>
<rect x="27.9" y="29.19" width="1.28" height="0.87" fill="#bbb"/>
<rect x="25.32" y="5.73" width="1.21" height="1.02" fill="#999"/>
<rect x="6.71" y="13.76" width="1.34" height="1.32" fill="#555"/>
<rect x="29.27" y="17.64" width="0.71" height="1.27" fill="#666"/>
<rect x="25.92" y="31.18" width="1.06" height="1.11" fill="#bbb"/>
<rect x="25.93" y="26.24" width="1.13" height="1.04" fill="#999"/>
<rect x="22.9" y="5.16" width="0.98" height="0.98" fill="#999"/>
<rect x="9.61" y="20.77" width="1.07" height="0.73" fill="#666"/>
<rect x="14.86" y="38.88" width="0.68" height="0.62" fill="#bbb"/>
<rect x="4.56" y="19.83" width="0.76" height="0.71" fill="#555"/>
<rect x="9.57" y="0.61" width="1.39" height="1.45" fill="#666"/>
<rect x="34.81" y="26.94" width="1.42" height="1.42" fill="#aaa"/>
<rect x="33.46" y="9.64" width="0.83" height="1.23" fill="#999"/>
<rect x="17.77" y="4.67" width="0.77" height="1.33" fill="#666"/>
<rect x="4.57" y="23.75" width="1.49" height="1.24" fill="#999"/>
<rect x="36.6" y="38.72" width="0.98" height="0.79" fill="#bbb"/>
<rect x="32.36" y="26.63" width="1.03" height="1.4" fill="#444"/>
<rect x="5.21" y="27.84" width="0.61" height="0.97" fill="#444"/>
<rect x="37.15" y="29.21" width="0.71" height="0.81" fill="#666"/>
<rect x="8.69" y="35.73" width="0.68" height="1.15" fill="#aaa"/>
<rect x="29.12" y="20.72" width="1.47" height="1.25" fill="#555"/>
<rect x="13.1" y="24.24" width="0.7" height="0.97" fill="#444"/>
<rect x="7.01" y="20.01" width="1.36" height="1" fill="#666"/>
<rect x="22.42" y="6.85" width="0.88" height="1.16" fill="#444"/>
<rect x="10.7" y="36.49" width="1.22" height="1" fill="#bbb"/>
<rect x="6.24" y="10.48" width="0.99" height="1.42" fill="#aaa"/>
<rect x="23.5" y="17.76" width="1.39" height="1.25" fill="#aaa"/>
<rect x="15.8" y="30.39" width="0.96" height="1.03" fill="#999"/>
<rect x="6.19" y="14.6" width="0.64" height="1.34" fill="#bbb"/>
<rect x="10.03" y="39.11" width="1.07" height="1.21" fill="#999"/>
<rect x="39.24" y="33.04" width="0.72" height="1.42" fill="#bbb"/>
<rect x="32.76" y="20.51" width="1.14" height="0.72" fill="#bbb"/>
<rect x="13.45" y="27.26" width="1.09" height="0.6" fill="#bbb"/>
<rect x="29.9" y="7.46" width="1.47" height="0.68" fill="#555"/>
<rect x="32.91" y="22" width="0.89" height="0.82" fill="#666"/>
<rect x="32.99" y="31.49" width="1.21" height="1.23" fill="#555"/>
<rect x="27.92" y="35.4" width="1.19" height="0.7" fill="#555"/>
<rect x="0.91" y="22.65" width="1.38" height="0.67" fill="#bbb"/>
<rect x="23.43" y="17.19" width="0.82" height="1.48" fill="#666"/>
<rect x="18.18" y="33.94" width="0.87" height="1.49" fill="#555"/>
<rect x="15.91" y="31.19" width="1.3" height="1.1" fill="#bbb"/>
<rect x="4.03" y="7.95" width="1.33" height="1.48" fill="#bbb"/>
<rect x="28.43" y="12.96" width="0.85" height="1.15" fill="#aaa"/>
<rect x="39.39" y="1.74" width="1.15" height="0.91" fill="#aaa"/>
<rect x="26.17" y="13.59" width="0.84" height="1.16" fill="#bbb"/>
<rect x="38.43" y="20.65" width="0.87" height="1.12" fill="#555"/>
<rect x="22.11" y="1.23" width="0.93" height="1.06" fill="#aaa"/>
<rect x="22.14" y="29.08" width="1.4" height="1.02" fill="#555"/>
<rect x="14.9" y="3.45" width="1.19" height="1.35" fill="#555"/>
<rect x="24.09" y="31.28" width="0.72" height="0.86" fill="#bbb"/>
<rect x="38.62" y="20.26" width="0.74" height="1.4" fill="#bbb"/>
<rect x="6.21" y="26.36" width="0.89" height="0.72" fill="#aaa"/>
<rect x="17.81" y="7.22" width="0.87" height="0.72" fill="#666"/>
<rect x="22.08" y="16.15" width="1.32" height="0.68" fill="#666"/>
<rect x="24.24" y="18.28" width="1.27" height="0.69" fill="#444"/>
<rect x="22.16" y="25.11" width="1.38" height="1.11" fill="#444"/>
<rect x="3.9" y="35.01" width="0.89" height="0.97" fill="#444"/>
<rect x="3.92" y="7.2" width="1.44" height="0.98" fill="#666"/>
<rect x="12.69" y="5.82" width="1.29" height="1.22" fill="#666"/>
<rect x="13.9" y="26.06" width="1.43" height="1.01" fill="#bbb"/>
<rect x="32.48" y="13.59" width="0.89" height="1.06" fill="#bbb"/>
<rect x="12.58" y="2.22" width="1.24" height="1.08" fill="#bbb"/>
<rect x="34.46" y="30.4" width="1.1" height="0.93" fill="#666"/>
<rect x="5.52" y="2.81" width="1.38" height="1.17" fill="#bbb"/>
<rect x="7.8" y="38.57" width="0.64" height="1.33" fill="#444"/>
<rect x="11.32" y="36.68" width="0.76" height="1.42" fill="#444"/>
<rect x="3.6" y="36.79" width="0.69" height="0.72" fill="#bbb"/>
<rect x="17.68" y="24.93" width="1.35" height="0.6" fill="#aaa"/>
<rect x="2.07" y="0.43" width="0.81" height="1.3" fill="#aaa"/>
<rect x="15.1" y="35.2" width="0.73" height="1.37" fill="#bbb"/>
<rect x="23.05" y="38.74" width="1.33" height="0.6" fill="#aaa"/>
<rect x="27.22" y="12.17" width="1.26" height="1.04" fill="#555"/>
<rect x="14.55" y="35.26" width="1.22" height="1.01" fill="#444"/>
<rect x="23.98" y="26.44" width="0.9" height="1.19" fill="#bbb"/>
<rect x="35.89" y="28.56" width="1.04" height="1.36" fill="#aaa"/>
<rect x="0.36" y="19.12" width="1.35" height="0.96" fill="#444"/>
<rect x="39.77" y="25.94" width="0.64" height="0.71" fill="#555"/>
<rect x="3.54" y="16.01" width="0.81" height="1.19" fill="#bbb"/>
<rect x="3.13" y="36.36" width="1.35" height="1.1" fill="#999"/>
<rect x="23.2" y="21.21" width="1.09" height="1.04" fill="#bbb"/>
<rect x="8.69" y="17.23" width="0.97" height="1.06" fill="#bbb"/>
<rect x="5.05" y="16.9" width="1.49" height="1.35" fill="#aaa"/>
<rect x="8.87" y="8.87" width="0.62" height="0.85" fill="#555"/>
<rect x="0.61" y="16.74" width="1.43" height="1.31" fill="#999"/>
<rect x="23.89" y="11.99" width="1.26" height="1.22" fill="#bbb"/>
<rect x="6.8" y="18.17" width="1.37" height="0.96" fill="#555"/>
<rect x="18.64" y="24.65" width="0.77" height="1.37" fill="#555"/>
<rect x="34.14" y="32.64" width="1.04" height="0.76" fill="#666"/>
<rect x="14.77" y="24.45" width="1.14" height="0.9" fill="#444"/>
<rect x="14.13" y="13.97" width="1.14" height="0.7" fill="#666"/>
<rect x="13.21" y="28.7" width="1.33" height="0.73" fill="#555"/>
<rect x="23.58" y="33.02" width="0.66" height="1.09" fill="#bbb"/>
<rect x="12.55" y="8.79" width="1.05" height="0.6" fill="#aaa"/>
<rect x="39.95" y="21.39" width="1.46" height="0.83" fill="#555"/>
<rect x="3" y="21.33" width="1.23" height="1.18" fill="#555"/>
<rect x="23.1" y="37.35" width="1.45" height="1.39" fill="#666"/>
<rect x="36.42" y="30.3" width="0.91" height="0.62" fill="#666"/>
<rect x="10.18" y="14.69" width="1.12" height="0.81" fill="#bbb"/>
<rect x="21.16" y="18.34" width="1.13" height="0.9" fill="#444"/>
<rect x="27.86" y="13.94" width="0.73" height="0.67" fill="#999"/>
<rect x="17.97" y="9.44" width="0.76" height="1.24" fill="#666"/>
<rect x="37.42" y="13.61" width="1.34" height="1.03" fill="#666"/>
<rect x="16.36" y="22.36" width="1.36" height="0.78" fill="#555"/>
<rect x="21.7" y="34.28" width="0.65" height="1.32" fill="#999"/>
<rect x="13.74" y="16.33" width="1.36" height="0.87" fill="#aaa"/>
<rect x="0.12" y="3.7" width="1.24" height="0.72" fill="#666"/>
</pattern>
</defs>
<rect width="1920" height="1369" fill="#fff"/>
<g transform="rotate(-0.17 472 122)">
<rect x="151" y="81.2" width="642" height="81.6" fill="none" stroke="#111" stroke-width="1.6"/>
<text x="160.4" y="100.1" font-family="Liberation Sans" font-size="15.6" font-weight="bold" font-style="normal" text-anchor="start" fill="#161616" textLength="622.6" lengthAdjust="spacingAndGlyphs" stroke="#fff" stroke-width="0.35">SOCIETE D’EXPLOITATION TOURISTQUE PIERRE &amp; VACANCES MAEVA FRANCE SAS</text>
<text x="325" y="118.9" font-family="Liberation Sans" font-size="15.6" font-weight="bold" font-style="normal" text-anchor="start" fill="#161616" textLength="294" lengthAdjust="spacingAndGlyphs" stroke="#fff" stroke-width="0.35">S.E.T. LES ARCS – Etablissement N° 2067</text>
<text x="171.7" y="138.3" font-family="Liberation Sans" font-size="15.6" font-weight="bold" font-style="normal" text-anchor="start" fill="#161616" textLength="599.3" lengthAdjust="spacingAndGlyphs" stroke="#fff" stroke-width="0.35">STATION DES ARCS – LA PAGODE 2 – BAT. D5 – BP 60 – 73706 LES ARCS CEDEX</text>
<text x="268.7" y="157.7" font-family="Liberation Sans" font-size="15.6" font-weight="bold" font-style="normal" text-anchor="start" fill="#161616" textLength="404.3" lengthAdjust="spacingAndGlyphs" stroke="#fff" stroke-width="0.35">Tél. : +33 (0)4 79 07 41 70 – Fax : +33 (0)4 79 07 35 91</text>
</g>
<text x="149.5" y="293.6" font-family="Liberation Serif" font-size="78.5" font-weight="normal" font-style="normal" text-anchor="start" fill="#0c0c0c" textLength="586.5" lengthAdjust="spacingAndGlyphs" stroke="#0c0c0c" stroke-width="0.9">LE BELLECÔTE</text>
<rect x="149.7" y="303.2" width="587" height="4" fill="#0c0c0c"/>
<text x="149.7" y="334.6" font-family="Liberation Serif" font-size="23.6" font-weight="bold" font-style="normal" text-anchor="start" fill="#0c0c0c" textLength="167.3" lengthAdjust="spacingAndGlyphs" >Façade SUDEST</text>
<rect x="150.4" y="355.2" width="419" height="116.3" fill="none" stroke="#111" stroke-width="1.7"/>
<rect x="183.6" y="372.4" width="17.6" height="50" fill="url(#gray)" stroke="#2a2a2a" stroke-width="1.6"/>
<rect x="166.9" y="422.4" width="102" height="34.5" fill="url(#gray)" stroke="#2a2a2a" stroke-width="1.6"/>
<text x="176.6" y="441.5" font-family="Liberation Sans" font-size="13.6" font-weight="normal" font-style="normal" text-anchor="start" fill="#fff" textLength="81.7" lengthAdjust="spacingAndGlyphs" >BELLECOTE</text>
<polygon points="212.5,376.9 225,365.1 233.9,365.1 227.1,373.75 242.2,373.75 242.2,380.5 227.1,380.5 233.3,388.9 224.5,388.9" fill="#0c0c0c" stroke="none" stroke-width="0" />
<text x="251" y="387.4" font-family="Liberation Sans" font-size="18.4" font-weight="bold" font-style="normal" text-anchor="start" fill="#111" textLength="257" lengthAdjust="spacingAndGlyphs" >Hôtel du Golf*** - LATITUDES</text>
<rect x="250.5" y="389.7" width="258" height="1.5" fill="#111"/>
<text x="288" y="417.8" font-family="Liberation Sans" font-size="17.6" font-weight="bold" font-style="normal" text-anchor="start" fill="#111" textLength="201.4" lengthAdjust="spacingAndGlyphs" >Accès Hôtel du Golf ***</text>
<text x="288" y="440.3" font-family="Liberation Sans" font-size="17.6" font-weight="bold" font-style="normal" text-anchor="start" fill="#111" textLength="98" lengthAdjust="spacingAndGlyphs" >au niveau 1</text>
<text x="707.5" y="426.2" font-family="Liberation Sans" font-size="33" font-weight="normal" font-style="normal" text-anchor="start" fill="#1a1a1a" textLength="245" lengthAdjust="spacingAndGlyphs" stroke="#fff" stroke-width="0.9">FAÇADE OUEST</text>
<g transform="rotate(1.25 1146 994)">
<text x="1146" y="992.5" font-family="Liberation Sans" font-size="32.5" font-weight="normal" font-style="normal" text-anchor="start" fill="#1a1a1a" textLength="195" lengthAdjust="spacingAndGlyphs" stroke="#fff" stroke-width="0.9">FAÇADE EST</text>
</g>
<g transform="matrix(1,0.0095,0,1,0,-8.67)">
<polygon points="701,595.3 913.2,595.3 913.2,648.7 681,648.7" fill="url(#hatch)" stroke="none" stroke-width="0" />
<polygon points="913.2,610 1668.4,610 1668.4,710.09 913.2,706" fill="url(#hatch)" stroke="none" stroke-width="0" />
<polygon points="1028,503.15 1261.7,474.33 1261.7,520.3 1028,520.3" fill="url(#vsw)" stroke="none" stroke-width="0" />
<polygon points="1144.2,459.7 1261.7,474.33 1144.2,488.82" fill="url(#vsw)" stroke="none" stroke-width="0" />
<polygon points="1382.5,459.43 1610.5,431.31 1610.5,476 1382.5,478" fill="url(#vsw)" stroke="none" stroke-width="0" />
<polygon points="1515,393.28 1667,413.04 1667,424.34 1515,443.09" fill="url(#vsw)" stroke="none" stroke-width="0" />
<polygon points="1261.7,474.33 1382.5,459.43 1382.5,520.3 1261.7,520.3" fill="url(#sph)" stroke="none" stroke-width="0" />
<polygon points="1382.5,478 1494,478 1494,520.3 1382.5,520.3" fill="url(#spl)" stroke="none" stroke-width="0" />
<polygon points="913.2,565 969,565 969,610 913.2,610" fill="url(#spl)" stroke="none" stroke-width="0" />
<line x1="1144.2" y1="459.7" x2="1261.7" y2="474.33" stroke="#111" stroke-width="2.2" stroke-linecap="butt"/>
<line x1="1144.2" y1="458.7" x2="1144.2" y2="488.82" stroke="#111" stroke-width="2.5" stroke-linecap="butt"/>
<line x1="1515" y1="393.28" x2="1667" y2="413.04" stroke="#111" stroke-width="2.4" stroke-linecap="butt"/>
<line x1="1515" y1="392.28" x2="1515" y2="443.09" stroke="#111" stroke-width="2.5" stroke-linecap="butt"/>
<line x1="1667" y1="412.04" x2="1667" y2="424.34" stroke="#111" stroke-width="2.5" stroke-linecap="butt"/>
<line x1="735.7" y1="539.2" x2="735.7" y2="649.7" stroke="#111" stroke-width="3" stroke-linecap="butt"/>
<line x1="795.6" y1="531.81" x2="795.6" y2="649.7" stroke="#111" stroke-width="3" stroke-linecap="butt"/>
<line x1="854.8" y1="524.51" x2="854.8" y2="649.7" stroke="#111" stroke-width="3" stroke-linecap="butt"/>
<line x1="913.2" y1="517.31" x2="913.2" y2="707" stroke="#111" stroke-width="3.6" stroke-linecap="butt"/>
<line x1="969" y1="510.43" x2="969" y2="707.3" stroke="#111" stroke-width="3" stroke-linecap="butt"/>
<line x1="1028" y1="503.15" x2="1028" y2="707.62" stroke="#111" stroke-width="3" stroke-linecap="butt"/>
<line x1="1086.5" y1="495.94" x2="1086.5" y2="520.3" stroke="#111" stroke-width="2.2" stroke-linecap="butt"/>
<line x1="1086.5" y1="520.3" x2="1086.5" y2="707.94" stroke="#111" stroke-width="3" stroke-linecap="butt"/>
<line x1="1144.2" y1="488.82" x2="1144.2" y2="708.25" stroke="#111" stroke-width="3" stroke-linecap="butt"/>
<line x1="1203.3" y1="481.53" x2="1203.3" y2="520.3" stroke="#111" stroke-width="2.2" stroke-linecap="butt"/>
<line x1="1203.3" y1="520.3" x2="1203.3" y2="708.57" stroke="#111" stroke-width="3" stroke-linecap="butt"/>
<line x1="1261.7" y1="474.33" x2="1261.7" y2="708.89" stroke="#111" stroke-width="3" stroke-linecap="butt"/>
<line x1="1321" y1="467.01" x2="1321" y2="709.21" stroke="#111" stroke-width="5" stroke-linecap="butt"/>
<line x1="1382.5" y1="459.43" x2="1382.5" y2="709.54" stroke="#111" stroke-width="3" stroke-linecap="butt"/>
<line x1="1437.5" y1="452.65" x2="1437.5" y2="478" stroke="#111" stroke-width="2.2" stroke-linecap="butt"/>
<line x1="1437.5" y1="477" x2="1437.5" y2="709.84" stroke="#111" stroke-width="3" stroke-linecap="butt"/>
<line x1="1494" y1="445.68" x2="1494" y2="478" stroke="#111" stroke-width="2.2" stroke-linecap="butt"/>
<line x1="1494" y1="477" x2="1494" y2="710.15" stroke="#111" stroke-width="3" stroke-linecap="butt"/>
<line x1="1553.5" y1="438.34" x2="1553.5" y2="478" stroke="#111" stroke-width="2.2" stroke-linecap="butt"/>
<line x1="1553.5" y1="477" x2="1553.5" y2="710.47" stroke="#111" stroke-width="3" stroke-linecap="butt"/>
<line x1="1610.5" y1="431.31" x2="1610.5" y2="710.78" stroke="#111" stroke-width="3" stroke-linecap="butt"/>
<line x1="1668.4" y1="424.17" x2="1668.4" y2="711.09" stroke="#111" stroke-width="3" stroke-linecap="butt"/>
<line x1="1709.4" y1="418.4" x2="1709.4" y2="613.73" stroke="#111" stroke-width="3" stroke-linecap="butt"/>
<line x1="735.7" y1="552" x2="913.2" y2="552" stroke="#111" stroke-width="2.8" stroke-linecap="butt"/>
<line x1="700.5" y1="595.3" x2="913.2" y2="595.3" stroke="#111" stroke-width="2.6" stroke-linecap="butt"/>
<line x1="679" y1="648.7" x2="914.8" y2="648.7" stroke="#111" stroke-width="3" stroke-linecap="butt"/>
<line x1="1028" y1="520.3" x2="1709.4" y2="520.3" stroke="#111" stroke-width="3" stroke-linecap="butt"/>
<line x1="1382.5" y1="478" x2="1610.5" y2="476.5" stroke="#111" stroke-width="2.8" stroke-linecap="butt"/>
<line x1="1610.5" y1="474" x2="1709.4" y2="474.6" stroke="#111" stroke-width="2.8" stroke-linecap="butt"/>
<line x1="913.2" y1="565" x2="1709.4" y2="565" stroke="#111" stroke-width="3" stroke-linecap="butt"/>
<line x1="913.2" y1="610" x2="1709.4" y2="610" stroke="#111" stroke-width="3.2" stroke-linecap="butt"/>
<line x1="913.2" y1="664" x2="1668.4" y2="664" stroke="#111" stroke-width="4" stroke-linecap="butt"/>
<line x1="911.5" y1="706" x2="1670" y2="710.1" stroke="#111" stroke-width="3.4" stroke-linecap="butt"/>
<line x1="721.1" y1="541.02" x2="680.4" y2="650.4" stroke="#111" stroke-width="3.2" stroke-linecap="butt"/>
<line x1="720" y1="541.14" x2="1715.2" y2="418.4" stroke="#111" stroke-width="3.6" stroke-linecap="round"/>
<polygon points="839.5,526.47 842.8,516.47 844.5,511.97 850,511.97 851.6,516.47 854.8,524.97" fill="#2a2a2a" stroke="none" stroke-width="0" />
<rect x="1080.2" y="640.5" width="401.4" height="35.1" fill="#fff" stroke="#1a1a1a" stroke-width="1.6"/>
<text x="1112.2" y="662.6" font-family="Liberation Sans" font-size="17.4" font-weight="bold" font-style="italic" text-anchor="start" fill="#111" textLength="337.3" lengthAdjust="spacingAndGlyphs" stroke="#111" stroke-width="0.4">SALLES SEMINAIRE HOTEL DU GOLF</text>
<path d="M1106.8,656.2 H1092.3 M1097.8,650.2 L1091,656.2 L1097.8,662.2" fill="none" stroke="#0c0c0c" stroke-width="3.6" stroke-linejoin="miter"/>
<path d="M1458.3,656.4 H1472.8 M1467.3,650.4 L1474.1,656.4 L1467.3,662.4" fill="none" stroke="#0c0c0c" stroke-width="3.6" stroke-linejoin="miter"/>
<text x="765.65" y="571.01" font-family="Liberation Sans" font-size="13.2" font-weight="bold" font-style="normal" text-anchor="middle" fill="#111" stroke="#111" stroke-width="0.3">L</text>
<text x="765.65" y="591.34" font-family="Liberation Sans" font-size="16.6" font-weight="bold" font-style="normal" text-anchor="middle" fill="#111" stroke="#111" stroke-width="0.45">126</text>
<text x="825.2" y="571.01" font-family="Liberation Sans" font-size="13.2" font-weight="bold" font-style="normal" text-anchor="middle" fill="#111" stroke="#111" stroke-width="0.3">L</text>
<text x="825.2" y="591.34" font-family="Liberation Sans" font-size="16.6" font-weight="bold" font-style="normal" text-anchor="middle" fill="#111" stroke="#111" stroke-width="0.45">126</text>
<text x="884" y="571.01" font-family="Liberation Sans" font-size="13.2" font-weight="bold" font-style="normal" text-anchor="middle" fill="#111" stroke="#111" stroke-width="0.3">H</text>
<text x="884" y="591.34" font-family="Liberation Sans" font-size="16.6" font-weight="bold" font-style="normal" text-anchor="middle" fill="#111" stroke="#111" stroke-width="0.45">124</text>
<text x="941.1" y="583.93" font-family="Liberation Sans" font-size="13.2" font-weight="bold" font-style="normal" text-anchor="middle" fill="#111" stroke="#111" stroke-width="0.3">H</text>
<text x="941.1" y="605.06" font-family="Liberation Sans" font-size="16.6" font-weight="bold" font-style="normal" text-anchor="middle" fill="#111" stroke="#111" stroke-width="0.45">122</text>
<text x="941.1" y="536.73" font-family="Liberation Sans" font-size="13.2" font-weight="bold" font-style="normal" text-anchor="middle" fill="#111" stroke="#111" stroke-width="0.3">H</text>
<text x="941.1" y="557.86" font-family="Liberation Sans" font-size="16.6" font-weight="bold" font-style="normal" text-anchor="middle" fill="#111" stroke="#111" stroke-width="0.45">222</text>
<text x="998.5" y="583.75" font-family="Liberation Sans" font-size="13.2" font-weight="bold" font-style="normal" text-anchor="middle" fill="#111" stroke="#111" stroke-width="0.3">H</text>
<text x="998.5" y="604.89" font-family="Liberation Sans" font-size="16.6" font-weight="bold" font-style="normal" text-anchor="middle" fill="#111" stroke="#111" stroke-width="0.45">120</text>
<text x="998.5" y="536.55" font-family="Liberation Sans" font-size="13.2" font-weight="bold" font-style="normal" text-anchor="middle" fill="#111" stroke="#111" stroke-width="0.3">H</text>
<text x="998.5" y="557.69" font-family="Liberation Sans" font-size="16.6" font-weight="bold" font-style="normal" text-anchor="middle" fill="#111" stroke="#111" stroke-width="0.45">220</text>
<text x="1057.25" y="583.58" font-family="Liberation Sans" font-size="13.2" font-weight="bold" font-style="normal" text-anchor="middle" fill="#111" stroke="#111" stroke-width="0.3">H</text>
<text x="1057.25" y="604.71" font-family="Liberation Sans" font-size="16.6" font-weight="bold" font-style="normal" text-anchor="middle" fill="#111" stroke="#111" stroke-width="0.45">118</text>
<text x="1057.25" y="539.08" font-family="Liberation Sans" font-size="13.2" font-weight="bold" font-style="normal" text-anchor="middle" fill="#111" stroke="#111" stroke-width="0.3">H</text>
<text x="1057.25" y="560.21" font-family="Liberation Sans" font-size="16.6" font-weight="bold" font-style="normal" text-anchor="middle" fill="#111" stroke="#111" stroke-width="0.45">218</text>
<text x="1115.35" y="583.4" font-family="Liberation Sans" font-size="13.2" font-weight="bold" font-style="normal" text-anchor="middle" fill="#111" stroke="#111" stroke-width="0.3">H</text>
<text x="1115.35" y="604.54" font-family="Liberation Sans" font-size="16.6" font-weight="bold" font-style="normal" text-anchor="middle" fill="#111" stroke="#111" stroke-width="0.45">116</text>
<text x="1115.35" y="538.9" font-family="Liberation Sans" font-size="13.2" font-weight="bold" font-style="normal" text-anchor="middle" fill="#111" stroke="#111" stroke-width="0.3">H</text>
<text x="1115.35" y="560.04" font-family="Liberation Sans" font-size="16.6" font-weight="bold" font-style="normal" text-anchor="middle" fill="#111" stroke="#111" stroke-width="0.45">216</text>
<text x="1164.25" y="583.23" font-family="Liberation Sans" font-size="13.2" font-weight="bold" font-style="normal" text-anchor="middle" fill="#111" stroke="#111" stroke-width="0.3">H</text>
<text x="1184.25" y="583.23" font-family="Liberation Sans" font-size="13.2" font-weight="bold" font-style="normal" text-anchor="middle" fill="#111" stroke="#111" stroke-width="0.3">2</text>
<text x="1173.75" y="604.36" font-family="Liberation Sans" font-size="16.6" font-weight="bold" font-style="normal" text-anchor="middle" fill="#111" stroke="#111" stroke-width="0.45">114</text>
<text x="1164.25" y="538.73" font-family="Liberation Sans" font-size="13.2" font-weight="bold" font-style="normal" text-anchor="middle" fill="#111" stroke="#111" stroke-width="0.3">H</text>
<text x="1184.25" y="538.73" font-family="Liberation Sans" font-size="13.2" font-weight="bold" font-style="normal" text-anchor="middle" fill="#111" stroke="#111" stroke-width="0.3">2</text>
<text x="1173.75" y="559.86" font-family="Liberation Sans" font-size="16.6" font-weight="bold" font-style="normal" text-anchor="middle" fill="#111" stroke="#111" stroke-width="0.45">214</text>
<text x="1223" y="583.05" font-family="Liberation Sans" font-size="13.2" font-weight="bold" font-style="normal" text-anchor="middle" fill="#111" stroke="#111" stroke-width="0.3">H</text>
<text x="1243" y="583.05" font-family="Liberation Sans" font-size="13.2" font-weight="bold" font-style="normal" text-anchor="middle" fill="#111" stroke="#111" stroke-width="0.3">2</text>
<text x="1232.5" y="604.18" font-family="Liberation Sans" font-size="16.6" font-weight="bold" font-style="normal" text-anchor="middle" fill="#111" stroke="#111" stroke-width="0.45">114</text>
<text x="1223" y="538.55" font-family="Liberation Sans" font-size="13.2" font-weight="bold" font-style="normal" text-anchor="middle" fill="#111" stroke="#111" stroke-width="0.3">H</text>
<text x="1243" y="538.55" font-family="Liberation Sans" font-size="13.2" font-weight="bold" font-style="normal" text-anchor="middle" fill="#111" stroke="#111" stroke-width="0.3">2</text>
<text x="1232.5" y="559.68" font-family="Liberation Sans" font-size="16.6" font-weight="bold" font-style="normal" text-anchor="middle" fill="#111" stroke="#111" stroke-width="0.45">214</text>
<text x="1291.35" y="582.88" font-family="Liberation Sans" font-size="13.2" font-weight="bold" font-style="normal" text-anchor="middle" fill="#111" stroke="#111" stroke-width="0.3">H</text>
<text x="1291.35" y="604.01" font-family="Liberation Sans" font-size="16.6" font-weight="bold" font-style="normal" text-anchor="middle" fill="#111" stroke="#111" stroke-width="0.45">112</text>
<text x="1291.35" y="538.38" font-family="Liberation Sans" font-size="13.2" font-weight="bold" font-style="normal" text-anchor="middle" fill="#111" stroke="#111" stroke-width="0.3">H</text>
<text x="1291.35" y="559.51" font-family="Liberation Sans" font-size="16.6" font-weight="bold" font-style="normal" text-anchor="middle" fill="#111" stroke="#111" stroke-width="0.45">212</text>
<text x="1351.75" y="582.7" font-family="Liberation Sans" font-size="13.2" font-weight="bold" font-style="normal" text-anchor="middle" fill="#111" stroke="#111" stroke-width="0.3">H</text>
<text x="1351.75" y="603.83" font-family="Liberation Sans" font-size="16.6" font-weight="bold" font-style="normal" text-anchor="middle" fill="#111" stroke="#111" stroke-width="0.45">110</text>
<text x="1351.75" y="538.2" font-family="Liberation Sans" font-size="13.2" font-weight="bold" font-style="normal" text-anchor="middle" fill="#111" stroke="#111" stroke-width="0.3">H</text>
<text x="1351.75" y="559.33" font-family="Liberation Sans" font-size="16.6" font-weight="bold" font-style="normal" text-anchor="middle" fill="#111" stroke="#111" stroke-width="0.45">210</text>
<text x="1410" y="582.52" font-family="Liberation Sans" font-size="13.2" font-weight="bold" font-style="normal" text-anchor="middle" fill="#111" stroke="#111" stroke-width="0.3">H</text>
<text x="1410" y="603.65" font-family="Liberation Sans" font-size="16.6" font-weight="bold" font-style="normal" text-anchor="middle" fill="#111" stroke="#111" stroke-width="0.45">108</text>
<text x="1410" y="538.02" font-family="Liberation Sans" font-size="13.2" font-weight="bold" font-style="normal" text-anchor="middle" fill="#111" stroke="#111" stroke-width="0.3">H</text>
<text x="1410" y="559.15" font-family="Liberation Sans" font-size="16.6" font-weight="bold" font-style="normal" text-anchor="middle" fill="#111" stroke="#111" stroke-width="0.45">208</text>
<text x="1465.75" y="582.35" font-family="Liberation Sans" font-size="13.2" font-weight="bold" font-style="normal" text-anchor="middle" fill="#111" stroke="#111" stroke-width="0.3">H</text>
<text x="1465.75" y="603.48" font-family="Liberation Sans" font-size="16.6" font-weight="bold" font-style="normal" text-anchor="middle" fill="#111" stroke="#111" stroke-width="0.45">106</text>
<text x="1465.75" y="537.85" font-family="Liberation Sans" font-size="13.2" font-weight="bold" font-style="normal" text-anchor="middle" fill="#111" stroke="#111" stroke-width="0.3">H</text>
<text x="1465.75" y="558.98" font-family="Liberation Sans" font-size="16.6" font-weight="bold" font-style="normal" text-anchor="middle" fill="#111" stroke="#111" stroke-width="0.45">206</text>
<text x="1523.75" y="582.18" font-family="Liberation Sans" font-size="13.2" font-weight="bold" font-style="normal" text-anchor="middle" fill="#111" stroke="#111" stroke-width="0.3">H</text>
<text x="1523.75" y="603.31" font-family="Liberation Sans" font-size="16.6" font-weight="bold" font-style="normal" text-anchor="middle" fill="#111" stroke="#111" stroke-width="0.45">104</text>
<text x="1523.75" y="537.68" font-family="Liberation Sans" font-size="13.2" font-weight="bold" font-style="normal" text-anchor="middle" fill="#111" stroke="#111" stroke-width="0.3">H</text>
<text x="1523.75" y="558.81" font-family="Liberation Sans" font-size="16.6" font-weight="bold" font-style="normal" text-anchor="middle" fill="#111" stroke="#111" stroke-width="0.45">204</text>
<text x="1572.5" y="582" font-family="Liberation Sans" font-size="13.2" font-weight="bold" font-style="normal" text-anchor="middle" fill="#111" stroke="#111" stroke-width="0.3">H</text>
<text x="1592.5" y="582" font-family="Liberation Sans" font-size="13.2" font-weight="bold" font-style="normal" text-anchor="middle" fill="#111" stroke="#111" stroke-width="0.3">2</text>
<text x="1582" y="603.14" font-family="Liberation Sans" font-size="16.6" font-weight="bold" font-style="normal" text-anchor="middle" fill="#111" stroke="#111" stroke-width="0.45">102</text>
<text x="1572.5" y="537.5" font-family="Liberation Sans" font-size="13.2" font-weight="bold" font-style="normal" text-anchor="middle" fill="#111" stroke="#111" stroke-width="0.3">H</text>
<text x="1592.5" y="537.5" font-family="Liberation Sans" font-size="13.2" font-weight="bold" font-style="normal" text-anchor="middle" fill="#111" stroke="#111" stroke-width="0.3">2</text>
<text x="1582" y="558.64" font-family="Liberation Sans" font-size="16.6" font-weight="bold" font-style="normal" text-anchor="middle" fill="#111" stroke="#111" stroke-width="0.45">202</text>
<text x="1629.95" y="581.83" font-family="Liberation Sans" font-size="13.2" font-weight="bold" font-style="normal" text-anchor="middle" fill="#111" stroke="#111" stroke-width="0.3">H</text>
<text x="1649.95" y="581.83" font-family="Liberation Sans" font-size="13.2" font-weight="bold" font-style="normal" text-anchor="middle" fill="#111" stroke="#111" stroke-width="0.3">2</text>
<text x="1639.45" y="602.96" font-family="Liberation Sans" font-size="16.6" font-weight="bold" font-style="normal" text-anchor="middle" fill="#111" stroke="#111" stroke-width="0.45">102</text>
<text x="1629.95" y="537.33" font-family="Liberation Sans" font-size="13.2" font-weight="bold" font-style="normal" text-anchor="middle" fill="#111" stroke="#111" stroke-width="0.3">H</text>
<text x="1649.95" y="537.33" font-family="Liberation Sans" font-size="13.2" font-weight="bold" font-style="normal" text-anchor="middle" fill="#111" stroke="#111" stroke-width="0.3">2</text>
<text x="1639.45" y="558.46" font-family="Liberation Sans" font-size="16.6" font-weight="bold" font-style="normal" text-anchor="middle" fill="#111" stroke="#111" stroke-width="0.45">202</text>
<text x="1291.35" y="493.88" font-family="Liberation Sans" font-size="13.2" font-weight="bold" font-style="normal" text-anchor="middle" fill="#111" stroke="#111" stroke-width="0.3">H</text>
<text x="1291.35" y="513.61" font-family="Liberation Sans" font-size="16.6" font-weight="bold" font-style="normal" text-anchor="middle" fill="#111" stroke="#111" stroke-width="0.45">312</text>
<text x="1351.75" y="493.7" font-family="Liberation Sans" font-size="13.2" font-weight="bold" font-style="normal" text-anchor="middle" fill="#111" stroke="#111" stroke-width="0.3">H</text>
<text x="1351.75" y="513.43" font-family="Liberation Sans" font-size="16.6" font-weight="bold" font-style="normal" text-anchor="middle" fill="#111" stroke="#111" stroke-width="0.45">310</text>
<text x="1410" y="493.52" font-family="Liberation Sans" font-size="13.2" font-weight="bold" font-style="normal" text-anchor="middle" fill="#111" stroke="#111" stroke-width="0.3">H</text>
<text x="1410" y="513.25" font-family="Liberation Sans" font-size="16.6" font-weight="bold" font-style="normal" text-anchor="middle" fill="#111" stroke="#111" stroke-width="0.45">308</text>
<text x="1465.75" y="493.35" font-family="Liberation Sans" font-size="13.2" font-weight="bold" font-style="normal" text-anchor="middle" fill="#111" stroke="#111" stroke-width="0.3">H</text>
<text x="1465.75" y="513.08" font-family="Liberation Sans" font-size="16.6" font-weight="bold" font-style="normal" text-anchor="middle" fill="#111" stroke="#111" stroke-width="0.45">306</text>
<text x="1523.75" y="493.18" font-family="Liberation Sans" font-size="13.2" font-weight="bold" font-style="normal" text-anchor="middle" fill="#111" stroke="#111" stroke-width="0.3">H</text>
<text x="1523.75" y="512.91" font-family="Liberation Sans" font-size="16.6" font-weight="bold" font-style="normal" text-anchor="middle" fill="#111" stroke="#111" stroke-width="0.45">304</text>
<text x="1572.5" y="493" font-family="Liberation Sans" font-size="13.2" font-weight="bold" font-style="normal" text-anchor="middle" fill="#111" stroke="#111" stroke-width="0.3">H</text>
<text x="1592.5" y="493" font-family="Liberation Sans" font-size="13.2" font-weight="bold" font-style="normal" text-anchor="middle" fill="#111" stroke="#111" stroke-width="0.3">2</text>
<text x="1582" y="512.74" font-family="Liberation Sans" font-size="16.6" font-weight="bold" font-style="normal" text-anchor="middle" fill="#111" stroke="#111" stroke-width="0.45">302</text>
<text x="1629.95" y="492.83" font-family="Liberation Sans" font-size="13.2" font-weight="bold" font-style="normal" text-anchor="middle" fill="#111" stroke="#111" stroke-width="0.3">H</text>
<text x="1649.95" y="492.83" font-family="Liberation Sans" font-size="13.2" font-weight="bold" font-style="normal" text-anchor="middle" fill="#111" stroke="#111" stroke-width="0.3">2</text>
<text x="1639.45" y="512.56" font-family="Liberation Sans" font-size="16.6" font-weight="bold" font-style="normal" text-anchor="middle" fill="#111" stroke="#111" stroke-width="0.45">302</text>
</g>
<line x1="1708" y1="620.3" x2="1809.5" y2="620.3" stroke="#111" stroke-width="1.8" stroke-linecap="butt"/>
<line x1="1674.5" y1="625.8" x2="1810" y2="625.8" stroke="#111" stroke-width="1.8" stroke-linecap="butt"/>
<line x1="1676" y1="625.8" x2="1676" y2="720" stroke="#111" stroke-width="1.6" stroke-linecap="butt"/>
<line x1="1710.5" y1="630" x2="1710.5" y2="712" stroke="#111" stroke-width="1.4" stroke-linecap="butt"/>
<line x1="1670" y1="720" x2="1812" y2="720.6" stroke="#111" stroke-width="1.6" stroke-linecap="butt"/>
<polygon points="1739.4,682 1694.3,752 1709,752" fill="#0c0c0c" stroke="none" stroke-width="0" />
<text x="1718.2" y="475.6" font-family="Liberation Sans" font-size="13.4" font-weight="bold" font-style="normal" text-anchor="start" fill="#111" stroke="#111" stroke-width="0.3">4</text>
<text x="1728.2" y="471.4" font-family="Liberation Sans" font-size="9" font-weight="bold" font-style="normal" text-anchor="start" fill="#111" letter-spacing="0.4" stroke="#111" stroke-width="0.4">e</text>
<text x="1744" y="475.6" font-family="Liberation Sans" font-size="13.4" font-weight="bold" font-style="normal" text-anchor="start" fill="#111" textLength="42.8" lengthAdjust="spacingAndGlyphs" stroke="#111" stroke-width="0.4">étage</text>
<text x="1718.2" y="522.3" font-family="Liberation Sans" font-size="13.4" font-weight="bold" font-style="normal" text-anchor="start" fill="#111" stroke="#111" stroke-width="0.3">3</text>
<text x="1728.2" y="518.1" font-family="Liberation Sans" font-size="9" font-weight="bold" font-style="normal" text-anchor="start" fill="#111" letter-spacing="0.4" stroke="#111" stroke-width="0.4">e</text>
<text x="1744" y="522.3" font-family="Liberation Sans" font-size="13.4" font-weight="bold" font-style="normal" text-anchor="start" fill="#111" textLength="42.8" lengthAdjust="spacingAndGlyphs" stroke="#111" stroke-width="0.4">étage</text>
<text x="1718.2" y="566.4" font-family="Liberation Sans" font-size="13.4" font-weight="bold" font-style="normal" text-anchor="start" fill="#111" stroke="#111" stroke-width="0.3">2</text>
<text x="1728.2" y="562.2" font-family="Liberation Sans" font-size="9" font-weight="bold" font-style="normal" text-anchor="start" fill="#111" letter-spacing="0.4" stroke="#111" stroke-width="0.4">e</text>
<text x="1744" y="566.4" font-family="Liberation Sans" font-size="13.4" font-weight="bold" font-style="normal" text-anchor="start" fill="#111" textLength="42.8" lengthAdjust="spacingAndGlyphs" stroke="#111" stroke-width="0.4">étage</text>
<text x="1718.2" y="611.7" font-family="Liberation Sans" font-size="13.4" font-weight="bold" font-style="normal" text-anchor="start" fill="#111" stroke="#111" stroke-width="0.3">1</text>
<text x="1728.2" y="607.5" font-family="Liberation Sans" font-size="9" font-weight="bold" font-style="normal" text-anchor="start" fill="#111" letter-spacing="0.4" stroke="#111" stroke-width="0.4">er</text>
<text x="1750.6" y="611.7" font-family="Liberation Sans" font-size="13.4" font-weight="bold" font-style="normal" text-anchor="start" fill="#111" textLength="42.8" lengthAdjust="spacingAndGlyphs" stroke="#111" stroke-width="0.4">étage</text>
<g transform="matrix(1,0.014,0,1,0,-3.19)">
<polygon points="214.6,1172.5 1226.3,1172.5 1226.3,1226 273.8,1225.35 271.5,1219.38 225.7,1220.03" fill="url(#hatch)" stroke="none" stroke-width="0" />
<polygon points="227.5,952.25 385,972.8 385,989.8 227.5,989.8" fill="url(#vse)" stroke="none" stroke-width="0" />
<polygon points="444.7,972.46 601,950.27 601,1000.25 444.7,980.39" fill="url(#vse)" stroke="none" stroke-width="0" />
<polygon points="502.5,987.74 741,1017.92 741,1032.6 502.5,1032.6" fill="url(#vse)" stroke="none" stroke-width="0" />
<polygon points="867,1031.25 991.2,1018.51 991.2,1048.8 867,1033.82" fill="url(#vse)" stroke="none" stroke-width="0" />
<polygon points="867,1033.82 1105.9,1066.6 1105.9,1079.3 867,1079.3" fill="url(#vse)" stroke="none" stroke-width="0" />
<polygon points="385,972.8 443,980.18 443,1032.6 385,1032.6" fill="url(#spl)" stroke="none" stroke-width="0" />
<polygon points="385,1032.6 562,1032.6 562,1079.3 385,1079.3" fill="url(#spl)" stroke="none" stroke-width="0" />
<polygon points="622.5,1032.6 741,1032.6 741,1079.3 622.5,1079.3" fill="url(#spl)" stroke="none" stroke-width="0" />
<polygon points="562,1079.3 682.5,1079.3 682.5,1125.5 562,1125.5" fill="url(#spl)" stroke="none" stroke-width="0" />
<polygon points="372.4,928.8 444.7,928 444.7,981.39 372.4,971.16" fill="url(#dark)" stroke="none" stroke-width="0" />
<line x1="444.7" y1="972.46" x2="601" y2="950.27" stroke="#111" stroke-width="2.6" stroke-linecap="butt"/>
<line x1="601" y1="949.27" x2="601" y2="1000.25" stroke="#111" stroke-width="2.6" stroke-linecap="butt"/>
<line x1="867" y1="1031.25" x2="991.2" y2="1018.51" stroke="#111" stroke-width="2.6" stroke-linecap="butt"/>
<line x1="991.2" y1="1017.51" x2="991.2" y2="1048.8" stroke="#111" stroke-width="2.6" stroke-linecap="butt"/>
<polygon points="1227.8,1162.4 1243,1162.4 1243,1214.4 1281,1214.4 1281,1226 1227.8,1226" fill="url(#vsb)" stroke="none" stroke-width="0" />
<polygon points="1285.5,1162.4 1325.6,1162 1325.6,1219 1313,1219 1313,1225.4 1285.5,1225.4" fill="url(#vsb)" stroke="none" stroke-width="0" />
<line x1="1243" y1="1162.4" x2="1243" y2="1214.4" stroke="#111" stroke-width="1.6" stroke-linecap="butt"/>
<line x1="1243" y1="1214.4" x2="1281" y2="1214.4" stroke="#111" stroke-width="1.4" stroke-linecap="butt"/>
<line x1="1325.6" y1="1162" x2="1325.6" y2="1219" stroke="#111" stroke-width="1.6" stroke-linecap="butt"/>
<line x1="1226.3" y1="1226.3" x2="1313" y2="1225.6" stroke="#111" stroke-width="2.4" stroke-linecap="butt"/>
<line x1="1313" y1="1219.4" x2="1327" y2="1219" stroke="#111" stroke-width="2" stroke-linecap="butt"/>
<polygon points="1312.5,1097.81 1417,1106.85 1453.5,1217.34 1423,1215.26 1405,1171.02 1339,1160.94" fill="url(#vsd)" stroke="#111" stroke-width="2.5" />
<line x1="1315" y1="1098.11" x2="1337.9" y2="1158.49" stroke="#161616" stroke-width="6.5" stroke-linecap="butt"/>
<line x1="1319.7" y1="1101.11" x2="1342.8" y2="1159.49" stroke="#ddd" stroke-width="1.0" stroke-linecap="butt"/>
<line x1="1338" y1="1160.45" x2="1406" y2="1172" stroke="#141414" stroke-width="5" stroke-linecap="butt"/>
<polygon points="1404,1169.53 1440,1173.03 1453.5,1217.34 1424,1215.75" fill="#1c1c1c" stroke="none" stroke-width="0" />
<line x1="1344" y1="1164.37" x2="1361.4" y2="1215.73" stroke="#141414" stroke-width="3.8" stroke-linecap="butt"/>
<line x1="1358.5" y1="1165.17" x2="1375.3" y2="1215.53" stroke="#141414" stroke-width="3.8" stroke-linecap="butt"/>
<line x1="1373" y1="1166.96" x2="1388.4" y2="1215.35" stroke="#141414" stroke-width="3.8" stroke-linecap="butt"/>
<line x1="1387" y1="1168.77" x2="1400.8" y2="1215.17" stroke="#141414" stroke-width="3.8" stroke-linecap="butt"/>
<line x1="1400" y1="1169.59" x2="1414" y2="1214.99" stroke="#141414" stroke-width="3.8" stroke-linecap="butt"/>
<line x1="1327" y1="1215.61" x2="1453.5" y2="1217.34" stroke="#111" stroke-width="1.8" stroke-linecap="butt"/>
<line x1="227.5" y1="952.25" x2="227.5" y2="1172.5" stroke="#111" stroke-width="4" stroke-linecap="butt"/>
<line x1="267.3" y1="957.44" x2="267.3" y2="989.8" stroke="#111" stroke-width="2.2" stroke-linecap="butt"/>
<line x1="267.3" y1="989.8" x2="267.3" y2="1222" stroke="#111" stroke-width="3" stroke-linecap="butt"/>
<line x1="326.4" y1="965.15" x2="326.4" y2="989.8" stroke="#111" stroke-width="2.2" stroke-linecap="butt"/>
<line x1="326.4" y1="989.8" x2="326.4" y2="1227" stroke="#111" stroke-width="3" stroke-linecap="butt"/>
<line x1="385" y1="972.8" x2="385" y2="1227" stroke="#111" stroke-width="3" stroke-linecap="butt"/>
<line x1="443" y1="980.18" x2="443" y2="1227" stroke="#111" stroke-width="3" stroke-linecap="butt"/>
<line x1="502.5" y1="987.74" x2="502.5" y2="1227" stroke="#111" stroke-width="3" stroke-linecap="butt"/>
<line x1="562" y1="995.31" x2="562" y2="1032.6" stroke="#111" stroke-width="2.2" stroke-linecap="butt"/>
<line x1="562" y1="1032.6" x2="562" y2="1227" stroke="#111" stroke-width="3" stroke-linecap="butt"/>
<line x1="622.5" y1="1002.96" x2="622.5" y2="1032.6" stroke="#111" stroke-width="2.2" stroke-linecap="butt"/>
<line x1="622.5" y1="1032.6" x2="622.5" y2="1227" stroke="#111" stroke-width="3" stroke-linecap="butt"/>
<line x1="682.5" y1="1010.54" x2="682.5" y2="1032.6" stroke="#111" stroke-width="2.2" stroke-linecap="butt"/>
<line x1="682.5" y1="1032.6" x2="682.5" y2="1227" stroke="#111" stroke-width="3" stroke-linecap="butt"/>
<line x1="741" y1="1017.92" x2="741" y2="1227" stroke="#111" stroke-width="3" stroke-linecap="butt"/>
<line x1="804" y1="1025.87" x2="804" y2="1227" stroke="#111" stroke-width="5" stroke-linecap="butt"/>
<line x1="867" y1="1033.82" x2="867" y2="1227" stroke="#111" stroke-width="3" stroke-linecap="butt"/>
<line x1="928.4" y1="1041.23" x2="928.4" y2="1079.3" stroke="#111" stroke-width="2.2" stroke-linecap="butt"/>
<line x1="928.4" y1="1079.3" x2="928.4" y2="1227" stroke="#111" stroke-width="3" stroke-linecap="butt"/>
<line x1="989" y1="1048.53" x2="989" y2="1079.3" stroke="#111" stroke-width="2.2" stroke-linecap="butt"/>
<line x1="989" y1="1079.3" x2="989" y2="1227" stroke="#111" stroke-width="3" stroke-linecap="butt"/>
<line x1="1048.2" y1="1057.65" x2="1048.2" y2="1079.3" stroke="#111" stroke-width="2.2" stroke-linecap="butt"/>
<line x1="1048.2" y1="1079.3" x2="1048.2" y2="1227" stroke="#111" stroke-width="3" stroke-linecap="butt"/>
<line x1="1105.9" y1="1066.6" x2="1105.9" y2="1227" stroke="#111" stroke-width="3" stroke-linecap="butt"/>
<line x1="1168" y1="1074.06" x2="1168" y2="1227" stroke="#111" stroke-width="3" stroke-linecap="butt"/>
<line x1="1226.3" y1="1081.59" x2="1226.3" y2="1227" stroke="#111" stroke-width="3" stroke-linecap="butt"/>
<line x1="1283.3" y1="1089.6" x2="1283.3" y2="1227" stroke="#111" stroke-width="3" stroke-linecap="butt"/>
<line x1="226" y1="989.8" x2="385" y2="989.8" stroke="#111" stroke-width="3" stroke-linecap="butt"/>
<line x1="226" y1="1032.6" x2="741" y2="1033.2" stroke="#111" stroke-width="3.2" stroke-linecap="butt"/>
<line x1="226" y1="1079.3" x2="1105.9" y2="1079.3" stroke="#111" stroke-width="3.2" stroke-linecap="butt"/>
<line x1="226" y1="1125.5" x2="1226.3" y2="1125.5" stroke="#111" stroke-width="3.2" stroke-linecap="butt"/>
<line x1="213.5" y1="1172.5" x2="1226.3" y2="1172.5" stroke="#111" stroke-width="3.2" stroke-linecap="butt"/>
<line x1="272.6" y1="1226" x2="1226.3" y2="1226" stroke="#111" stroke-width="3.2" stroke-linecap="butt"/>
<line x1="1226.3" y1="1113.6" x2="1317.5" y2="1113" stroke="#111" stroke-width="2.8" stroke-linecap="butt"/>
<line x1="1226.3" y1="1157" x2="1335" y2="1157" stroke="#111" stroke-width="3" stroke-linecap="butt"/>
<line x1="1226.3" y1="1162" x2="1337" y2="1161.6" stroke="#111" stroke-width="2" stroke-linecap="butt"/>
<line x1="209.7" y1="1149.25" x2="225.7" y2="1220.03" stroke="#111" stroke-width="2.8" stroke-linecap="butt"/>
<line x1="224.7" y1="1220.03" x2="264.5" y2="1219.48" stroke="#111" stroke-width="2.8" stroke-linecap="butt"/>
<line x1="255.5" y1="1176.31" x2="273.8" y2="1225.35" stroke="#111" stroke-width="2.8" stroke-linecap="butt"/>
<polyline points="216.8,950.85 385,972.8 580,997.6 866,1033.7 991.2,1048.8 1105.9,1066.6 1200,1077.9 1281,1089.25 1297,1091.7 1417,1106.8" fill="none" stroke="#111" stroke-width="4.4" stroke-linecap="round" stroke-linejoin="round"/>
<polygon points="1282,1091.97 1283.6,1082.47 1285.8,1075.97 1293.6,1075.97 1295.6,1082.47 1297,1092.47" fill="#2c2c2c" stroke="none" stroke-width="0" />
<rect x="525.2" y="1179.1" width="404.8" height="36" fill="#fff" stroke="#1a1a1a" stroke-width="1.7"/>
<text x="615.7" y="1202.5" font-family="Liberation Sans" font-size="17.4" font-weight="bold" font-style="italic" text-anchor="start" fill="#111" textLength="227.3" lengthAdjust="spacingAndGlyphs" stroke="#111" stroke-width="0.4">GALERIE COMMERCIALE</text>
<path d="M609.2,1196.3 H594.7 M600.2,1190.3 L593.4,1196.3 L600.2,1202.3" fill="none" stroke="#0c0c0c" stroke-width="3.6" stroke-linejoin="miter"/>
<path d="M850.5,1196.3 H865 M859.5,1190.3 L866.3,1196.3 L859.5,1202.3" fill="none" stroke="#0c0c0c" stroke-width="3.6" stroke-linejoin="miter"/>
<polyline points="212.5,1010.21 217.5,1032.64 226.5,1032.64" fill="none" stroke="#111" stroke-width="2.2"/>
<polyline points="213,1056.2 218,1078.83 226.5,1078.83" fill="none" stroke="#111" stroke-width="2.2"/>
<polyline points="213,1103.9 218.7,1126.32 226.5,1126.32" fill="none" stroke="#111" stroke-width="2.2"/>
<text x="182" y="1024.2" font-family="Liberation Sans" font-size="13.5" font-weight="bold" font-style="normal" text-anchor="start" fill="#111" >4</text>
<text x="191" y="1019.5" font-family="Liberation Sans" font-size="9" font-weight="bold" font-style="normal" text-anchor="start" fill="#111" letter-spacing="0.4" stroke="#111" stroke-width="0.4">e</text>
<text x="178.7" y="1069.2" font-family="Liberation Sans" font-size="13.5" font-weight="bold" font-style="normal" text-anchor="start" fill="#111" >3</text>
<text x="187.7" y="1064.5" font-family="Liberation Sans" font-size="9" font-weight="bold" font-style="normal" text-anchor="start" fill="#111" letter-spacing="0.4" stroke="#111" stroke-width="0.4">e</text>
<text x="182" y="1118" font-family="Liberation Sans" font-size="13.5" font-weight="bold" font-style="normal" text-anchor="start" fill="#111" >2</text>
<text x="191" y="1113.3" font-family="Liberation Sans" font-size="9" font-weight="bold" font-style="normal" text-anchor="start" fill="#111" letter-spacing="0.4" stroke="#111" stroke-width="0.4">e</text>
<text x="182" y="1165.5" font-family="Liberation Sans" font-size="13.5" font-weight="bold" font-style="normal" text-anchor="start" fill="#111" >1</text>
<text x="191" y="1160.8" font-family="Liberation Sans" font-size="9" font-weight="bold" font-style="normal" text-anchor="start" fill="#111" letter-spacing="0.4" stroke="#111" stroke-width="0.4">er</text>
<text x="247.4" y="1007.91" font-family="Liberation Sans" font-size="13.2" font-weight="bold" font-style="normal" text-anchor="middle" fill="#111" stroke="#111" stroke-width="0.3">I</text>
<text x="247.4" y="1026.64" font-family="Liberation Sans" font-size="16.6" font-weight="bold" font-style="normal" text-anchor="middle" fill="#111" stroke="#111" stroke-width="0.45">401</text>
<text x="296.85" y="1007.91" font-family="Liberation Sans" font-size="13.2" font-weight="bold" font-style="normal" text-anchor="middle" fill="#111" stroke="#111" stroke-width="0.3">J</text>
<text x="296.85" y="1026.64" font-family="Liberation Sans" font-size="16.6" font-weight="bold" font-style="normal" text-anchor="middle" fill="#111" stroke="#111" stroke-width="0.45">403</text>
<text x="355.7" y="1007.91" font-family="Liberation Sans" font-size="13.2" font-weight="bold" font-style="normal" text-anchor="middle" fill="#111" stroke="#111" stroke-width="0.3">J</text>
<text x="355.7" y="1026.64" font-family="Liberation Sans" font-size="16.6" font-weight="bold" font-style="normal" text-anchor="middle" fill="#111" stroke="#111" stroke-width="0.45">403</text>
<text x="414" y="1007.91" font-family="Liberation Sans" font-size="13.2" font-weight="bold" font-style="normal" text-anchor="middle" fill="#111" stroke="#111" stroke-width="0.3">H</text>
<text x="414" y="1026.64" font-family="Liberation Sans" font-size="16.6" font-weight="bold" font-style="normal" text-anchor="middle" fill="#111" stroke="#111" stroke-width="0.45">405</text>
<text x="463.25" y="1007.91" font-family="Liberation Sans" font-size="13.2" font-weight="bold" font-style="normal" text-anchor="middle" fill="#111" stroke="#111" stroke-width="0.3">H</text>
<text x="483.25" y="1007.91" font-family="Liberation Sans" font-size="13.2" font-weight="bold" font-style="normal" text-anchor="middle" fill="#111" stroke="#111" stroke-width="0.3">3</text>
<text x="472.75" y="1026.64" font-family="Liberation Sans" font-size="16.6" font-weight="bold" font-style="normal" text-anchor="middle" fill="#111" stroke="#111" stroke-width="0.45">407</text>
<text x="247.4" y="1051.01" font-family="Liberation Sans" font-size="13.2" font-weight="bold" font-style="normal" text-anchor="middle" fill="#111" stroke="#111" stroke-width="0.3">I</text>
<text x="247.4" y="1071.44" font-family="Liberation Sans" font-size="16.6" font-weight="bold" font-style="normal" text-anchor="middle" fill="#111" stroke="#111" stroke-width="0.45">301</text>
<text x="296.85" y="1051.01" font-family="Liberation Sans" font-size="13.2" font-weight="bold" font-style="normal" text-anchor="middle" fill="#111" stroke="#111" stroke-width="0.3">J</text>
<text x="296.85" y="1071.44" font-family="Liberation Sans" font-size="16.6" font-weight="bold" font-style="normal" text-anchor="middle" fill="#111" stroke="#111" stroke-width="0.45">303</text>
<text x="355.7" y="1051.01" font-family="Liberation Sans" font-size="13.2" font-weight="bold" font-style="normal" text-anchor="middle" fill="#111" stroke="#111" stroke-width="0.3">J</text>
<text x="355.7" y="1071.44" font-family="Liberation Sans" font-size="16.6" font-weight="bold" font-style="normal" text-anchor="middle" fill="#111" stroke="#111" stroke-width="0.45">303</text>
<text x="414" y="1051.01" font-family="Liberation Sans" font-size="13.2" font-weight="bold" font-style="normal" text-anchor="middle" fill="#111" stroke="#111" stroke-width="0.3">H</text>
<text x="414" y="1071.44" font-family="Liberation Sans" font-size="16.6" font-weight="bold" font-style="normal" text-anchor="middle" fill="#111" stroke="#111" stroke-width="0.45">305</text>
<text x="472.75" y="1051.01" font-family="Liberation Sans" font-size="13.2" font-weight="bold" font-style="normal" text-anchor="middle" fill="#111" stroke="#111" stroke-width="0.3">H</text>
<text x="472.75" y="1071.44" font-family="Liberation Sans" font-size="16.6" font-weight="bold" font-style="normal" text-anchor="middle" fill="#111" stroke="#111" stroke-width="0.45">307</text>
<text x="532.25" y="1051.01" font-family="Liberation Sans" font-size="13.2" font-weight="bold" font-style="normal" text-anchor="middle" fill="#111" stroke="#111" stroke-width="0.3">H</text>
<text x="532.25" y="1071.44" font-family="Liberation Sans" font-size="16.6" font-weight="bold" font-style="normal" text-anchor="middle" fill="#111" stroke="#111" stroke-width="0.45">309</text>
<text x="592.25" y="1051.01" font-family="Liberation Sans" font-size="13.2" font-weight="bold" font-style="normal" text-anchor="middle" fill="#111" stroke="#111" stroke-width="0.3">H</text>
<text x="592.25" y="1071.44" font-family="Liberation Sans" font-size="16.6" font-weight="bold" font-style="normal" text-anchor="middle" fill="#111" stroke="#111" stroke-width="0.45">311</text>
<text x="652.5" y="1051.01" font-family="Liberation Sans" font-size="13.2" font-weight="bold" font-style="normal" text-anchor="middle" fill="#111" stroke="#111" stroke-width="0.3">H</text>
<text x="652.5" y="1071.44" font-family="Liberation Sans" font-size="16.6" font-weight="bold" font-style="normal" text-anchor="middle" fill="#111" stroke="#111" stroke-width="0.45">313</text>
<text x="711.75" y="1051.01" font-family="Liberation Sans" font-size="13.2" font-weight="bold" font-style="normal" text-anchor="middle" fill="#111" stroke="#111" stroke-width="0.3">H</text>
<text x="711.75" y="1071.44" font-family="Liberation Sans" font-size="16.6" font-weight="bold" font-style="normal" text-anchor="middle" fill="#111" stroke="#111" stroke-width="0.45">315</text>
<text x="772.5" y="1051.01" font-family="Liberation Sans" font-size="13.2" font-weight="bold" font-style="normal" text-anchor="middle" fill="#111" stroke="#111" stroke-width="0.3">H</text>
<text x="772.5" y="1071.44" font-family="Liberation Sans" font-size="16.6" font-weight="bold" font-style="normal" text-anchor="middle" fill="#111" stroke="#111" stroke-width="0.45">317</text>
<text x="826" y="1051.01" font-family="Liberation Sans" font-size="13.2" font-weight="bold" font-style="normal" text-anchor="middle" fill="#111" stroke="#111" stroke-width="0.3">H</text>
<text x="846" y="1051.01" font-family="Liberation Sans" font-size="13.2" font-weight="bold" font-style="normal" text-anchor="middle" fill="#111" stroke="#111" stroke-width="0.3">3</text>
<text x="835.5" y="1071.44" font-family="Liberation Sans" font-size="16.6" font-weight="bold" font-style="normal" text-anchor="middle" fill="#111" stroke="#111" stroke-width="0.45">319</text>
<text x="247.4" y="1098.89" font-family="Liberation Sans" font-size="13.2" font-weight="bold" font-style="normal" text-anchor="middle" fill="#111" stroke="#111" stroke-width="0.3">I</text>
<text x="247.4" y="1119.03" font-family="Liberation Sans" font-size="16.6" font-weight="bold" font-style="normal" text-anchor="middle" fill="#111" stroke="#111" stroke-width="0.45">201</text>
<text x="296.85" y="1098.78" font-family="Liberation Sans" font-size="13.2" font-weight="bold" font-style="normal" text-anchor="middle" fill="#111" stroke="#111" stroke-width="0.3">J</text>
<text x="296.85" y="1118.92" font-family="Liberation Sans" font-size="16.6" font-weight="bold" font-style="normal" text-anchor="middle" fill="#111" stroke="#111" stroke-width="0.45">203</text>
<text x="355.7" y="1098.61" font-family="Liberation Sans" font-size="13.2" font-weight="bold" font-style="normal" text-anchor="middle" fill="#111" stroke="#111" stroke-width="0.3">J</text>
<text x="355.7" y="1118.74" font-family="Liberation Sans" font-size="16.6" font-weight="bold" font-style="normal" text-anchor="middle" fill="#111" stroke="#111" stroke-width="0.45">203</text>
<text x="414" y="1098.39" font-family="Liberation Sans" font-size="13.2" font-weight="bold" font-style="normal" text-anchor="middle" fill="#111" stroke="#111" stroke-width="0.3">H</text>
<text x="414" y="1118.52" font-family="Liberation Sans" font-size="16.6" font-weight="bold" font-style="normal" text-anchor="middle" fill="#111" stroke="#111" stroke-width="0.45">205</text>
<text x="472.75" y="1098.15" font-family="Liberation Sans" font-size="13.2" font-weight="bold" font-style="normal" text-anchor="middle" fill="#111" stroke="#111" stroke-width="0.3">H</text>
<text x="472.75" y="1118.28" font-family="Liberation Sans" font-size="16.6" font-weight="bold" font-style="normal" text-anchor="middle" fill="#111" stroke="#111" stroke-width="0.45">207</text>
<text x="532.25" y="1097.9" font-family="Liberation Sans" font-size="13.2" font-weight="bold" font-style="normal" text-anchor="middle" fill="#111" stroke="#111" stroke-width="0.3">H</text>
<text x="532.25" y="1118.03" font-family="Liberation Sans" font-size="16.6" font-weight="bold" font-style="normal" text-anchor="middle" fill="#111" stroke="#111" stroke-width="0.45">209</text>
<text x="592.25" y="1097.68" font-family="Liberation Sans" font-size="13.2" font-weight="bold" font-style="normal" text-anchor="middle" fill="#111" stroke="#111" stroke-width="0.3">H</text>
<text x="592.25" y="1117.81" font-family="Liberation Sans" font-size="16.6" font-weight="bold" font-style="normal" text-anchor="middle" fill="#111" stroke="#111" stroke-width="0.45">211</text>
<text x="652.5" y="1097.55" font-family="Liberation Sans" font-size="13.2" font-weight="bold" font-style="normal" text-anchor="middle" fill="#111" stroke="#111" stroke-width="0.3">H</text>
<text x="652.5" y="1117.68" font-family="Liberation Sans" font-size="16.6" font-weight="bold" font-style="normal" text-anchor="middle" fill="#111" stroke="#111" stroke-width="0.45">213</text>
<text x="711.75" y="1097.51" font-family="Liberation Sans" font-size="13.2" font-weight="bold" font-style="normal" text-anchor="middle" fill="#111" stroke="#111" stroke-width="0.3">H</text>
<text x="711.75" y="1117.64" font-family="Liberation Sans" font-size="16.6" font-weight="bold" font-style="normal" text-anchor="middle" fill="#111" stroke="#111" stroke-width="0.45">215</text>
<text x="772.5" y="1097.59" font-family="Liberation Sans" font-size="13.2" font-weight="bold" font-style="normal" text-anchor="middle" fill="#111" stroke="#111" stroke-width="0.3">H</text>
<text x="772.5" y="1117.72" font-family="Liberation Sans" font-size="16.6" font-weight="bold" font-style="normal" text-anchor="middle" fill="#111" stroke="#111" stroke-width="0.45">217</text>
<text x="835.5" y="1097.77" font-family="Liberation Sans" font-size="13.2" font-weight="bold" font-style="normal" text-anchor="middle" fill="#111" stroke="#111" stroke-width="0.3">H</text>
<text x="835.5" y="1117.91" font-family="Liberation Sans" font-size="16.6" font-weight="bold" font-style="normal" text-anchor="middle" fill="#111" stroke="#111" stroke-width="0.45">219</text>
<text x="897.7" y="1098.02" font-family="Liberation Sans" font-size="13.2" font-weight="bold" font-style="normal" text-anchor="middle" fill="#111" stroke="#111" stroke-width="0.3">H</text>
<text x="897.7" y="1118.15" font-family="Liberation Sans" font-size="16.6" font-weight="bold" font-style="normal" text-anchor="middle" fill="#111" stroke="#111" stroke-width="0.45">221</text>
<text x="958.7" y="1098.28" font-family="Liberation Sans" font-size="13.2" font-weight="bold" font-style="normal" text-anchor="middle" fill="#111" stroke="#111" stroke-width="0.3">H</text>
<text x="958.7" y="1118.41" font-family="Liberation Sans" font-size="16.6" font-weight="bold" font-style="normal" text-anchor="middle" fill="#111" stroke="#111" stroke-width="0.45">223</text>
<text x="1018.6" y="1098.52" font-family="Liberation Sans" font-size="13.2" font-weight="bold" font-style="normal" text-anchor="middle" fill="#111" stroke="#111" stroke-width="0.3">H</text>
<text x="1018.6" y="1118.65" font-family="Liberation Sans" font-size="16.6" font-weight="bold" font-style="normal" text-anchor="middle" fill="#111" stroke="#111" stroke-width="0.45">225</text>
<text x="1077.05" y="1098.71" font-family="Liberation Sans" font-size="13.2" font-weight="bold" font-style="normal" text-anchor="middle" fill="#111" stroke="#111" stroke-width="0.3">H</text>
<text x="1077.05" y="1118.84" font-family="Liberation Sans" font-size="16.6" font-weight="bold" font-style="normal" text-anchor="middle" fill="#111" stroke="#111" stroke-width="0.45">227</text>
<text x="1136.95" y="1098.86" font-family="Liberation Sans" font-size="13.2" font-weight="bold" font-style="normal" text-anchor="middle" fill="#111" stroke="#111" stroke-width="0.3">H</text>
<text x="1136.95" y="1118.99" font-family="Liberation Sans" font-size="16.6" font-weight="bold" font-style="normal" text-anchor="middle" fill="#111" stroke="#111" stroke-width="0.45">229</text>
<text x="1197.15" y="1098.97" font-family="Liberation Sans" font-size="13.2" font-weight="bold" font-style="normal" text-anchor="middle" fill="#111" stroke="#111" stroke-width="0.3">H</text>
<text x="1197.15" y="1119.1" font-family="Liberation Sans" font-size="16.6" font-weight="bold" font-style="normal" text-anchor="middle" fill="#111" stroke="#111" stroke-width="0.45">231</text>
<text x="247.4" y="1146.19" font-family="Liberation Sans" font-size="13.2" font-weight="bold" font-style="normal" text-anchor="middle" fill="#111" stroke="#111" stroke-width="0.3">I</text>
<text x="247.4" y="1166.63" font-family="Liberation Sans" font-size="16.6" font-weight="bold" font-style="normal" text-anchor="middle" fill="#111" stroke="#111" stroke-width="0.45">101</text>
<text x="296.85" y="1146.08" font-family="Liberation Sans" font-size="13.2" font-weight="bold" font-style="normal" text-anchor="middle" fill="#111" stroke="#111" stroke-width="0.3">J</text>
<text x="296.85" y="1166.52" font-family="Liberation Sans" font-size="16.6" font-weight="bold" font-style="normal" text-anchor="middle" fill="#111" stroke="#111" stroke-width="0.45">103</text>
<text x="355.7" y="1145.91" font-family="Liberation Sans" font-size="13.2" font-weight="bold" font-style="normal" text-anchor="middle" fill="#111" stroke="#111" stroke-width="0.3">J</text>
<text x="355.7" y="1166.34" font-family="Liberation Sans" font-size="16.6" font-weight="bold" font-style="normal" text-anchor="middle" fill="#111" stroke="#111" stroke-width="0.45">103</text>
<text x="414" y="1145.69" font-family="Liberation Sans" font-size="13.2" font-weight="bold" font-style="normal" text-anchor="middle" fill="#111" stroke="#111" stroke-width="0.3">H</text>
<text x="414" y="1166.12" font-family="Liberation Sans" font-size="16.6" font-weight="bold" font-style="normal" text-anchor="middle" fill="#111" stroke="#111" stroke-width="0.45">105</text>
<text x="472.75" y="1145.45" font-family="Liberation Sans" font-size="13.2" font-weight="bold" font-style="normal" text-anchor="middle" fill="#111" stroke="#111" stroke-width="0.3">H</text>
<text x="472.75" y="1165.88" font-family="Liberation Sans" font-size="16.6" font-weight="bold" font-style="normal" text-anchor="middle" fill="#111" stroke="#111" stroke-width="0.45">107</text>
<text x="532.25" y="1145.2" font-family="Liberation Sans" font-size="13.2" font-weight="bold" font-style="normal" text-anchor="middle" fill="#111" stroke="#111" stroke-width="0.3">H</text>
<text x="532.25" y="1165.63" font-family="Liberation Sans" font-size="16.6" font-weight="bold" font-style="normal" text-anchor="middle" fill="#111" stroke="#111" stroke-width="0.45">109</text>
<text x="592.25" y="1144.98" font-family="Liberation Sans" font-size="13.2" font-weight="bold" font-style="normal" text-anchor="middle" fill="#111" stroke="#111" stroke-width="0.3">H</text>
<text x="592.25" y="1165.41" font-family="Liberation Sans" font-size="16.6" font-weight="bold" font-style="normal" text-anchor="middle" fill="#111" stroke="#111" stroke-width="0.45">111</text>
<text x="652.5" y="1144.85" font-family="Liberation Sans" font-size="13.2" font-weight="bold" font-style="normal" text-anchor="middle" fill="#111" stroke="#111" stroke-width="0.3">H</text>
<text x="652.5" y="1165.28" font-family="Liberation Sans" font-size="16.6" font-weight="bold" font-style="normal" text-anchor="middle" fill="#111" stroke="#111" stroke-width="0.45">113</text>
<text x="711.75" y="1144.81" font-family="Liberation Sans" font-size="13.2" font-weight="bold" font-style="normal" text-anchor="middle" fill="#111" stroke="#111" stroke-width="0.3">H</text>
<text x="711.75" y="1165.24" font-family="Liberation Sans" font-size="16.6" font-weight="bold" font-style="normal" text-anchor="middle" fill="#111" stroke="#111" stroke-width="0.45">115</text>
<text x="772.5" y="1144.89" font-family="Liberation Sans" font-size="13.2" font-weight="bold" font-style="normal" text-anchor="middle" fill="#111" stroke="#111" stroke-width="0.3">H</text>
<text x="772.5" y="1165.32" font-family="Liberation Sans" font-size="16.6" font-weight="bold" font-style="normal" text-anchor="middle" fill="#111" stroke="#111" stroke-width="0.45">117</text>
<text x="835.5" y="1145.07" font-family="Liberation Sans" font-size="13.2" font-weight="bold" font-style="normal" text-anchor="middle" fill="#111" stroke="#111" stroke-width="0.3">H</text>
<text x="835.5" y="1165.51" font-family="Liberation Sans" font-size="16.6" font-weight="bold" font-style="normal" text-anchor="middle" fill="#111" stroke="#111" stroke-width="0.45">119</text>
<text x="897.7" y="1145.32" font-family="Liberation Sans" font-size="13.2" font-weight="bold" font-style="normal" text-anchor="middle" fill="#111" stroke="#111" stroke-width="0.3">H</text>
<text x="897.7" y="1165.75" font-family="Liberation Sans" font-size="16.6" font-weight="bold" font-style="normal" text-anchor="middle" fill="#111" stroke="#111" stroke-width="0.45">121</text>
<text x="958.7" y="1145.58" font-family="Liberation Sans" font-size="13.2" font-weight="bold" font-style="normal" text-anchor="middle" fill="#111" stroke="#111" stroke-width="0.3">H</text>
<text x="958.7" y="1166.01" font-family="Liberation Sans" font-size="16.6" font-weight="bold" font-style="normal" text-anchor="middle" fill="#111" stroke="#111" stroke-width="0.45">123</text>
<text x="1018.6" y="1145.82" font-family="Liberation Sans" font-size="13.2" font-weight="bold" font-style="normal" text-anchor="middle" fill="#111" stroke="#111" stroke-width="0.3">H</text>
<text x="1018.6" y="1166.25" font-family="Liberation Sans" font-size="16.6" font-weight="bold" font-style="normal" text-anchor="middle" fill="#111" stroke="#111" stroke-width="0.45">125</text>
<text x="1077.05" y="1146.01" font-family="Liberation Sans" font-size="13.2" font-weight="bold" font-style="normal" text-anchor="middle" fill="#111" stroke="#111" stroke-width="0.3">H</text>
<text x="1077.05" y="1166.44" font-family="Liberation Sans" font-size="16.6" font-weight="bold" font-style="normal" text-anchor="middle" fill="#111" stroke="#111" stroke-width="0.45">127</text>
<text x="1136.95" y="1146.16" font-family="Liberation Sans" font-size="13.2" font-weight="bold" font-style="normal" text-anchor="middle" fill="#111" stroke="#111" stroke-width="0.3">H</text>
<text x="1136.95" y="1166.59" font-family="Liberation Sans" font-size="16.6" font-weight="bold" font-style="normal" text-anchor="middle" fill="#111" stroke="#111" stroke-width="0.45">129</text>
<text x="1197.15" y="1146.27" font-family="Liberation Sans" font-size="13.2" font-weight="bold" font-style="normal" text-anchor="middle" fill="#111" stroke="#111" stroke-width="0.3">H</text>
<text x="1197.15" y="1166.7" font-family="Liberation Sans" font-size="16.6" font-weight="bold" font-style="normal" text-anchor="middle" fill="#111" stroke="#111" stroke-width="0.45">131</text>
<text x="1254.8" y="1130.93" font-family="Liberation Sans" font-size="13.2" font-weight="bold" font-style="normal" text-anchor="middle" fill="#111" stroke="#111" stroke-width="0.3">H</text>
<text x="1254.8" y="1151.56" font-family="Liberation Sans" font-size="16.6" font-weight="bold" font-style="normal" text-anchor="middle" fill="#111" stroke="#111" stroke-width="0.45">133</text>
<text x="1306" y="1132.71" font-family="Liberation Sans" font-size="13.2" font-weight="bold" font-style="normal" text-anchor="middle" fill="#111" stroke="#111" stroke-width="0.3">K</text>
<text x="1306" y="1152.34" font-family="Liberation Sans" font-size="16.6" font-weight="bold" font-style="normal" text-anchor="middle" fill="#111" stroke="#111" stroke-width="0.45">135</text>
</g>
<line x1="108" y1="1172.8" x2="215.4" y2="1172.8" stroke="#111" stroke-width="1.8" stroke-linecap="butt"/>
<line x1="110" y1="1179.4" x2="216.5" y2="1179.4" stroke="#111" stroke-width="1.8" stroke-linecap="butt"/>
<line x1="111.2" y1="1179.4" x2="111.2" y2="1232" stroke="#111" stroke-width="1.6" stroke-linecap="butt"/>
<line x1="119" y1="1179.4" x2="119" y2="1229" stroke="#111" stroke-width="1.6" stroke-linecap="butt"/>
<polygon points="162.6,1201 144.4,1243 155.8,1243" fill="#0c0c0c" stroke="none" stroke-width="0" />
<rect x="1508.6" y="755.2" width="402" height="83.6" fill="#fff" stroke="#111" stroke-width="1.7"/>
<text x="1548.7" y="777.3" font-family="Liberation Sans" font-size="16.8" font-weight="bold" font-style="italic" text-anchor="start" fill="#111" textLength="322" lengthAdjust="spacingAndGlyphs" stroke="#111" stroke-width="0.3">DEPOSE MINUTE ACCES VEHICULE</text>
<text x="1556.8" y="799.3" font-family="Liberation Sans" font-size="16.8" font-weight="bold" font-style="italic" text-anchor="start" fill="#111" textLength="307" lengthAdjust="spacingAndGlyphs" stroke="#111" stroke-width="0.3">ENTREE RESIDENCE BELLECOTE</text>
<text x="1533.2" y="821.1" font-family="Liberation Sans" font-size="16.8" font-weight="bold" font-style="normal" text-anchor="start" fill="#111" textLength="352" lengthAdjust="spacingAndGlyphs" stroke="#111" stroke-width="0.3">ENTREE HOTEL DU GOLF - LATITUDES</text>
<rect x="22.8" y="1244.2" width="302.4" height="99.2" fill="#fff" stroke="#111" stroke-width="1.7"/>
<text x="31.6" y="1264.9" font-family="Liberation Sans" font-size="16.8" font-weight="bold" font-style="italic" text-anchor="start" fill="#111" textLength="285.8" lengthAdjust="spacingAndGlyphs" stroke="#111" stroke-width="0.3">ENTREE RESIDENCE ET HOTEL</text>
<text x="106.6" y="1286.7" font-family="Liberation Sans" font-size="16.8" font-weight="bold" font-style="italic" text-anchor="start" fill="#111" textLength="136.8" lengthAdjust="spacingAndGlyphs" stroke="#111" stroke-width="0.3">ACCES PISTES</text>
<text x="77.5" y="1308.4" font-family="Liberation Sans" font-size="16.8" font-weight="bold" font-style="normal" text-anchor="start" fill="#111" textLength="193.4" lengthAdjust="spacingAndGlyphs" stroke="#111" stroke-width="0.3">ACCES COMMERCES</text>
<text x="126.5" y="1330.2" font-family="Liberation Sans" font-size="16.8" font-weight="bold" font-style="normal" text-anchor="start" fill="#111" textLength="95.8" lengthAdjust="spacingAndGlyphs" stroke="#111" stroke-width="0.3">ESF (50 m)</text>
<g transform="rotate(0.42 1615 1210)">
<rect x="1472.2" y="1185.2" width="285.8" height="50.2" fill="#fff" stroke="#111" stroke-width="1.7"/>
<text x="1524" y="1207.1" font-family="Liberation Sans" font-size="16.8" font-weight="bold" font-style="italic" text-anchor="start" fill="#111" textLength="184.5" lengthAdjust="spacingAndGlyphs" stroke="#111" stroke-width="0.3">PLACE DU MIRAVIDI</text>
<text x="1521.6" y="1228.9" font-family="Liberation Sans" font-size="16.8" font-weight="bold" font-style="normal" text-anchor="start" fill="#111" textLength="186.2" lengthAdjust="spacingAndGlyphs" stroke="#111" stroke-width="0.3">BAR &amp; COMMERCES</text>
</g>
<circle cx="965" cy="170" r="1.6" fill="#222"/>
<circle cx="1392" cy="910" r="1.5" fill="#222"/>
<circle cx="1564" cy="746" r="1.4" fill="#222"/>
<circle cx="822" cy="713" r="1.2" fill="#222"/>
<circle cx="1090" cy="1270" r="1.0" fill="#222"/>
<circle cx="1097" cy="1270" r="0.9" fill="#222"/>
<circle cx="228" cy="432" r="0.8" fill="#222"/>
<circle cx="747" cy="431" r="1.0" fill="#222"/>
<circle cx="1226" cy="512" r="0.9" fill="#222"/>
<circle cx="190" cy="540" r="0.8" fill="#222"/>
<circle cx="197" cy="541" r="0.7" fill="#222"/>
<circle cx="546" cy="692" r="0.9" fill="#222"/>
<circle cx="1570" cy="934" r="0.8" fill="#222"/>
<circle cx="1708" cy="996" r="0.8" fill="#222"/>
<circle cx="724" cy="520" r="0.8" fill="#222"/>
<circle cx="962" cy="538" r="0.9" fill="#222"/>
<circle cx="1257" cy="1066" r="1.0" fill="#222"/>
<line x1="609" y1="390" x2="616" y2="388" stroke="#222" stroke-width="1.6" stroke-linecap="butt"/>
<line x1="1787" y1="398" x2="1793" y2="395" stroke="#222" stroke-width="1.6" stroke-linecap="butt"/>
<line x1="604" y1="1336" x2="612" y2="1336" stroke="#333" stroke-width="1.4" stroke-linecap="butt"/>
<line x1="736" y1="508" x2="740" y2="512" stroke="#333" stroke-width="1.2" stroke-linecap="butt"/>
<rect x="0" y="1367.6" width="1920" height="1.4" fill="#b4b4b4"/>
</svg></body></html>
